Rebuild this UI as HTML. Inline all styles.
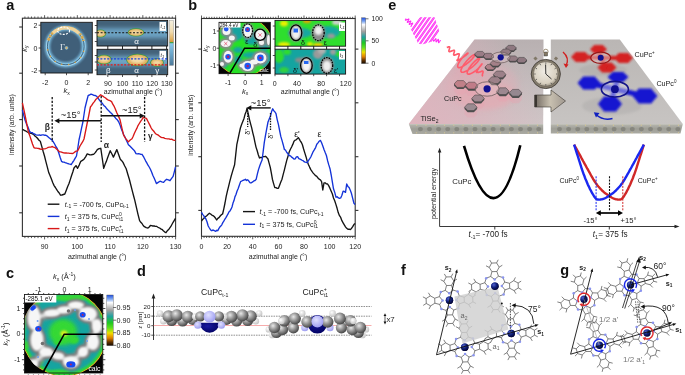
<!DOCTYPE html><html><head><meta charset="utf-8"><style>html,body{margin:0;padding:0;background:#fff;overflow:hidden} svg{display:block;will-change:transform} text{font-family:"Liberation Sans", sans-serif;}</style></head><body>
<svg width="685" height="375" viewBox="0 0 685 375">
<rect width="685" height="375" fill="#fff"/>
<defs>
<filter id="b1" x="-50%" y="-50%" width="200%" height="200%"><feGaussianBlur stdDeviation="1"/></filter>
<filter id="b15" x="-50%" y="-50%" width="200%" height="200%"><feGaussianBlur stdDeviation="1.5"/></filter>
<filter id="b2" x="-50%" y="-50%" width="200%" height="200%"><feGaussianBlur stdDeviation="2"/></filter>
<filter id="b3" x="-50%" y="-50%" width="200%" height="200%"><feGaussianBlur stdDeviation="3"/></filter>
<filter id="b05" x="-50%" y="-50%" width="200%" height="200%"><feGaussianBlur stdDeviation="0.6"/></filter>
<clipPath id="cpa1"><rect x="40.8" y="22.3" width="51.5" height="50.7"/></clipPath>
<clipPath id="cpa2"><rect x="97" y="20.4" width="70.7" height="25.6"/></clipPath>
<clipPath id="cpa3"><rect x="97" y="49.3" width="70.7" height="25.4"/></clipPath>
<clipPath id="cpb1"><circle cx="243.6" cy="46.8" r="29.8"/></clipPath><clipPath id="cpb0"><rect x="219" y="22.3" width="51.3" height="51.4"/></clipPath>
<clipPath id="cpb2"><rect x="275" y="20.4" width="70.6" height="25.8"/></clipPath>
<clipPath id="cpb3"><rect x="275" y="49.2" width="70.6" height="24.9"/></clipPath>
<clipPath id="cpc"><circle cx="64.2" cy="333.6" r="43"/></clipPath>
<clipPath id="cpc0"><rect x="24.5" y="294.5" width="78.5" height="80.5"/></clipPath>
<linearGradient id="cba" x1="0" y1="0" x2="0" y2="1">
<stop offset="0" stop-color="#f4f0e0"/><stop offset="0.25" stop-color="#f0dcb0"/><stop offset="0.42" stop-color="#e0b060"/><stop offset="0.47" stop-color="#d89838"/><stop offset="0.49" stop-color="#40a040"/><stop offset="0.52" stop-color="#88c8e8"/><stop offset="0.75" stop-color="#6aa4c8"/><stop offset="1" stop-color="#4c7898"/></linearGradient>
<linearGradient id="cbb" x1="0" y1="0" x2="0" y2="1">
<stop offset="0" stop-color="#2050e0"/><stop offset="0.08" stop-color="#80a8f0"/><stop offset="0.15" stop-color="#ffffff"/><stop offset="0.3" stop-color="#a0a0a0"/><stop offset="0.42" stop-color="#20a0a0"/><stop offset="0.55" stop-color="#20c820"/><stop offset="0.65" stop-color="#60e020"/><stop offset="0.75" stop-color="#f0e000"/><stop offset="0.85" stop-color="#e08000"/><stop offset="0.93" stop-color="#603000"/><stop offset="1" stop-color="#100800"/></linearGradient>
</defs>
<defs>
<radialGradient id="sg" cx="0.38" cy="0.35" r="0.7"><stop offset="0" stop-color="#e8e8e8"/><stop offset="0.45" stop-color="#989898"/><stop offset="1" stop-color="#3c3c3c"/></radialGradient>
<radialGradient id="sw" cx="0.38" cy="0.35" r="0.7"><stop offset="0" stop-color="#ffffff"/><stop offset="1" stop-color="#c0c0c0"/></radialGradient>
<radialGradient id="sb" cx="0.4" cy="0.35" r="0.7"><stop offset="0" stop-color="#e0e0ff"/><stop offset="1" stop-color="#9898f0"/></radialGradient>
<radialGradient id="sn" cx="0.4" cy="0.35" r="0.7"><stop offset="0" stop-color="#1a1aa0"/><stop offset="1" stop-color="#000060"/></radialGradient>
<radialGradient id="cu" cx="0.35" cy="0.3" r="0.75"><stop offset="0" stop-color="#5060d0"/><stop offset="0.5" stop-color="#10207a"/><stop offset="1" stop-color="#000030"/></radialGradient>
</defs>
<rect x="22.4" y="18.2" width="153.2" height="218.20000000000002" fill="none" stroke="#333" stroke-width="1.1"/>
<line x1="19.20" y1="27.00" x2="22.40" y2="27.00" stroke="#333" stroke-width="1.1" />
<line x1="175.60" y1="27.00" x2="178.80" y2="27.00" stroke="#333" stroke-width="1.1" />
<line x1="19.20" y1="73.20" x2="22.40" y2="73.20" stroke="#333" stroke-width="1.1" />
<line x1="175.60" y1="73.20" x2="178.80" y2="73.20" stroke="#333" stroke-width="1.1" />
<line x1="19.20" y1="119.60" x2="22.40" y2="119.60" stroke="#333" stroke-width="1.1" />
<line x1="175.60" y1="119.60" x2="178.80" y2="119.60" stroke="#333" stroke-width="1.1" />
<line x1="19.20" y1="166.00" x2="22.40" y2="166.00" stroke="#333" stroke-width="1.1" />
<line x1="175.60" y1="166.00" x2="178.80" y2="166.00" stroke="#333" stroke-width="1.1" />
<line x1="19.20" y1="212.80" x2="22.40" y2="212.80" stroke="#333" stroke-width="1.1" />
<line x1="175.60" y1="212.80" x2="178.80" y2="212.80" stroke="#333" stroke-width="1.1" />
<line x1="24.92" y1="236.40" x2="24.92" y2="238.10" stroke="#333" stroke-width="0.8" />
<line x1="24.92" y1="18.20" x2="24.92" y2="16.50" stroke="#333" stroke-width="0.8" />
<line x1="28.20" y1="236.40" x2="28.20" y2="238.10" stroke="#333" stroke-width="0.8" />
<line x1="28.20" y1="18.20" x2="28.20" y2="16.50" stroke="#333" stroke-width="0.8" />
<line x1="31.47" y1="236.40" x2="31.47" y2="238.10" stroke="#333" stroke-width="0.8" />
<line x1="31.47" y1="18.20" x2="31.47" y2="16.50" stroke="#333" stroke-width="0.8" />
<line x1="34.75" y1="236.40" x2="34.75" y2="238.10" stroke="#333" stroke-width="0.8" />
<line x1="34.75" y1="18.20" x2="34.75" y2="16.50" stroke="#333" stroke-width="0.8" />
<line x1="38.02" y1="236.40" x2="38.02" y2="238.10" stroke="#333" stroke-width="0.8" />
<line x1="38.02" y1="18.20" x2="38.02" y2="16.50" stroke="#333" stroke-width="0.8" />
<line x1="41.30" y1="236.40" x2="41.30" y2="238.10" stroke="#333" stroke-width="0.8" />
<line x1="41.30" y1="18.20" x2="41.30" y2="16.50" stroke="#333" stroke-width="0.8" />
<line x1="44.58" y1="236.40" x2="44.58" y2="239.40" stroke="#333" stroke-width="0.8" />
<line x1="44.58" y1="18.20" x2="44.58" y2="15.20" stroke="#333" stroke-width="0.8" />
<line x1="47.85" y1="236.40" x2="47.85" y2="238.10" stroke="#333" stroke-width="0.8" />
<line x1="47.85" y1="18.20" x2="47.85" y2="16.50" stroke="#333" stroke-width="0.8" />
<line x1="51.13" y1="236.40" x2="51.13" y2="238.10" stroke="#333" stroke-width="0.8" />
<line x1="51.13" y1="18.20" x2="51.13" y2="16.50" stroke="#333" stroke-width="0.8" />
<line x1="54.40" y1="236.40" x2="54.40" y2="238.10" stroke="#333" stroke-width="0.8" />
<line x1="54.40" y1="18.20" x2="54.40" y2="16.50" stroke="#333" stroke-width="0.8" />
<line x1="57.68" y1="236.40" x2="57.68" y2="238.10" stroke="#333" stroke-width="0.8" />
<line x1="57.68" y1="18.20" x2="57.68" y2="16.50" stroke="#333" stroke-width="0.8" />
<line x1="60.95" y1="236.40" x2="60.95" y2="238.10" stroke="#333" stroke-width="0.8" />
<line x1="60.95" y1="18.20" x2="60.95" y2="16.50" stroke="#333" stroke-width="0.8" />
<line x1="64.23" y1="236.40" x2="64.23" y2="238.10" stroke="#333" stroke-width="0.8" />
<line x1="64.23" y1="18.20" x2="64.23" y2="16.50" stroke="#333" stroke-width="0.8" />
<line x1="67.51" y1="236.40" x2="67.51" y2="238.10" stroke="#333" stroke-width="0.8" />
<line x1="67.51" y1="18.20" x2="67.51" y2="16.50" stroke="#333" stroke-width="0.8" />
<line x1="70.78" y1="236.40" x2="70.78" y2="238.10" stroke="#333" stroke-width="0.8" />
<line x1="70.78" y1="18.20" x2="70.78" y2="16.50" stroke="#333" stroke-width="0.8" />
<line x1="74.06" y1="236.40" x2="74.06" y2="238.10" stroke="#333" stroke-width="0.8" />
<line x1="74.06" y1="18.20" x2="74.06" y2="16.50" stroke="#333" stroke-width="0.8" />
<line x1="77.33" y1="236.40" x2="77.33" y2="239.40" stroke="#333" stroke-width="0.8" />
<line x1="77.33" y1="18.20" x2="77.33" y2="15.20" stroke="#333" stroke-width="0.8" />
<line x1="80.61" y1="236.40" x2="80.61" y2="238.10" stroke="#333" stroke-width="0.8" />
<line x1="80.61" y1="18.20" x2="80.61" y2="16.50" stroke="#333" stroke-width="0.8" />
<line x1="83.88" y1="236.40" x2="83.88" y2="238.10" stroke="#333" stroke-width="0.8" />
<line x1="83.88" y1="18.20" x2="83.88" y2="16.50" stroke="#333" stroke-width="0.8" />
<line x1="87.16" y1="236.40" x2="87.16" y2="238.10" stroke="#333" stroke-width="0.8" />
<line x1="87.16" y1="18.20" x2="87.16" y2="16.50" stroke="#333" stroke-width="0.8" />
<line x1="90.43" y1="236.40" x2="90.43" y2="238.10" stroke="#333" stroke-width="0.8" />
<line x1="90.43" y1="18.20" x2="90.43" y2="16.50" stroke="#333" stroke-width="0.8" />
<line x1="93.71" y1="236.40" x2="93.71" y2="238.10" stroke="#333" stroke-width="0.8" />
<line x1="93.71" y1="18.20" x2="93.71" y2="16.50" stroke="#333" stroke-width="0.8" />
<line x1="96.99" y1="236.40" x2="96.99" y2="238.10" stroke="#333" stroke-width="0.8" />
<line x1="96.99" y1="18.20" x2="96.99" y2="16.50" stroke="#333" stroke-width="0.8" />
<line x1="100.26" y1="236.40" x2="100.26" y2="238.10" stroke="#333" stroke-width="0.8" />
<line x1="100.26" y1="18.20" x2="100.26" y2="16.50" stroke="#333" stroke-width="0.8" />
<line x1="103.54" y1="236.40" x2="103.54" y2="238.10" stroke="#333" stroke-width="0.8" />
<line x1="103.54" y1="18.20" x2="103.54" y2="16.50" stroke="#333" stroke-width="0.8" />
<line x1="106.81" y1="236.40" x2="106.81" y2="238.10" stroke="#333" stroke-width="0.8" />
<line x1="106.81" y1="18.20" x2="106.81" y2="16.50" stroke="#333" stroke-width="0.8" />
<line x1="110.09" y1="236.40" x2="110.09" y2="239.40" stroke="#333" stroke-width="0.8" />
<line x1="110.09" y1="18.20" x2="110.09" y2="15.20" stroke="#333" stroke-width="0.8" />
<line x1="113.36" y1="236.40" x2="113.36" y2="238.10" stroke="#333" stroke-width="0.8" />
<line x1="113.36" y1="18.20" x2="113.36" y2="16.50" stroke="#333" stroke-width="0.8" />
<line x1="116.64" y1="236.40" x2="116.64" y2="238.10" stroke="#333" stroke-width="0.8" />
<line x1="116.64" y1="18.20" x2="116.64" y2="16.50" stroke="#333" stroke-width="0.8" />
<line x1="119.91" y1="236.40" x2="119.91" y2="238.10" stroke="#333" stroke-width="0.8" />
<line x1="119.91" y1="18.20" x2="119.91" y2="16.50" stroke="#333" stroke-width="0.8" />
<line x1="123.19" y1="236.40" x2="123.19" y2="238.10" stroke="#333" stroke-width="0.8" />
<line x1="123.19" y1="18.20" x2="123.19" y2="16.50" stroke="#333" stroke-width="0.8" />
<line x1="126.47" y1="236.40" x2="126.47" y2="238.10" stroke="#333" stroke-width="0.8" />
<line x1="126.47" y1="18.20" x2="126.47" y2="16.50" stroke="#333" stroke-width="0.8" />
<line x1="129.74" y1="236.40" x2="129.74" y2="238.10" stroke="#333" stroke-width="0.8" />
<line x1="129.74" y1="18.20" x2="129.74" y2="16.50" stroke="#333" stroke-width="0.8" />
<line x1="133.02" y1="236.40" x2="133.02" y2="238.10" stroke="#333" stroke-width="0.8" />
<line x1="133.02" y1="18.20" x2="133.02" y2="16.50" stroke="#333" stroke-width="0.8" />
<line x1="136.29" y1="236.40" x2="136.29" y2="238.10" stroke="#333" stroke-width="0.8" />
<line x1="136.29" y1="18.20" x2="136.29" y2="16.50" stroke="#333" stroke-width="0.8" />
<line x1="139.57" y1="236.40" x2="139.57" y2="238.10" stroke="#333" stroke-width="0.8" />
<line x1="139.57" y1="18.20" x2="139.57" y2="16.50" stroke="#333" stroke-width="0.8" />
<line x1="142.84" y1="236.40" x2="142.84" y2="239.40" stroke="#333" stroke-width="0.8" />
<line x1="142.84" y1="18.20" x2="142.84" y2="15.20" stroke="#333" stroke-width="0.8" />
<line x1="146.12" y1="236.40" x2="146.12" y2="238.10" stroke="#333" stroke-width="0.8" />
<line x1="146.12" y1="18.20" x2="146.12" y2="16.50" stroke="#333" stroke-width="0.8" />
<line x1="149.40" y1="236.40" x2="149.40" y2="238.10" stroke="#333" stroke-width="0.8" />
<line x1="149.40" y1="18.20" x2="149.40" y2="16.50" stroke="#333" stroke-width="0.8" />
<line x1="152.67" y1="236.40" x2="152.67" y2="238.10" stroke="#333" stroke-width="0.8" />
<line x1="152.67" y1="18.20" x2="152.67" y2="16.50" stroke="#333" stroke-width="0.8" />
<line x1="155.95" y1="236.40" x2="155.95" y2="238.10" stroke="#333" stroke-width="0.8" />
<line x1="155.95" y1="18.20" x2="155.95" y2="16.50" stroke="#333" stroke-width="0.8" />
<line x1="159.22" y1="236.40" x2="159.22" y2="238.10" stroke="#333" stroke-width="0.8" />
<line x1="159.22" y1="18.20" x2="159.22" y2="16.50" stroke="#333" stroke-width="0.8" />
<line x1="162.50" y1="236.40" x2="162.50" y2="238.10" stroke="#333" stroke-width="0.8" />
<line x1="162.50" y1="18.20" x2="162.50" y2="16.50" stroke="#333" stroke-width="0.8" />
<line x1="165.77" y1="236.40" x2="165.77" y2="238.10" stroke="#333" stroke-width="0.8" />
<line x1="165.77" y1="18.20" x2="165.77" y2="16.50" stroke="#333" stroke-width="0.8" />
<line x1="169.05" y1="236.40" x2="169.05" y2="238.10" stroke="#333" stroke-width="0.8" />
<line x1="169.05" y1="18.20" x2="169.05" y2="16.50" stroke="#333" stroke-width="0.8" />
<line x1="172.32" y1="236.40" x2="172.32" y2="238.10" stroke="#333" stroke-width="0.8" />
<line x1="172.32" y1="18.20" x2="172.32" y2="16.50" stroke="#333" stroke-width="0.8" />
<line x1="175.60" y1="236.40" x2="175.60" y2="239.40" stroke="#333" stroke-width="0.8" />
<line x1="175.60" y1="18.20" x2="175.60" y2="15.20" stroke="#333" stroke-width="0.8" />
<text x="44.6" y="249.0" font-size="7" text-anchor="middle" font-weight="normal" fill="#222"  style="">90</text>
<text x="77.3" y="249.0" font-size="7" text-anchor="middle" font-weight="normal" fill="#222"  style="">100</text>
<text x="110.1" y="249.0" font-size="7" text-anchor="middle" font-weight="normal" fill="#222"  style="">110</text>
<text x="142.8" y="249.0" font-size="7" text-anchor="middle" font-weight="normal" fill="#222"  style="">120</text>
<text x="175.6" y="249.0" font-size="7" text-anchor="middle" font-weight="normal" fill="#222"  style="">130</text>
<text x="97.2" y="258.8" font-size="7" text-anchor="middle" font-weight="normal" fill="#222"  style="">azimuthal angle (°)</text>
<text transform="translate(13.9,124.6) rotate(-90)" font-size="7" text-anchor="middle" fill="#222">intensity (arb. units)</text>
<g clip-path="url(#cpa1)"><rect x="40.8" y="22.3" width="51.5" height="50.7" fill="#405f79"/>
<circle cx="65.8" cy="46.4" r="18.4" fill="none" stroke="#78b8dc" stroke-width="5.5" filter="url(#b1)" opacity="0.95"/>
<circle cx="65.8" cy="46.4" r="19.3" fill="none" stroke="#9ed2ee" stroke-width="1.2"/>
<circle cx="65.8" cy="46.4" r="17.4" fill="none" stroke="#8ccaea" stroke-width="0.8"/>
<circle cx="65.8" cy="46.4" r="18.35" fill="none" stroke="#3e6078" stroke-width="0.9"/>
<path d="M48.2,40.5 A18.4,18.4 0 0 1 83.6,41" fill="none" stroke="#d8a850" stroke-width="2.8" stroke-dasharray="3,1,2,1" filter="url(#b05)"/>
<path d="M53,33 A18.4,18.4 0 0 1 79,33.5" fill="none" stroke="#f0d49c" stroke-width="3.2" filter="url(#b05)"/>
<circle cx="83.6" cy="51.2" r="0.8" fill="#d8a040"/>
<circle cx="80.5" cy="57.5" r="0.8" fill="#d8a040"/>
<circle cx="75.3" cy="62.2" r="0.8" fill="#d8a040"/>
<circle cx="68.7" cy="64.6" r="0.8" fill="#d8a040"/>
<circle cx="61.7" cy="64.3" r="0.8" fill="#d8a040"/>
<circle cx="55.2" cy="61.5" r="0.8" fill="#d8a040"/>
<circle cx="50.4" cy="56.4" r="0.8" fill="#d8a040"/>
<circle cx="47.7" cy="49.9" r="0.8" fill="#d8a040"/>
<ellipse cx="63.6" cy="30.7" rx="6" ry="3.7" fill="none" stroke="#fff" stroke-width="1.1" stroke-dasharray="2,1.2"/>
<text x="62.4" y="50" font-size="8.5" style="font-family:Liberation Serif" fill="#e8eef4" text-anchor="middle">Γ</text>
<circle cx="66.5" cy="47.9" r="1.4" fill="#e0b060" stroke="#8cc4e4" stroke-width="0.7"/>
</g>
<rect x="40.8" y="22.3" width="51.5" height="50.7" fill="none" stroke="#111" stroke-width="0.9"/>
<line x1="38.60" y1="25.20" x2="40.80" y2="25.20" stroke="#222" stroke-width="0.8" />
<text x="37.5" y="27.7" font-size="7" text-anchor="end" font-weight="normal" fill="#222"  style="">2</text>
<line x1="38.60" y1="48.00" x2="40.80" y2="48.00" stroke="#222" stroke-width="0.8" />
<text x="37.5" y="50.5" font-size="7" text-anchor="end" font-weight="normal" fill="#222"  style="">0</text>
<line x1="38.60" y1="70.90" x2="40.80" y2="70.90" stroke="#222" stroke-width="0.8" />
<text x="37.5" y="73.4" font-size="7" text-anchor="end" font-weight="normal" fill="#222"  style="">-2</text>
<line x1="45.20" y1="73.00" x2="45.20" y2="75.20" stroke="#222" stroke-width="0.8" />
<text x="45.2" y="85.3" font-size="7" text-anchor="middle" font-weight="normal" fill="#222"  style="">-2</text>
<line x1="66.50" y1="73.00" x2="66.50" y2="75.20" stroke="#222" stroke-width="0.8" />
<text x="66.5" y="85.3" font-size="7" text-anchor="middle" font-weight="normal" fill="#222"  style="">0</text>
<line x1="88.20" y1="73.00" x2="88.20" y2="75.20" stroke="#222" stroke-width="0.8" />
<text x="88.2" y="85.3" font-size="7" text-anchor="middle" font-weight="normal" fill="#222"  style="">2</text>
<text x="66.5" y="93.0" font-size="7.5" text-anchor="middle" font-weight="normal" fill="#222"  style=""><tspan font-style="italic">k</tspan><tspan font-size="5" dy="1.5">x</tspan></text>
<text transform="translate(26.7,48.5) rotate(-90)" font-size="7.5" text-anchor="middle" fill="#222"><tspan font-style="italic">k</tspan><tspan font-size="5" dy="1.5">y</tspan></text>
<g clip-path="url(#cpa2)"><rect x="97" y="20.4" width="70.7" height="25.6" fill="#436279"/>
<rect x="92" y="28.200000000000003" width="80" height="10" fill="#78b4d8" filter="url(#b2)" opacity="0.8"/>
<ellipse cx="100.5" cy="33.5" rx="5.8" ry="4.0" fill="#3c9a3c" filter="url(#b05)"/>
<ellipse cx="100.5" cy="33.5" rx="5" ry="3.2" fill="#e0b060" filter="url(#b05)"/>
<ellipse cx="100.5" cy="33.5" rx="3.5" ry="1.92" fill="#f4dca8" filter="url(#b1)"/>
<ellipse cx="136" cy="32.4" rx="8.3" ry="4.1" fill="#3c9a3c" filter="url(#b05)"/>
<ellipse cx="136" cy="32.4" rx="7.5" ry="3.3" fill="#e0b060" filter="url(#b05)"/>
<ellipse cx="136" cy="32.4" rx="5.25" ry="1.9799999999999998" fill="#f4dca8" filter="url(#b1)"/>
<rect x="159.5" y="21.9" width="6.5" height="9" fill="#fff"/>
<text x="160.5" y="27.9" font-size="5" font-style="italic" fill="#222">t<tspan font-size="4" dy="1">-1</tspan></text>
</g>
<rect x="97" y="20.4" width="70.7" height="25.6" fill="none" stroke="#111" stroke-width="0.9"/>
<g clip-path="url(#cpa3)"><rect x="97" y="49.3" width="70.7" height="25.400000000000006" fill="#436279"/>
<rect x="92" y="56.0" width="80" height="10" fill="#78b4d8" filter="url(#b2)" opacity="0.8"/>
<ellipse cx="104" cy="59.5" rx="7.8" ry="4.8" fill="#3c9a3c" filter="url(#b05)"/>
<ellipse cx="104" cy="59.5" rx="7" ry="4" fill="#e0b060" filter="url(#b05)"/>
<ellipse cx="104" cy="59.5" rx="4.8999999999999995" ry="2.4" fill="#f4dca8" filter="url(#b1)"/>
<ellipse cx="137.5" cy="60" rx="11.3" ry="6.3" fill="#3c9a3c" filter="url(#b05)"/>
<ellipse cx="137.5" cy="60" rx="10.5" ry="5.5" fill="#e0b060" filter="url(#b05)"/>
<ellipse cx="137.5" cy="60" rx="7.35" ry="3.3" fill="#f4dca8" filter="url(#b1)"/>
<ellipse cx="157" cy="62.5" rx="6.8" ry="4.3" fill="#3c9a3c" filter="url(#b05)"/>
<ellipse cx="157" cy="62.5" rx="6" ry="3.5" fill="#e0b060" filter="url(#b05)"/>
<ellipse cx="157" cy="62.5" rx="4.199999999999999" ry="2.1" fill="#f4dca8" filter="url(#b1)"/>
<rect x="159.5" y="50.8" width="6.5" height="9" fill="#fff"/>
<text x="160.5" y="56.8" font-size="5" font-style="italic" fill="#222">t<tspan font-size="4" dy="1">1</tspan></text>
</g>
<rect x="97" y="49.3" width="70.7" height="25.400000000000006" fill="none" stroke="#111" stroke-width="0.9"/>
<line x1="97.00" y1="32.70" x2="167.70" y2="32.70" stroke="#111" stroke-width="1.1" stroke-dasharray="2,1.6"/>
<line x1="97.00" y1="58.90" x2="167.70" y2="58.90" stroke="#1a3ee0" stroke-width="1.3" stroke-dasharray="2,1.4"/>
<line x1="97.00" y1="64.80" x2="167.70" y2="64.80" stroke="#e01818" stroke-width="1.3" stroke-dasharray="2,1.4"/>
<line x1="107.80" y1="46.00" x2="107.80" y2="49.30" stroke="#111" stroke-width="0.9" />
<line x1="107.80" y1="74.70" x2="107.80" y2="77.00" stroke="#222" stroke-width="0.8" />
<line x1="122.50" y1="46.00" x2="122.50" y2="49.30" stroke="#111" stroke-width="0.9" />
<line x1="122.50" y1="74.70" x2="122.50" y2="77.00" stroke="#222" stroke-width="0.8" />
<line x1="137.20" y1="46.00" x2="137.20" y2="49.30" stroke="#111" stroke-width="0.9" />
<line x1="137.20" y1="74.70" x2="137.20" y2="77.00" stroke="#222" stroke-width="0.8" />
<line x1="151.90" y1="46.00" x2="151.90" y2="49.30" stroke="#111" stroke-width="0.9" />
<line x1="151.90" y1="74.70" x2="151.90" y2="77.00" stroke="#222" stroke-width="0.8" />
<line x1="166.60" y1="46.00" x2="166.60" y2="49.30" stroke="#111" stroke-width="0.9" />
<line x1="166.60" y1="74.70" x2="166.60" y2="77.00" stroke="#222" stroke-width="0.8" />
<line x1="94.80" y1="25.50" x2="97.00" y2="25.50" stroke="#222" stroke-width="0.8" />
<line x1="94.80" y1="32.70" x2="97.00" y2="32.70" stroke="#222" stroke-width="0.8" />
<line x1="94.80" y1="41.50" x2="97.00" y2="41.50" stroke="#222" stroke-width="0.8" />
<line x1="94.80" y1="55.50" x2="97.00" y2="55.50" stroke="#222" stroke-width="0.8" />
<line x1="94.80" y1="62.00" x2="97.00" y2="62.00" stroke="#222" stroke-width="0.8" />
<line x1="94.80" y1="70.00" x2="97.00" y2="70.00" stroke="#222" stroke-width="0.8" />
<text x="136.5" y="43.8" font-size="8" text-anchor="middle" font-weight="normal" fill="#fff"  style="">α</text>
<text x="108.2" y="73.2" font-size="8" text-anchor="middle" font-weight="normal" fill="#fff"  style="">β</text>
<text x="136.5" y="73.2" font-size="8" text-anchor="middle" font-weight="normal" fill="#fff"  style="">α</text>
<text x="157.3" y="73.2" font-size="8" text-anchor="middle" font-weight="normal" fill="#fff"  style="">γ</text>
<text x="108.0" y="86.1" font-size="7" text-anchor="middle" font-weight="normal" fill="#222"  style="">90</text>
<text x="122.5" y="86.1" font-size="7" text-anchor="middle" font-weight="normal" fill="#222"  style="">100</text>
<text x="137.3" y="86.1" font-size="7" text-anchor="middle" font-weight="normal" fill="#222"  style="">110</text>
<text x="152.2" y="86.1" font-size="7" text-anchor="middle" font-weight="normal" fill="#222"  style="">120</text>
<text x="166.8" y="86.1" font-size="7" text-anchor="middle" font-weight="normal" fill="#222"  style="">130</text>
<text x="133.0" y="94.3" font-size="7" text-anchor="middle" font-weight="normal" fill="#222"  style="">azimuthal angle (°)</text>
<rect x="169.4" y="20.4" width="4.2" height="45" fill="url(#cba)" stroke="#888" stroke-width="0.4"/>
<rect x="201.5" y="18.5" width="153.7" height="217.8" fill="none" stroke="#333" stroke-width="1.1"/>
<line x1="198.30" y1="49.10" x2="201.50" y2="49.10" stroke="#333" stroke-width="1.1" />
<line x1="355.20" y1="49.10" x2="358.40" y2="49.10" stroke="#333" stroke-width="1.1" />
<line x1="198.30" y1="102.80" x2="201.50" y2="102.80" stroke="#333" stroke-width="1.1" />
<line x1="355.20" y1="102.80" x2="358.40" y2="102.80" stroke="#333" stroke-width="1.1" />
<line x1="198.30" y1="156.70" x2="201.50" y2="156.70" stroke="#333" stroke-width="1.1" />
<line x1="355.20" y1="156.70" x2="358.40" y2="156.70" stroke="#333" stroke-width="1.1" />
<line x1="198.30" y1="210.40" x2="201.50" y2="210.40" stroke="#333" stroke-width="1.1" />
<line x1="355.20" y1="210.40" x2="358.40" y2="210.40" stroke="#333" stroke-width="1.1" />
<line x1="201.50" y1="236.30" x2="201.50" y2="239.30" stroke="#333" stroke-width="0.8" />
<line x1="201.50" y1="18.50" x2="201.50" y2="15.50" stroke="#333" stroke-width="0.8" />
<line x1="204.06" y1="236.30" x2="204.06" y2="238.00" stroke="#333" stroke-width="0.8" />
<line x1="204.06" y1="18.50" x2="204.06" y2="16.80" stroke="#333" stroke-width="0.8" />
<line x1="206.62" y1="236.30" x2="206.62" y2="238.00" stroke="#333" stroke-width="0.8" />
<line x1="206.62" y1="18.50" x2="206.62" y2="16.80" stroke="#333" stroke-width="0.8" />
<line x1="209.19" y1="236.30" x2="209.19" y2="238.00" stroke="#333" stroke-width="0.8" />
<line x1="209.19" y1="18.50" x2="209.19" y2="16.80" stroke="#333" stroke-width="0.8" />
<line x1="211.75" y1="236.30" x2="211.75" y2="238.00" stroke="#333" stroke-width="0.8" />
<line x1="211.75" y1="18.50" x2="211.75" y2="16.80" stroke="#333" stroke-width="0.8" />
<line x1="214.31" y1="236.30" x2="214.31" y2="238.00" stroke="#333" stroke-width="0.8" />
<line x1="214.31" y1="18.50" x2="214.31" y2="16.80" stroke="#333" stroke-width="0.8" />
<line x1="216.87" y1="236.30" x2="216.87" y2="238.00" stroke="#333" stroke-width="0.8" />
<line x1="216.87" y1="18.50" x2="216.87" y2="16.80" stroke="#333" stroke-width="0.8" />
<line x1="219.43" y1="236.30" x2="219.43" y2="238.00" stroke="#333" stroke-width="0.8" />
<line x1="219.43" y1="18.50" x2="219.43" y2="16.80" stroke="#333" stroke-width="0.8" />
<line x1="221.99" y1="236.30" x2="221.99" y2="238.00" stroke="#333" stroke-width="0.8" />
<line x1="221.99" y1="18.50" x2="221.99" y2="16.80" stroke="#333" stroke-width="0.8" />
<line x1="224.56" y1="236.30" x2="224.56" y2="238.00" stroke="#333" stroke-width="0.8" />
<line x1="224.56" y1="18.50" x2="224.56" y2="16.80" stroke="#333" stroke-width="0.8" />
<line x1="227.12" y1="236.30" x2="227.12" y2="239.30" stroke="#333" stroke-width="0.8" />
<line x1="227.12" y1="18.50" x2="227.12" y2="15.50" stroke="#333" stroke-width="0.8" />
<line x1="229.68" y1="236.30" x2="229.68" y2="238.00" stroke="#333" stroke-width="0.8" />
<line x1="229.68" y1="18.50" x2="229.68" y2="16.80" stroke="#333" stroke-width="0.8" />
<line x1="232.24" y1="236.30" x2="232.24" y2="238.00" stroke="#333" stroke-width="0.8" />
<line x1="232.24" y1="18.50" x2="232.24" y2="16.80" stroke="#333" stroke-width="0.8" />
<line x1="234.80" y1="236.30" x2="234.80" y2="238.00" stroke="#333" stroke-width="0.8" />
<line x1="234.80" y1="18.50" x2="234.80" y2="16.80" stroke="#333" stroke-width="0.8" />
<line x1="237.36" y1="236.30" x2="237.36" y2="238.00" stroke="#333" stroke-width="0.8" />
<line x1="237.36" y1="18.50" x2="237.36" y2="16.80" stroke="#333" stroke-width="0.8" />
<line x1="239.93" y1="236.30" x2="239.93" y2="238.00" stroke="#333" stroke-width="0.8" />
<line x1="239.93" y1="18.50" x2="239.93" y2="16.80" stroke="#333" stroke-width="0.8" />
<line x1="242.49" y1="236.30" x2="242.49" y2="238.00" stroke="#333" stroke-width="0.8" />
<line x1="242.49" y1="18.50" x2="242.49" y2="16.80" stroke="#333" stroke-width="0.8" />
<line x1="245.05" y1="236.30" x2="245.05" y2="238.00" stroke="#333" stroke-width="0.8" />
<line x1="245.05" y1="18.50" x2="245.05" y2="16.80" stroke="#333" stroke-width="0.8" />
<line x1="247.61" y1="236.30" x2="247.61" y2="238.00" stroke="#333" stroke-width="0.8" />
<line x1="247.61" y1="18.50" x2="247.61" y2="16.80" stroke="#333" stroke-width="0.8" />
<line x1="250.17" y1="236.30" x2="250.17" y2="238.00" stroke="#333" stroke-width="0.8" />
<line x1="250.17" y1="18.50" x2="250.17" y2="16.80" stroke="#333" stroke-width="0.8" />
<line x1="252.73" y1="236.30" x2="252.73" y2="239.30" stroke="#333" stroke-width="0.8" />
<line x1="252.73" y1="18.50" x2="252.73" y2="15.50" stroke="#333" stroke-width="0.8" />
<line x1="255.29" y1="236.30" x2="255.29" y2="238.00" stroke="#333" stroke-width="0.8" />
<line x1="255.29" y1="18.50" x2="255.29" y2="16.80" stroke="#333" stroke-width="0.8" />
<line x1="257.86" y1="236.30" x2="257.86" y2="238.00" stroke="#333" stroke-width="0.8" />
<line x1="257.86" y1="18.50" x2="257.86" y2="16.80" stroke="#333" stroke-width="0.8" />
<line x1="260.42" y1="236.30" x2="260.42" y2="238.00" stroke="#333" stroke-width="0.8" />
<line x1="260.42" y1="18.50" x2="260.42" y2="16.80" stroke="#333" stroke-width="0.8" />
<line x1="262.98" y1="236.30" x2="262.98" y2="238.00" stroke="#333" stroke-width="0.8" />
<line x1="262.98" y1="18.50" x2="262.98" y2="16.80" stroke="#333" stroke-width="0.8" />
<line x1="265.54" y1="236.30" x2="265.54" y2="238.00" stroke="#333" stroke-width="0.8" />
<line x1="265.54" y1="18.50" x2="265.54" y2="16.80" stroke="#333" stroke-width="0.8" />
<line x1="268.10" y1="236.30" x2="268.10" y2="238.00" stroke="#333" stroke-width="0.8" />
<line x1="268.10" y1="18.50" x2="268.10" y2="16.80" stroke="#333" stroke-width="0.8" />
<line x1="270.66" y1="236.30" x2="270.66" y2="238.00" stroke="#333" stroke-width="0.8" />
<line x1="270.66" y1="18.50" x2="270.66" y2="16.80" stroke="#333" stroke-width="0.8" />
<line x1="273.23" y1="236.30" x2="273.23" y2="238.00" stroke="#333" stroke-width="0.8" />
<line x1="273.23" y1="18.50" x2="273.23" y2="16.80" stroke="#333" stroke-width="0.8" />
<line x1="275.79" y1="236.30" x2="275.79" y2="238.00" stroke="#333" stroke-width="0.8" />
<line x1="275.79" y1="18.50" x2="275.79" y2="16.80" stroke="#333" stroke-width="0.8" />
<line x1="278.35" y1="236.30" x2="278.35" y2="239.30" stroke="#333" stroke-width="0.8" />
<line x1="278.35" y1="18.50" x2="278.35" y2="15.50" stroke="#333" stroke-width="0.8" />
<line x1="280.91" y1="236.30" x2="280.91" y2="238.00" stroke="#333" stroke-width="0.8" />
<line x1="280.91" y1="18.50" x2="280.91" y2="16.80" stroke="#333" stroke-width="0.8" />
<line x1="283.47" y1="236.30" x2="283.47" y2="238.00" stroke="#333" stroke-width="0.8" />
<line x1="283.47" y1="18.50" x2="283.47" y2="16.80" stroke="#333" stroke-width="0.8" />
<line x1="286.03" y1="236.30" x2="286.03" y2="238.00" stroke="#333" stroke-width="0.8" />
<line x1="286.03" y1="18.50" x2="286.03" y2="16.80" stroke="#333" stroke-width="0.8" />
<line x1="288.60" y1="236.30" x2="288.60" y2="238.00" stroke="#333" stroke-width="0.8" />
<line x1="288.60" y1="18.50" x2="288.60" y2="16.80" stroke="#333" stroke-width="0.8" />
<line x1="291.16" y1="236.30" x2="291.16" y2="238.00" stroke="#333" stroke-width="0.8" />
<line x1="291.16" y1="18.50" x2="291.16" y2="16.80" stroke="#333" stroke-width="0.8" />
<line x1="293.72" y1="236.30" x2="293.72" y2="238.00" stroke="#333" stroke-width="0.8" />
<line x1="293.72" y1="18.50" x2="293.72" y2="16.80" stroke="#333" stroke-width="0.8" />
<line x1="296.28" y1="236.30" x2="296.28" y2="238.00" stroke="#333" stroke-width="0.8" />
<line x1="296.28" y1="18.50" x2="296.28" y2="16.80" stroke="#333" stroke-width="0.8" />
<line x1="298.84" y1="236.30" x2="298.84" y2="238.00" stroke="#333" stroke-width="0.8" />
<line x1="298.84" y1="18.50" x2="298.84" y2="16.80" stroke="#333" stroke-width="0.8" />
<line x1="301.40" y1="236.30" x2="301.40" y2="238.00" stroke="#333" stroke-width="0.8" />
<line x1="301.40" y1="18.50" x2="301.40" y2="16.80" stroke="#333" stroke-width="0.8" />
<line x1="303.97" y1="236.30" x2="303.97" y2="239.30" stroke="#333" stroke-width="0.8" />
<line x1="303.97" y1="18.50" x2="303.97" y2="15.50" stroke="#333" stroke-width="0.8" />
<line x1="306.53" y1="236.30" x2="306.53" y2="238.00" stroke="#333" stroke-width="0.8" />
<line x1="306.53" y1="18.50" x2="306.53" y2="16.80" stroke="#333" stroke-width="0.8" />
<line x1="309.09" y1="236.30" x2="309.09" y2="238.00" stroke="#333" stroke-width="0.8" />
<line x1="309.09" y1="18.50" x2="309.09" y2="16.80" stroke="#333" stroke-width="0.8" />
<line x1="311.65" y1="236.30" x2="311.65" y2="238.00" stroke="#333" stroke-width="0.8" />
<line x1="311.65" y1="18.50" x2="311.65" y2="16.80" stroke="#333" stroke-width="0.8" />
<line x1="314.21" y1="236.30" x2="314.21" y2="238.00" stroke="#333" stroke-width="0.8" />
<line x1="314.21" y1="18.50" x2="314.21" y2="16.80" stroke="#333" stroke-width="0.8" />
<line x1="316.77" y1="236.30" x2="316.77" y2="238.00" stroke="#333" stroke-width="0.8" />
<line x1="316.77" y1="18.50" x2="316.77" y2="16.80" stroke="#333" stroke-width="0.8" />
<line x1="319.34" y1="236.30" x2="319.34" y2="238.00" stroke="#333" stroke-width="0.8" />
<line x1="319.34" y1="18.50" x2="319.34" y2="16.80" stroke="#333" stroke-width="0.8" />
<line x1="321.90" y1="236.30" x2="321.90" y2="238.00" stroke="#333" stroke-width="0.8" />
<line x1="321.90" y1="18.50" x2="321.90" y2="16.80" stroke="#333" stroke-width="0.8" />
<line x1="324.46" y1="236.30" x2="324.46" y2="238.00" stroke="#333" stroke-width="0.8" />
<line x1="324.46" y1="18.50" x2="324.46" y2="16.80" stroke="#333" stroke-width="0.8" />
<line x1="327.02" y1="236.30" x2="327.02" y2="238.00" stroke="#333" stroke-width="0.8" />
<line x1="327.02" y1="18.50" x2="327.02" y2="16.80" stroke="#333" stroke-width="0.8" />
<line x1="329.58" y1="236.30" x2="329.58" y2="239.30" stroke="#333" stroke-width="0.8" />
<line x1="329.58" y1="18.50" x2="329.58" y2="15.50" stroke="#333" stroke-width="0.8" />
<line x1="332.14" y1="236.30" x2="332.14" y2="238.00" stroke="#333" stroke-width="0.8" />
<line x1="332.14" y1="18.50" x2="332.14" y2="16.80" stroke="#333" stroke-width="0.8" />
<line x1="334.71" y1="236.30" x2="334.71" y2="238.00" stroke="#333" stroke-width="0.8" />
<line x1="334.71" y1="18.50" x2="334.71" y2="16.80" stroke="#333" stroke-width="0.8" />
<line x1="337.27" y1="236.30" x2="337.27" y2="238.00" stroke="#333" stroke-width="0.8" />
<line x1="337.27" y1="18.50" x2="337.27" y2="16.80" stroke="#333" stroke-width="0.8" />
<line x1="339.83" y1="236.30" x2="339.83" y2="238.00" stroke="#333" stroke-width="0.8" />
<line x1="339.83" y1="18.50" x2="339.83" y2="16.80" stroke="#333" stroke-width="0.8" />
<line x1="342.39" y1="236.30" x2="342.39" y2="238.00" stroke="#333" stroke-width="0.8" />
<line x1="342.39" y1="18.50" x2="342.39" y2="16.80" stroke="#333" stroke-width="0.8" />
<line x1="344.95" y1="236.30" x2="344.95" y2="238.00" stroke="#333" stroke-width="0.8" />
<line x1="344.95" y1="18.50" x2="344.95" y2="16.80" stroke="#333" stroke-width="0.8" />
<line x1="347.51" y1="236.30" x2="347.51" y2="238.00" stroke="#333" stroke-width="0.8" />
<line x1="347.51" y1="18.50" x2="347.51" y2="16.80" stroke="#333" stroke-width="0.8" />
<line x1="350.08" y1="236.30" x2="350.08" y2="238.00" stroke="#333" stroke-width="0.8" />
<line x1="350.08" y1="18.50" x2="350.08" y2="16.80" stroke="#333" stroke-width="0.8" />
<line x1="352.64" y1="236.30" x2="352.64" y2="238.00" stroke="#333" stroke-width="0.8" />
<line x1="352.64" y1="18.50" x2="352.64" y2="16.80" stroke="#333" stroke-width="0.8" />
<line x1="355.20" y1="236.30" x2="355.20" y2="239.30" stroke="#333" stroke-width="0.8" />
<line x1="355.20" y1="18.50" x2="355.20" y2="15.50" stroke="#333" stroke-width="0.8" />
<text x="201.5" y="249.0" font-size="7" text-anchor="middle" font-weight="normal" fill="#222"  style="">0</text>
<text x="227.1" y="249.0" font-size="7" text-anchor="middle" font-weight="normal" fill="#222"  style="">20</text>
<text x="252.7" y="249.0" font-size="7" text-anchor="middle" font-weight="normal" fill="#222"  style="">40</text>
<text x="278.4" y="249.0" font-size="7" text-anchor="middle" font-weight="normal" fill="#222"  style="">60</text>
<text x="304.0" y="249.0" font-size="7" text-anchor="middle" font-weight="normal" fill="#222"  style="">80</text>
<text x="329.6" y="249.0" font-size="7" text-anchor="middle" font-weight="normal" fill="#222"  style="">100</text>
<text x="355.2" y="249.0" font-size="7" text-anchor="middle" font-weight="normal" fill="#222"  style="">120</text>
<text x="278.0" y="258.8" font-size="7" text-anchor="middle" font-weight="normal" fill="#222"  style="">azimuthal angle (°)</text>
<text transform="translate(192.6,125.2) rotate(-90)" font-size="7" text-anchor="middle" fill="#222">intensity (arb. units)</text>
<rect x="219" y="22.3" width="51.30000000000001" height="51.400000000000006" fill="#050505"/>
<g clip-path="url(#cpb0)"><g clip-path="url(#cpb1)">
<circle cx="243.6" cy="46.8" r="30" fill="#e0a020"/>
<circle cx="243.6" cy="46.8" r="29" fill="#26e026"/>
<ellipse cx="234" cy="33" rx="10" ry="8" fill="#14a4a0" filter="url(#b1)"/>
<ellipse cx="252" cy="38" rx="8" ry="7" fill="#14a4a0" filter="url(#b1)"/>
<ellipse cx="264" cy="42" rx="6" ry="10" fill="#14a4a0" filter="url(#b1)"/>
<ellipse cx="238" cy="50" rx="5" ry="3" fill="#14a4a0" filter="url(#b1)"/>
<ellipse cx="224" cy="62" rx="4" ry="6" fill="#14a4a0" filter="url(#b1)"/>
<ellipse cx="238" cy="60" rx="4" ry="4" fill="#14a4a0" filter="url(#b1)"/>
<ellipse cx="266" cy="60" rx="6" ry="8" fill="#14a4a0" filter="url(#b1)"/>
<ellipse cx="252" cy="55" rx="10" ry="3" fill="#14a4a0" filter="url(#b1)"/>
<ellipse cx="226" cy="32" rx="5" ry="4" fill="#14a4a0" filter="url(#b1)"/>
<ellipse cx="226.5" cy="31" rx="6" ry="6" fill="#8a8a8a" filter="url(#b1)"/>
<ellipse cx="225.8" cy="43.6" rx="7" ry="5.5" fill="#8a8a8a" filter="url(#b1)"/>
<ellipse cx="231.8" cy="38" rx="5" ry="4.5" fill="#8a8a8a" filter="url(#b1)"/>
<ellipse cx="247.8" cy="31" rx="6" ry="8.5" fill="#8a8a8a" filter="url(#b1)"/>
<ellipse cx="260.1" cy="35" rx="6.5" ry="7" fill="#8a8a8a" filter="url(#b1)"/>
<ellipse cx="261.5" cy="42.5" rx="4.5" ry="4.5" fill="#8a8a8a" filter="url(#b1)"/>
<ellipse cx="268.5" cy="40" rx="3.5" ry="7" fill="#8a8a8a" filter="url(#b1)"/>
<ellipse cx="228.1" cy="56.8" rx="6.5" ry="8" fill="#8a8a8a" filter="url(#b1)"/>
<ellipse cx="242.5" cy="65.5" rx="5" ry="4" fill="#8a8a8a" filter="url(#b1)"/>
<ellipse cx="260.4" cy="57.9" rx="8" ry="7.5" fill="#8a8a8a" filter="url(#b1)"/>
<ellipse cx="247.7" cy="66.1" rx="8" ry="7" fill="#8a8a8a" filter="url(#b1)"/>
<ellipse cx="254" cy="62" rx="6" ry="4.5" fill="#8a8a8a" filter="url(#b1)"/>
<ellipse cx="222" cy="64" rx="4" ry="4" fill="#8a8a8a" filter="url(#b1)"/>
<ellipse cx="226.5" cy="31" rx="4" ry="4" fill="#f4f4f4" filter="url(#b05)"/>
<ellipse cx="225.8" cy="43.6" rx="5" ry="3.5" fill="#f4f4f4" filter="url(#b05)"/>
<ellipse cx="231.8" cy="38" rx="3" ry="2.5" fill="#f4f4f4" filter="url(#b05)"/>
<ellipse cx="247.8" cy="31" rx="4" ry="6.5" fill="#f4f4f4" filter="url(#b05)"/>
<ellipse cx="260.1" cy="35" rx="4.5" ry="5" fill="#f4f4f4" filter="url(#b05)"/>
<ellipse cx="261.5" cy="42.5" rx="2.5" ry="2.5" fill="#f4f4f4" filter="url(#b05)"/>
<ellipse cx="268.5" cy="40" rx="1.5" ry="5" fill="#f4f4f4" filter="url(#b05)"/>
<ellipse cx="228.1" cy="56.8" rx="4.5" ry="6" fill="#f4f4f4" filter="url(#b05)"/>
<ellipse cx="242.5" cy="65.5" rx="3" ry="2" fill="#f4f4f4" filter="url(#b05)"/>
<ellipse cx="260.4" cy="57.9" rx="6" ry="5.5" fill="#f4f4f4" filter="url(#b05)"/>
<ellipse cx="247.7" cy="66.1" rx="6" ry="5" fill="#f4f4f4" filter="url(#b05)"/>
<ellipse cx="254" cy="62" rx="4" ry="2.5" fill="#f4f4f4" filter="url(#b05)"/>
<ellipse cx="222" cy="64" rx="2" ry="2" fill="#f4f4f4" filter="url(#b05)"/>
<circle cx="226.2" cy="29.1" r="2.4" fill="#2058f0" filter="url(#b05)"/>
<circle cx="247.6" cy="29.5" r="2.6" fill="#2058f0" filter="url(#b05)"/>
<circle cx="228.1" cy="56.8" r="2.8" fill="#2058f0" filter="url(#b05)"/>
<circle cx="260.4" cy="57.9" r="3.3" fill="#2058f0" filter="url(#b05)"/>
<circle cx="247.7" cy="66.1" r="3.3" fill="#2058f0" filter="url(#b05)"/>
<circle cx="247.6" cy="29.5" r="1.2" fill="#c01860"/>
<circle cx="228.1" cy="56.8" r="1.2" fill="#c01860"/>
<circle cx="260.4" cy="57.9" r="1.2" fill="#c01860"/>
<circle cx="247.7" cy="66.1" r="1.2" fill="#c01860"/>
<path d="M224.20000000000002,42.0 L227.4,45.2 M227.4,42.0 L224.20000000000002,45.2" stroke="#e04060" stroke-width="0.7"/>
<path d="M258.5,33.4 L261.70000000000005,36.6 M261.70000000000005,33.4 L258.5,36.6" stroke="#e04060" stroke-width="0.7"/>
</g></g>
<path d="M270.3,48.2 L244.6,48.2 L229.6,73.7" fill="none" stroke="#000" stroke-width="1.5"/>
<ellipse cx="247.6" cy="30.6" rx="5" ry="6.8" fill="none" stroke="#000" stroke-width="1.1" stroke-dasharray="1.6,1"/>
<circle cx="260.1" cy="34.8" r="5.6" fill="none" stroke="#000" stroke-width="1.3"/>
<text x="246.8" y="44.3" font-size="7" text-anchor="middle" font-weight="normal" fill="#111"  style="">ε</text>
<text x="255.2" y="46.5" font-size="7" text-anchor="middle" font-weight="normal" fill="#111"  style="">δ</text>
<rect x="219" y="22.3" width="21.5" height="5.2" fill="#fff"/>
<text x="220.0" y="26.6" font-size="4.6" text-anchor="start" font-weight="normal" fill="#111"  style="">284.4 eV</text>
<text x="268.5" y="72.3" font-size="5" text-anchor="end" font-weight="normal" fill="#fff"  style="">calc</text>
<rect x="219" y="22.3" width="51.30000000000001" height="51.400000000000006" fill="none" stroke="#111" stroke-width="0.8"/>
<line x1="216.80" y1="31.00" x2="219.00" y2="31.00" stroke="#222" stroke-width="0.8" />
<text x="216.5" y="33.5" font-size="7" text-anchor="end" font-weight="normal" fill="#222"  style="">1</text>
<line x1="216.80" y1="48.20" x2="219.00" y2="48.20" stroke="#222" stroke-width="0.8" />
<text x="216.5" y="50.7" font-size="7" text-anchor="end" font-weight="normal" fill="#222"  style="">0</text>
<line x1="216.80" y1="65.00" x2="219.00" y2="65.00" stroke="#222" stroke-width="0.8" />
<text x="216.5" y="67.5" font-size="7" text-anchor="end" font-weight="normal" fill="#222"  style="">-1</text>
<line x1="228.10" y1="73.70" x2="228.10" y2="75.90" stroke="#222" stroke-width="0.8" />
<text x="228.1" y="85.3" font-size="7" text-anchor="middle" font-weight="normal" fill="#222"  style="">-1</text>
<line x1="245.20" y1="73.70" x2="245.20" y2="75.90" stroke="#222" stroke-width="0.8" />
<text x="245.2" y="85.3" font-size="7" text-anchor="middle" font-weight="normal" fill="#222"  style="">0</text>
<line x1="261.60" y1="73.70" x2="261.60" y2="75.90" stroke="#222" stroke-width="0.8" />
<text x="261.6" y="85.3" font-size="7" text-anchor="middle" font-weight="normal" fill="#222"  style="">1</text>
<text x="245.2" y="93.5" font-size="7.5" text-anchor="middle" font-weight="normal" fill="#222"  style=""><tspan font-style="italic">k</tspan><tspan font-size="5" dy="1.5">x</tspan></text>
<text transform="translate(207.5,48.5) rotate(-90)" font-size="7.5" text-anchor="middle" fill="#222"><tspan font-style="italic">k</tspan><tspan font-size="5" dy="1.5">y</tspan></text>
<g clip-path="url(#cpb2)"><rect x="275" y="20.4" width="70.6" height="25.8" fill="#2ede2e"/>
<ellipse cx="300" cy="33" rx="12" ry="5" fill="#14a8a0" filter="url(#b1)"/>
<ellipse cx="328" cy="32" rx="12" ry="6" fill="#14a8a0" filter="url(#b1)"/>
<ellipse cx="284" cy="23.5" rx="4" ry="3" fill="#e8f000" filter="url(#b1)"/>
<ellipse cx="284" cy="44.5" rx="6" ry="2.5" fill="#e8f000" filter="url(#b1)"/>
<ellipse cx="307" cy="21" rx="4" ry="2" fill="#f0a000" filter="url(#b1)"/>
<ellipse cx="318" cy="45" rx="5" ry="2" fill="#f0d000" filter="url(#b1)"/>
<ellipse cx="310" cy="44" rx="3" ry="2" fill="#e0f000" filter="url(#b1)"/>
<ellipse cx="296" cy="32.8" rx="7" ry="9" fill="#8c8c8c" filter="url(#b1)"/>
<ellipse cx="318.4" cy="32.8" rx="7" ry="9" fill="#8c8c8c" filter="url(#b1)"/>
<ellipse cx="331" cy="36" rx="4" ry="2.5" fill="#9a9a9a" filter="url(#b1)"/>
<ellipse cx="337" cy="22.5" rx="5" ry="2.5" fill="#d0d0d0" filter="url(#b1)"/>
<ellipse cx="296" cy="32.8" rx="4.5" ry="6.5" fill="#f0f0f0" filter="url(#b1)"/>
<rect x="293.5" y="28.5" width="4.5" height="4" fill="#2868f0" filter="url(#b05)"/>
<ellipse cx="318.4" cy="30.5" rx="4" ry="4.5" fill="#f0f0f0" filter="url(#b1)"/>
<rect x="339" y="22.5" width="6.5" height="8.5" fill="#fff"/><text x="339.7" y="28" font-size="5" font-style="italic" fill="#222">t<tspan font-size="4" dy="1">-1</tspan></text>
</g>
<g clip-path="url(#cpb3)"><rect x="275" y="49.2" width="70.6" height="24.9" fill="#14a4a0"/>
<ellipse cx="279" cy="56" rx="5" ry="7" fill="#2edc2e" filter="url(#b1)"/>
<ellipse cx="287" cy="52" rx="4" ry="3" fill="#2edc2e" filter="url(#b1)"/>
<ellipse cx="284" cy="70" rx="5" ry="3" fill="#30d040" filter="url(#b1)"/>
<ellipse cx="340" cy="54" rx="5" ry="3" fill="#2edc2e" filter="url(#b1)"/>
<ellipse cx="300" cy="60" rx="5" ry="2.5" fill="#8a8a8a" filter="url(#b1)"/>
<ellipse cx="318" cy="54" rx="5" ry="5" fill="#9a9a9a" filter="url(#b1)"/>
<ellipse cx="322" cy="51" rx="4" ry="3" fill="#b0b0b0" filter="url(#b1)"/>
<ellipse cx="306.4" cy="65.4" rx="7" ry="9" fill="#8c8c8c" filter="url(#b1)"/>
<ellipse cx="326.9" cy="65.4" rx="7" ry="9" fill="#8c8c8c" filter="url(#b1)"/>
<ellipse cx="333" cy="52" rx="3" ry="3" fill="#a0a0a0" filter="url(#b1)"/>
<ellipse cx="306.4" cy="65.4" rx="4.5" ry="6.5" fill="#f4f4f4" filter="url(#b1)"/>
<rect x="304" y="61" width="4.5" height="3" fill="#2868f0" filter="url(#b05)"/>
<ellipse cx="326.9" cy="66" rx="4.3" ry="5.5" fill="#eeeeee" filter="url(#b1)"/>
<rect x="339" y="51" width="6.5" height="8.5" fill="#fff"/><text x="339.7" y="56.5" font-size="5" font-style="italic" fill="#222">t<tspan font-size="4" dy="1">1</tspan></text>
</g>
<rect x="275" y="20.4" width="70.6" height="25.800000000000004" fill="none" stroke="#111" stroke-width="0.9"/>
<rect x="275" y="49.2" width="70.6" height="24.89999999999999" fill="none" stroke="#111" stroke-width="0.9"/>
<ellipse cx="296" cy="32.8" rx="5.8" ry="7.9" fill="none" stroke="#000" stroke-width="1.25" />
<ellipse cx="318.4" cy="32.8" rx="5.8" ry="7.9" fill="none" stroke="#000" stroke-width="1.25" stroke-dasharray='1.6,1'/>
<ellipse cx="306.4" cy="65.4" rx="5.8" ry="7.9" fill="none" stroke="#000" stroke-width="1.25" />
<ellipse cx="326.9" cy="65.4" rx="5.8" ry="7.9" fill="none" stroke="#000" stroke-width="1.25" stroke-dasharray='1.6,1'/>
<text x="303.0" y="44.7" font-size="7" text-anchor="middle" font-weight="normal" fill="#111"  style="">δ</text>
<text x="325.2" y="44.7" font-size="7" text-anchor="middle" font-weight="normal" fill="#111"  style="">ε</text>
<text x="295.5" y="73.2" font-size="7" text-anchor="middle" font-weight="normal" fill="#111"  style="">δ'</text>
<text x="336.2" y="73.2" font-size="7" text-anchor="middle" font-weight="normal" fill="#111"  style="">ε'</text>
<line x1="275.00" y1="46.20" x2="275.00" y2="49.20" stroke="#111" stroke-width="0.9" />
<line x1="275.00" y1="74.10" x2="275.00" y2="76.20" stroke="#222" stroke-width="0.8" />
<line x1="287.90" y1="46.20" x2="287.90" y2="49.20" stroke="#111" stroke-width="0.9" />
<line x1="287.90" y1="74.10" x2="287.90" y2="76.20" stroke="#222" stroke-width="0.8" />
<line x1="300.80" y1="46.20" x2="300.80" y2="49.20" stroke="#111" stroke-width="0.9" />
<line x1="300.80" y1="74.10" x2="300.80" y2="76.20" stroke="#222" stroke-width="0.8" />
<line x1="313.70" y1="46.20" x2="313.70" y2="49.20" stroke="#111" stroke-width="0.9" />
<line x1="313.70" y1="74.10" x2="313.70" y2="76.20" stroke="#222" stroke-width="0.8" />
<line x1="326.60" y1="46.20" x2="326.60" y2="49.20" stroke="#111" stroke-width="0.9" />
<line x1="326.60" y1="74.10" x2="326.60" y2="76.20" stroke="#222" stroke-width="0.8" />
<line x1="339.50" y1="46.20" x2="339.50" y2="49.20" stroke="#111" stroke-width="0.9" />
<line x1="339.50" y1="74.10" x2="339.50" y2="76.20" stroke="#222" stroke-width="0.8" />
<line x1="272.80" y1="26.00" x2="275.00" y2="26.00" stroke="#222" stroke-width="0.8" />
<line x1="272.80" y1="39.00" x2="275.00" y2="39.00" stroke="#222" stroke-width="0.8" />
<line x1="272.80" y1="55.50" x2="275.00" y2="55.50" stroke="#222" stroke-width="0.8" />
<line x1="272.80" y1="68.00" x2="275.00" y2="68.00" stroke="#222" stroke-width="0.8" />
<text x="274.7" y="86.1" font-size="7" text-anchor="middle" font-weight="normal" fill="#222"  style="">0</text>
<text x="297.0" y="86.1" font-size="7" text-anchor="middle" font-weight="normal" fill="#222"  style="">40</text>
<text x="321.2" y="86.1" font-size="7" text-anchor="middle" font-weight="normal" fill="#222"  style="">80</text>
<text x="345.7" y="86.1" font-size="7" text-anchor="middle" font-weight="normal" fill="#222"  style="">120</text>
<text x="310.0" y="94.3" font-size="7" text-anchor="middle" font-weight="normal" fill="#222"  style="">azimuthal angle (°)</text>
<rect x="361.5" y="17.8" width="4.3" height="45.8" fill="url(#cbb)" stroke="#555" stroke-width="0.4"/>
<line x1="365.80" y1="18.80" x2="368.50" y2="18.80" stroke="#333" stroke-width="0.7" />
<text x="371.5" y="21.1" font-size="6.8" text-anchor="start" font-weight="normal" fill="#222"  style="">100</text>
<line x1="365.80" y1="40.80" x2="368.50" y2="40.80" stroke="#333" stroke-width="0.7" />
<text x="371.5" y="43.1" font-size="6.8" text-anchor="start" font-weight="normal" fill="#222"  style="">50</text>
<line x1="365.80" y1="63.20" x2="368.50" y2="63.20" stroke="#333" stroke-width="0.7" />
<text x="371.5" y="65.5" font-size="6.8" text-anchor="start" font-weight="normal" fill="#222"  style="">0</text>
<path d="M22.4,129.4 L23.6,129.9 L24.8,130.7 L26.1,131.2 L27.3,132.0 L28.5,132.6 L29.9,133.2 L31.2,133.4 L32.5,133.9 L33.9,134.8 L35.2,136.3 L36.5,137.2 L37.7,138.5 L39.0,140.3 L40.3,141.2 L41.7,146.1 L43.1,151.3 L44.5,156.0 L45.9,161.6 L47.4,167.3 L48.8,172.8 L50.1,175.8 L51.5,179.3 L52.8,182.7 L54.1,185.6 L55.4,187.5 L56.7,189.6 L57.9,191.5 L59.2,193.0 L60.5,195.2 L61.9,195.0 L63.4,194.5 L64.8,194.0 L66.2,190.4 L67.6,186.7 L69.0,183.5 L70.2,179.9 L71.5,175.7 L72.8,172.0 L74.0,168.0 L76.0,165.6 L77.6,168.3 L79.2,165.1 L80.8,161.3 L82.4,160.4 L84.0,159.2 L85.6,156.8 L87.2,153.9 L88.6,154.3 L89.9,154.9 L91.1,154.9 L92.4,154.5 L93.6,154.4 L94.8,153.1 L96.1,151.5 L97.3,149.6 L99.0,148.7 L100.8,148.3 L102.2,158.0 L103.7,168.3 L105.0,164.6 L106.3,161.6 L107.6,157.7 L108.9,154.3 L110.2,150.7 L111.8,153.8 L113.4,157.1 L115.1,153.4 L116.8,149.6 L118.5,154.3 L120.3,159.2 L121.7,160.7 L123.0,162.4 L124.6,165.7 L126.2,168.8 L127.8,174.2 L129.4,179.5 L130.8,185.0 L132.1,190.1 L133.5,195.5 L134.8,200.4 L136.4,207.4 L138.0,214.3 L139.6,220.7 L140.8,222.3 L142.0,223.5 L143.2,225.5 L144.4,226.7 L146.2,227.7 L148.0,228.0 L149.2,227.0 L150.4,225.5 L151.6,225.7 L152.8,226.0 L154.0,225.8 L155.2,226.4 L156.4,226.3 L158.0,227.3 L159.6,228.0 L161.2,229.1 L162.4,229.7 L163.6,231.1 L164.8,232.1 L166.0,232.7 L167.6,230.4 L169.1,228.9 L170.7,226.7 L171.9,224.5 L173.1,222.3 L174.3,220.3 L175.5,218.3" fill="none" stroke="#141414" stroke-width="1.35" stroke-linejoin="round"/>
<path d="M22.4,110.0 L23.7,115.2 L25.0,120.0 L26.5,124.1 L28.1,127.4 L29.6,131.6 L30.9,132.3 L32.2,132.6 L33.4,133.7 L34.7,134.0 L36.0,134.8 L37.2,135.1 L38.4,135.2 L39.6,135.0 L40.8,135.3 L42.0,134.9 L43.2,134.8 L44.4,135.2 L45.6,135.2 L46.9,135.8 L48.2,136.9 L49.4,138.0 L50.7,139.1 L52.0,140.0 L53.3,141.9 L54.6,144.0 L56.0,146.7 L57.3,148.6 L58.7,152.7 L60.2,157.5 L61.6,161.4 L62.8,162.1 L64.0,162.1 L65.2,162.6 L66.4,163.0 L67.6,163.5 L68.8,163.9 L70.0,164.2 L71.2,164.6 L72.5,162.5 L73.8,160.6 L75.2,158.2 L76.5,156.0 L77.8,148.0 L79.0,140.0 L80.3,134.2 L81.6,127.8 L82.9,122.0 L85.0,108.0 L86.6,101.5 L88.2,95.3 L89.6,95.0 L91.0,94.1 L92.5,94.7 L93.9,95.3 L95.3,95.5 L96.8,96.4 L98.2,98.3 L99.6,100.4 L100.8,101.9 L102.0,102.9 L103.2,104.7 L104.4,106.1 L105.6,107.1 L106.8,108.8 L108.0,110.1 L109.2,111.2 L110.4,112.5 L111.6,113.5 L112.8,114.9 L114.0,116.0 L115.6,118.2 L117.2,119.7 L118.8,122.0 L120.0,124.9 L121.2,128.5 L122.4,131.6 L123.6,134.5 L124.8,136.7 L126.0,139.4 L127.2,142.1 L128.4,144.7 L129.6,145.8 L130.8,147.0 L132.0,148.2 L133.2,149.4 L134.4,150.7 L136.0,153.6 L137.2,153.8 L138.4,153.7 L139.6,153.9 L140.8,154.4 L142.0,154.3 L143.8,157.2 L145.6,160.8 L146.8,162.9 L148.0,165.2 L149.2,167.0 L150.4,169.2 L151.6,171.9 L152.8,175.2 L154.0,177.7 L155.2,180.5 L156.4,183.6 L158.2,182.4 L160.0,181.2 L161.8,181.9 L163.6,182.4 L165.1,180.6 L166.7,179.3 L168.3,179.9 L170.0,180.7 L171.6,178.4 L173.1,176.4 L174.3,171.8 L175.5,166.8" fill="none" stroke="#1433d8" stroke-width="1.35" stroke-linejoin="round"/>
<path d="M22.4,102.8 L23.7,108.9 L25.0,115.0 L26.8,124.0 L28.5,132.6 L29.9,136.1 L31.2,140.0 L32.5,144.0 L33.9,147.6 L35.1,148.2 L36.4,148.1 L37.6,148.3 L38.8,148.5 L40.1,149.0 L41.3,149.3 L42.7,148.8 L44.1,148.9 L45.6,148.6 L47.0,148.0 L48.2,147.4 L49.5,147.1 L50.8,147.1 L52.0,146.5 L53.5,147.1 L55.0,147.5 L56.5,149.1 L57.9,150.3 L59.4,151.8 L60.8,151.8 L62.2,152.3 L63.6,152.9 L65.0,153.0 L66.2,152.9 L67.4,153.1 L68.6,153.2 L69.8,153.3 L71.0,153.4 L72.2,153.5 L73.5,153.1 L74.9,151.9 L76.2,151.1 L77.6,150.8 L78.8,148.7 L80.0,146.0 L81.3,143.9 L82.7,141.7 L84.0,139.0 L85.5,131.5 L87.0,124.0 L88.7,115.8 L90.4,107.0 L91.7,105.4 L93.1,103.1 L94.4,101.6 L95.7,99.6 L96.9,98.6 L98.2,97.3 L99.4,95.9 L100.6,94.7 L101.8,95.5 L103.1,96.4 L104.3,97.2 L105.6,98.0 L106.8,99.2 L108.4,100.1 L110.0,100.7 L111.6,101.6 L112.8,104.2 L114.0,106.1 L115.2,108.8 L116.8,112.7 L118.4,116.1 L120.0,119.6 L121.8,127.7 L123.6,135.2 L124.8,137.2 L126.0,138.8 L127.2,140.3 L128.4,141.9 L130.2,140.0 L132.0,138.8 L133.2,136.3 L134.4,133.3 L135.6,130.7 L136.8,128.4 L138.0,125.6 L139.3,123.5 L140.6,121.3 L141.9,119.6 L143.2,117.2 L144.8,117.9 L146.4,118.4 L148.0,121.5 L149.6,124.6 L151.2,128.0 L152.4,129.8 L153.6,131.0 L154.8,132.7 L156.0,134.0 L157.2,134.6 L158.4,135.2 L159.6,136.2 L160.8,137.1 L162.0,137.6 L163.4,137.6 L164.8,138.3 L166.2,138.6 L167.6,138.8 L169.0,138.8 L170.3,139.3 L171.6,139.1 L172.9,139.9 L174.2,140.3 L175.5,140.4" fill="none" stroke="#d81818" stroke-width="1.35" stroke-linejoin="round"/>
<path d="M201.5,221.2 L202.6,219.5 L203.7,218.5 L204.7,217.3 L205.8,216.4 L207.0,215.4 L208.2,214.2 L209.4,213.2 L210.6,214.0 L211.8,215.1 L213.0,215.6 L214.2,216.5 L215.4,218.0 L216.6,220.0 L217.8,218.4 L219.0,217.6 L220.2,216.0 L221.4,214.7 L222.6,214.0 L223.8,208.8 L225.0,203.0 L226.2,196.4 L227.4,191.2 L228.6,186.4 L229.8,181.4 L231.0,176.8 L232.2,172.6 L233.4,168.6 L234.6,164.8 L235.7,154.9 L236.8,144.7 L238.0,139.2 L239.2,133.4 L240.4,128.0 L241.6,124.5 L242.8,121.4 L244.0,118.4 L245.0,114.6 L246.1,111.7 L247.1,108.3 L248.3,114.2 L249.5,119.6 L250.6,123.9 L251.7,127.9 L252.8,132.8 L253.9,137.2 L254.9,142.2 L256.0,147.1 L257.2,150.8 L258.3,154.7 L259.5,158.0 L260.7,157.4 L261.9,157.5 L263.1,156.7 L264.3,156.6 L265.5,156.3 L266.8,157.6 L268.0,159.0 L269.1,163.1 L270.3,167.5 L271.4,173.3 L272.4,179.2 L273.6,183.6 L274.8,187.6 L276.0,187.7 L277.2,188.3 L278.4,188.3 L279.6,185.2 L280.8,182.0 L282.0,179.2 L283.2,174.4 L284.4,169.8 L285.6,164.8 L286.8,160.1 L288.0,156.2 L289.2,152.0 L290.4,149.2 L291.6,147.0 L292.8,144.4 L294.0,141.2 L295.1,140.2 L296.1,139.8 L297.2,138.8 L298.3,137.6 L299.3,139.1 L300.4,141.1 L301.4,142.5 L302.4,144.7 L303.6,149.0 L304.8,152.9 L306.0,156.7 L307.2,161.2 L308.4,164.4 L309.6,167.1 L310.8,169.6 L312.0,171.4 L313.2,173.1 L314.4,174.4 L315.6,175.7 L316.8,176.4 L318.0,178.1 L319.2,179.2 L320.4,179.9 L321.6,181.6 L322.8,190.0 L324.0,182.8 L325.2,182.8 L326.4,183.9 L327.6,184.0 L328.8,185.9 L330.0,188.4 L331.2,191.2 L332.4,194.0 L333.5,198.0 L334.7,200.8 L335.9,204.4 L337.1,208.3 L338.3,212.8 L339.5,215.7 L340.7,217.4 L341.9,220.7 L343.1,222.8 L344.3,224.8 L345.5,226.8 L346.7,228.3 L347.9,229.2 L349.1,229.2 L350.3,229.5 L351.5,228.4 L352.7,226.7 L353.9,224.6 L355.1,223.5" fill="none" stroke="#141414" stroke-width="1.35" stroke-linejoin="round"/>
<path d="M201.5,212.3 L202.6,214.4 L203.7,215.6 L204.7,217.5 L205.8,218.8 L207.0,221.7 L208.2,226.0 L209.4,228.0 L210.6,229.9 L211.8,230.7 L212.8,230.0 L213.8,230.4 L214.8,230.8 L215.8,231.3 L216.8,230.3 L217.8,230.7 L218.8,228.6 L219.8,227.1 L220.8,226.1 L221.8,224.8 L222.8,222.6 L223.8,221.2 L224.8,219.3 L225.9,217.6 L226.9,215.8 L227.9,214.2 L228.9,211.9 L230.0,210.9 L231.0,209.2 L232.0,207.0 L233.0,203.1 L234.0,200.6 L235.0,196.6 L236.0,194.5 L237.0,191.2 L238.2,188.4 L239.4,185.1 L240.6,181.6 L241.8,181.0 L243.0,180.4 L244.2,180.0 L245.4,179.2 L246.4,180.5 L247.4,179.8 L248.4,180.3 L249.4,182.0 L250.4,182.9 L251.4,182.8 L252.6,181.9 L253.8,180.9 L255.0,180.5 L256.2,179.2 L257.4,173.9 L258.5,169.6 L259.7,166.0 L260.9,162.7 L262.1,160.0 L263.2,151.3 L264.3,142.4 L265.5,135.3 L266.8,128.3 L268.0,122.0 L269.2,119.0 L270.4,116.2 L271.5,111.8 L272.7,108.8 L273.8,110.7 L274.9,111.9 L276.0,113.6 L277.2,119.6 L278.4,124.4 L279.6,130.5 L280.8,136.4 L282.0,140.4 L283.2,144.7 L284.4,149.5 L285.6,150.2 L286.8,152.5 L288.0,153.8 L289.2,155.5 L290.4,155.8 L291.6,157.1 L292.8,157.9 L294.0,159.1 L295.2,158.8 L296.4,156.9 L297.6,156.7 L298.8,158.7 L300.0,159.1 L301.0,159.6 L302.1,160.3 L303.1,160.6 L304.1,161.7 L305.1,162.2 L306.2,162.3 L307.2,162.7 L308.4,160.6 L309.6,158.9 L310.8,157.0 L312.0,154.3 L313.2,151.6 L314.4,149.7 L315.6,147.6 L316.8,144.3 L318.0,142.9 L319.2,141.2 L320.4,140.4 L321.6,142.7 L322.8,146.0 L324.0,149.5 L325.2,152.6 L326.4,155.5 L327.6,160.7 L328.8,164.9 L330.0,168.7 L331.2,175.0 L332.3,181.6 L333.5,188.8 L334.8,192.6 L336.0,197.2 L337.2,196.8 L338.4,197.9 L339.5,198.3 L340.7,197.9 L341.9,195.2 L343.1,191.2 L344.3,191.4 L345.5,192.4 L346.7,184.0 L347.9,186.4 L349.1,187.6 L350.3,190.3 L351.5,193.6 L352.7,198.3 L353.9,203.2 L355.1,204.4" fill="none" stroke="#1433d8" stroke-width="1.35" stroke-linejoin="round"/>
<line x1="52.20" y1="97.00" x2="52.20" y2="142.00" stroke="#111" stroke-width="1.3" stroke-dasharray="2.2,1.5"/>
<line x1="101.20" y1="96.00" x2="101.20" y2="142.00" stroke="#111" stroke-width="1.3" stroke-dasharray="2.2,1.5"/>
<line x1="144.60" y1="97.00" x2="144.60" y2="142.00" stroke="#111" stroke-width="1.3" stroke-dasharray="2.2,1.5"/>
<line x1="101.20" y1="120.80" x2="58.40" y2="120.80" stroke="#111" stroke-width="1.4" />
<polygon points="54.4,120.8 59.4,118.2 59.4,123.4" fill="#111"/>
<line x1="101.20" y1="115.80" x2="140.70" y2="115.80" stroke="#111" stroke-width="1.4" />
<polygon points="144.7,115.8 139.7,113.2 139.7,118.4" fill="#111"/>
<text x="70.7" y="118.0" font-size="9.4" text-anchor="middle" font-weight="normal" fill="#222"  style="">~15°</text>
<text x="131.8" y="112.6" font-size="9.4" text-anchor="middle" font-weight="normal" fill="#222"  style="">~15°</text>
<text x="47.3" y="129.5" font-size="8.5" text-anchor="middle" font-weight="bold" fill="#222"  style="">β</text>
<text x="106.3" y="147.8" font-size="8.5" text-anchor="middle" font-weight="bold" fill="#222"  style="">α</text>
<text x="150.3" y="139.3" font-size="8.5" text-anchor="middle" font-weight="bold" fill="#222"  style="">γ</text>
<line x1="47.70" y1="204.20" x2="59.40" y2="204.20" stroke="#141414" stroke-width="1.4" />
<text x="64.8" y="206.8" font-size="7.2" text-anchor="start" font-weight="normal" fill="#222"  style=""><tspan font-style="italic">t</tspan><tspan font-size="5" dy="1.5">-1</tspan><tspan dy="-1.5"> = -700 fs, CuPc</tspan><tspan font-size="5" dy="1.5">t-1</tspan></text>
<line x1="47.70" y1="216.40" x2="59.40" y2="216.40" stroke="#1433d8" stroke-width="1.4" />
<text x="64.8" y="219.0" font-size="7.2" text-anchor="start" font-weight="normal" fill="#222"  style=""><tspan font-style="italic">t</tspan><tspan font-size="5" dy="1.5">1</tspan><tspan dy="-1.5"> = 375 fs, CuPc</tspan><tspan font-size="5" dy="-3">0</tspan><tspan font-size="5" dx="-2.5" dy="4.5">t1</tspan></text>
<line x1="47.70" y1="228.60" x2="59.40" y2="228.60" stroke="#d81818" stroke-width="1.4" />
<text x="64.8" y="231.2" font-size="7.2" text-anchor="start" font-weight="normal" fill="#222"  style=""><tspan font-style="italic">t</tspan><tspan font-size="5" dy="1.5">1</tspan><tspan dy="-1.5"> = 375 fs, CuPc</tspan><tspan font-size="5" dy="-3">+</tspan><tspan font-size="5" dx="-2.5" dy="4.5">t1</tspan></text>
<line x1="247.70" y1="113.00" x2="247.70" y2="127.00" stroke="#111" stroke-width="1.3" stroke-dasharray="1.5,1.1"/>
<text transform="translate(250.0,132) rotate(-90)" font-size="7.5" text-anchor="middle" fill="#222">δ'</text>
<line x1="270.50" y1="113.00" x2="270.50" y2="131.00" stroke="#111" stroke-width="1.3" stroke-dasharray="1.5,1.1"/>
<text transform="translate(272.8,136) rotate(-90)" font-size="7.5" text-anchor="middle" fill="#222">δ'</text>
<line x1="270.70" y1="107.90" x2="250.30" y2="107.90" stroke="#111" stroke-width="1.4" />
<polygon points="246.3,107.9 251.3,105.3 251.3,110.5" fill="#111"/>
<text x="260.7" y="105.7" font-size="9.4" text-anchor="middle" font-weight="normal" fill="#222"  style="">~15°</text>
<text x="297.0" y="136.8" font-size="8.8" text-anchor="middle" font-weight="normal" fill="#222"  style="">ε'</text>
<text x="319.5" y="136.8" font-size="8.8" text-anchor="middle" font-weight="normal" fill="#222"  style="">ε</text>
<line x1="243.00" y1="211.60" x2="255.00" y2="211.60" stroke="#141414" stroke-width="1.4" />
<text x="259.5" y="214.2" font-size="7.2" text-anchor="start" font-weight="normal" fill="#222"  style=""><tspan font-style="italic">t</tspan><tspan font-size="5" dy="1.5">-1</tspan><tspan dy="-1.5"> = -700 fs, CuPc</tspan><tspan font-size="5" dy="1.5">t-1</tspan></text>
<line x1="243.00" y1="224.30" x2="255.00" y2="224.30" stroke="#1433d8" stroke-width="1.4" />
<text x="259.5" y="226.9" font-size="7.2" text-anchor="start" font-weight="normal" fill="#222"  style=""><tspan font-style="italic">t</tspan><tspan font-size="5" dy="1.5">1</tspan><tspan dy="-1.5"> = 375 fs, CuPc</tspan><tspan font-size="5" dy="-3">0</tspan><tspan font-size="5" dx="-2.5" dy="4.5">t1</tspan></text>
<rect x="24.5" y="294.5" width="78.3" height="78.5" fill="#050505"/>
<g clip-path="url(#cpc0)"><g clip-path="url(#cpc)">
<circle cx="64.2" cy="333.6" r="43" fill="#e8b020"/>
<circle cx="64.2" cy="333.6" r="42" fill="#34d834"/>
<circle cx="64.2" cy="333.6" r="39.5" fill="#14a4a0" filter="url(#b1)"/>
<ellipse cx="63" cy="332" rx="14" ry="13" fill="#34d834" filter="url(#b2)"/>
<ellipse cx="70" cy="298" rx="16" ry="3.5" fill="#34d834" filter="url(#b1)"/>
<ellipse cx="100" cy="340" rx="3" ry="8" fill="#34d834" filter="url(#b1)"/>
<ellipse cx="60" cy="372" rx="10" ry="2.5" fill="#34d834" filter="url(#b1)"/>
<ellipse cx="27" cy="345" rx="2" ry="4" fill="#34d834" filter="url(#b1)"/>
<ellipse cx="40" cy="362" rx="3" ry="2.5" fill="#34d834" filter="url(#b1)"/>
<ellipse cx="58" cy="342" rx="4" ry="3" fill="#34d834" filter="url(#b1)"/>
<ellipse cx="74" cy="340" rx="5" ry="4" fill="#34d834" filter="url(#b1)"/>
<ellipse cx="63" cy="333" rx="10" ry="9" fill="#34d834" filter="url(#b2)"/>
<ellipse cx="64" cy="333.5" rx="3.5" ry="3" fill="#d8f020" filter="url(#b1)"/>
<path d="M33,364 L46,352 L37,340 L34,318 L52,313 L64,310 L76,305 L88,314 L97,326 L93,342 L83,352 L71,362 L58,356 L46,352" fill="none" stroke="#8a8a8a" stroke-width="10" stroke-linejoin="round" filter="url(#b15)"/>
<ellipse cx="34" cy="318" rx="9.1" ry="14.6" fill="#7a7a7a" filter="url(#b1)"/>
<ellipse cx="37" cy="340" rx="9.1" ry="13.6" fill="#7a7a7a" filter="url(#b1)"/>
<ellipse cx="46" cy="352" rx="9.6" ry="7.1" fill="#7a7a7a" filter="url(#b1)"/>
<ellipse cx="33" cy="364" rx="7.6" ry="7.1" fill="#7a7a7a" filter="url(#b1)"/>
<ellipse cx="52" cy="313" rx="10.6" ry="6.1" fill="#7a7a7a" filter="url(#b1)"/>
<ellipse cx="64" cy="310" rx="9.6" ry="6.1" fill="#7a7a7a" filter="url(#b1)"/>
<ellipse cx="76" cy="305" rx="10.6" ry="6.1" fill="#7a7a7a" filter="url(#b1)"/>
<ellipse cx="88" cy="314" rx="11.6" ry="9.6" fill="#7a7a7a" filter="url(#b1)"/>
<ellipse cx="97" cy="326" rx="7.6" ry="9.6" fill="#7a7a7a" filter="url(#b1)"/>
<ellipse cx="93" cy="342" rx="8.6" ry="10.6" fill="#7a7a7a" filter="url(#b1)"/>
<ellipse cx="83" cy="352" rx="7.6" ry="7.6" fill="#7a7a7a" filter="url(#b1)"/>
<ellipse cx="71" cy="362" rx="10.6" ry="8.6" fill="#7a7a7a" filter="url(#b1)"/>
<ellipse cx="58" cy="356" rx="8.6" ry="6.1" fill="#7a7a7a" filter="url(#b1)"/>
<path d="M33,364 L46,352 L37,340 L34,318 L52,313 L64,310 L76,305 L88,314 L97,326 L93,342 L83,352 L71,362 L58,356 L46,352" fill="none" stroke="#d8d8d8" stroke-width="4" stroke-linejoin="round" filter="url(#b1)"/>
<ellipse cx="34" cy="318" rx="6.5" ry="12" fill="#f6f6f6" filter="url(#b1)"/>
<ellipse cx="37" cy="340" rx="6.5" ry="11" fill="#f6f6f6" filter="url(#b1)"/>
<ellipse cx="46" cy="352" rx="7" ry="4.5" fill="#f6f6f6" filter="url(#b1)"/>
<ellipse cx="33" cy="364" rx="5" ry="4.5" fill="#f6f6f6" filter="url(#b1)"/>
<ellipse cx="52" cy="313" rx="8" ry="3.5" fill="#f6f6f6" filter="url(#b1)"/>
<ellipse cx="64" cy="310" rx="7" ry="3.5" fill="#f6f6f6" filter="url(#b1)"/>
<ellipse cx="76" cy="305" rx="8" ry="3.5" fill="#f6f6f6" filter="url(#b1)"/>
<ellipse cx="88" cy="314" rx="9" ry="7" fill="#f6f6f6" filter="url(#b1)"/>
<ellipse cx="97" cy="326" rx="5" ry="7" fill="#f6f6f6" filter="url(#b1)"/>
<ellipse cx="93" cy="342" rx="6" ry="8" fill="#f6f6f6" filter="url(#b1)"/>
<ellipse cx="83" cy="352" rx="5" ry="5" fill="#f6f6f6" filter="url(#b1)"/>
<ellipse cx="71" cy="362" rx="8" ry="6" fill="#f6f6f6" filter="url(#b1)"/>
<ellipse cx="58" cy="356" rx="6" ry="3.5" fill="#f6f6f6" filter="url(#b1)"/>
<circle cx="42.5" cy="343.5" r="1.8" fill="#707070" filter="url(#b05)"/>
<circle cx="68.5" cy="311" r="1.8" fill="#707070" filter="url(#b05)"/>
<ellipse cx="33.1" cy="307.9" rx="3.2" ry="2.2" fill="#1848f0" transform="rotate(-40 33.1 307.9)" filter="url(#b05)"/>
<ellipse cx="82.7" cy="314.8" rx="3" ry="2.8" fill="#1848f0" filter="url(#b05)"/>
<circle cx="82.7" cy="314.8" r="0.9" fill="#c02050"/>
<ellipse cx="38.4" cy="328.7" rx="3.2" ry="2.8" fill="#1848f0" filter="url(#b05)"/>
<circle cx="38.4" cy="328.7" r="0.9" fill="#c02050"/>
<ellipse cx="70.9" cy="364.4" rx="4.6" ry="3.2" fill="#1848f0" filter="url(#b05)"/>
<circle cx="70.9" cy="364.4" r="0.9" fill="#c02050"/>
<circle cx="37.6" cy="321" r="1" fill="#70a0f0" filter="url(#b05)"/>
<circle cx="75" cy="310" r="1" fill="#70a0f0" filter="url(#b05)"/>
<circle cx="89" cy="319" r="1" fill="#70a0f0" filter="url(#b05)"/>
<circle cx="87" cy="341" r="1" fill="#70a0f0" filter="url(#b05)"/>
<circle cx="38" cy="357" r="1" fill="#70a0f0" filter="url(#b05)"/>
</g></g>
<path d="M102.8,334.2 L64.2,334.2 L42.7,373" fill="none" stroke="#000" stroke-width="1.6"/>
<rect x="24.5" y="294.5" width="31.8" height="8" fill="#fff"/>
<text x="25.5" y="301.3" font-size="6.3" text-anchor="start" font-weight="normal" fill="#111"  style="">-285.1 eV</text>
<text x="100.5" y="370.5" font-size="6.8" text-anchor="end" font-weight="normal" fill="#fff"  style="">calc</text>
<rect x="24.5" y="294.5" width="78.3" height="78.5" fill="none" stroke="#111" stroke-width="0.8"/>
<line x1="28.29" y1="294.50" x2="28.29" y2="293.00" stroke="#222" stroke-width="0.8" />
<line x1="28.29" y1="374.50" x2="28.29" y2="376.00" stroke="#222" stroke-width="0.8" />
<line x1="33.42" y1="294.50" x2="33.42" y2="293.00" stroke="#222" stroke-width="0.8" />
<line x1="33.42" y1="374.50" x2="33.42" y2="376.00" stroke="#222" stroke-width="0.8" />
<line x1="38.55" y1="294.50" x2="38.55" y2="291.90" stroke="#222" stroke-width="0.8" />
<line x1="38.55" y1="374.50" x2="38.55" y2="377.10" stroke="#222" stroke-width="0.8" />
<line x1="43.68" y1="294.50" x2="43.68" y2="293.00" stroke="#222" stroke-width="0.8" />
<line x1="43.68" y1="374.50" x2="43.68" y2="376.00" stroke="#222" stroke-width="0.8" />
<line x1="48.81" y1="294.50" x2="48.81" y2="293.00" stroke="#222" stroke-width="0.8" />
<line x1="48.81" y1="374.50" x2="48.81" y2="376.00" stroke="#222" stroke-width="0.8" />
<line x1="53.94" y1="294.50" x2="53.94" y2="293.00" stroke="#222" stroke-width="0.8" />
<line x1="53.94" y1="374.50" x2="53.94" y2="376.00" stroke="#222" stroke-width="0.8" />
<line x1="59.07" y1="294.50" x2="59.07" y2="293.00" stroke="#222" stroke-width="0.8" />
<line x1="59.07" y1="374.50" x2="59.07" y2="376.00" stroke="#222" stroke-width="0.8" />
<line x1="64.20" y1="294.50" x2="64.20" y2="291.90" stroke="#222" stroke-width="0.8" />
<line x1="64.20" y1="374.50" x2="64.20" y2="377.10" stroke="#222" stroke-width="0.8" />
<line x1="69.33" y1="294.50" x2="69.33" y2="293.00" stroke="#222" stroke-width="0.8" />
<line x1="69.33" y1="374.50" x2="69.33" y2="376.00" stroke="#222" stroke-width="0.8" />
<line x1="74.46" y1="294.50" x2="74.46" y2="293.00" stroke="#222" stroke-width="0.8" />
<line x1="74.46" y1="374.50" x2="74.46" y2="376.00" stroke="#222" stroke-width="0.8" />
<line x1="79.59" y1="294.50" x2="79.59" y2="293.00" stroke="#222" stroke-width="0.8" />
<line x1="79.59" y1="374.50" x2="79.59" y2="376.00" stroke="#222" stroke-width="0.8" />
<line x1="84.72" y1="294.50" x2="84.72" y2="293.00" stroke="#222" stroke-width="0.8" />
<line x1="84.72" y1="374.50" x2="84.72" y2="376.00" stroke="#222" stroke-width="0.8" />
<line x1="89.85" y1="294.50" x2="89.85" y2="291.90" stroke="#222" stroke-width="0.8" />
<line x1="89.85" y1="374.50" x2="89.85" y2="377.10" stroke="#222" stroke-width="0.8" />
<line x1="94.98" y1="294.50" x2="94.98" y2="293.00" stroke="#222" stroke-width="0.8" />
<line x1="94.98" y1="374.50" x2="94.98" y2="376.00" stroke="#222" stroke-width="0.8" />
<line x1="100.11" y1="294.50" x2="100.11" y2="293.00" stroke="#222" stroke-width="0.8" />
<line x1="100.11" y1="374.50" x2="100.11" y2="376.00" stroke="#222" stroke-width="0.8" />
<text x="38.3" y="291.6" font-size="7" text-anchor="middle" font-weight="normal" fill="#222"  style="">-1</text>
<text x="64.4" y="291.6" font-size="7" text-anchor="middle" font-weight="normal" fill="#222"  style="">0</text>
<text x="89.6" y="291.6" font-size="7" text-anchor="middle" font-weight="normal" fill="#222"  style="">1</text>
<text x="64.4" y="279.2" font-size="7.5" text-anchor="middle" font-weight="normal" fill="#222"  style=""><tspan font-style="italic">k</tspan><tspan font-size="5" dy="1.5">x</tspan><tspan dy="-1.5"> (Å</tspan><tspan font-size="5" dy="-3">-1</tspan><tspan dy="3">)</tspan></text>
<line x1="24.50" y1="369.94" x2="23.00" y2="369.94" stroke="#222" stroke-width="0.8" />
<line x1="102.80" y1="369.94" x2="104.30" y2="369.94" stroke="#222" stroke-width="0.8" />
<line x1="24.50" y1="364.82" x2="23.00" y2="364.82" stroke="#222" stroke-width="0.8" />
<line x1="102.80" y1="364.82" x2="104.30" y2="364.82" stroke="#222" stroke-width="0.8" />
<line x1="24.50" y1="359.70" x2="21.90" y2="359.70" stroke="#222" stroke-width="0.8" />
<line x1="102.80" y1="359.70" x2="105.40" y2="359.70" stroke="#222" stroke-width="0.8" />
<line x1="24.50" y1="354.58" x2="23.00" y2="354.58" stroke="#222" stroke-width="0.8" />
<line x1="102.80" y1="354.58" x2="104.30" y2="354.58" stroke="#222" stroke-width="0.8" />
<line x1="24.50" y1="349.46" x2="23.00" y2="349.46" stroke="#222" stroke-width="0.8" />
<line x1="102.80" y1="349.46" x2="104.30" y2="349.46" stroke="#222" stroke-width="0.8" />
<line x1="24.50" y1="344.34" x2="23.00" y2="344.34" stroke="#222" stroke-width="0.8" />
<line x1="102.80" y1="344.34" x2="104.30" y2="344.34" stroke="#222" stroke-width="0.8" />
<line x1="24.50" y1="339.22" x2="23.00" y2="339.22" stroke="#222" stroke-width="0.8" />
<line x1="102.80" y1="339.22" x2="104.30" y2="339.22" stroke="#222" stroke-width="0.8" />
<line x1="24.50" y1="334.10" x2="21.90" y2="334.10" stroke="#222" stroke-width="0.8" />
<line x1="102.80" y1="334.10" x2="105.40" y2="334.10" stroke="#222" stroke-width="0.8" />
<line x1="24.50" y1="328.98" x2="23.00" y2="328.98" stroke="#222" stroke-width="0.8" />
<line x1="102.80" y1="328.98" x2="104.30" y2="328.98" stroke="#222" stroke-width="0.8" />
<line x1="24.50" y1="323.86" x2="23.00" y2="323.86" stroke="#222" stroke-width="0.8" />
<line x1="102.80" y1="323.86" x2="104.30" y2="323.86" stroke="#222" stroke-width="0.8" />
<line x1="24.50" y1="318.74" x2="23.00" y2="318.74" stroke="#222" stroke-width="0.8" />
<line x1="102.80" y1="318.74" x2="104.30" y2="318.74" stroke="#222" stroke-width="0.8" />
<line x1="24.50" y1="313.62" x2="23.00" y2="313.62" stroke="#222" stroke-width="0.8" />
<line x1="102.80" y1="313.62" x2="104.30" y2="313.62" stroke="#222" stroke-width="0.8" />
<line x1="24.50" y1="308.50" x2="21.90" y2="308.50" stroke="#222" stroke-width="0.8" />
<line x1="102.80" y1="308.50" x2="105.40" y2="308.50" stroke="#222" stroke-width="0.8" />
<line x1="24.50" y1="303.38" x2="23.00" y2="303.38" stroke="#222" stroke-width="0.8" />
<line x1="102.80" y1="303.38" x2="104.30" y2="303.38" stroke="#222" stroke-width="0.8" />
<line x1="24.50" y1="298.26" x2="23.00" y2="298.26" stroke="#222" stroke-width="0.8" />
<line x1="102.80" y1="298.26" x2="104.30" y2="298.26" stroke="#222" stroke-width="0.8" />
<text x="20.5" y="311.0" font-size="7" text-anchor="end" font-weight="normal" fill="#222"  style="">1</text>
<text x="20.5" y="336.1" font-size="7" text-anchor="end" font-weight="normal" fill="#222"  style="">0</text>
<text x="20.5" y="362.2" font-size="7" text-anchor="end" font-weight="normal" fill="#222"  style="">-1</text>
<text transform="translate(7.5,334) rotate(-90)" font-size="7.5" text-anchor="middle" fill="#222"><tspan font-style="italic">k</tspan><tspan font-size="5" dy="1.5">y</tspan><tspan dy="-1.5"> (Å</tspan><tspan font-size="5" dy="-3">-1</tspan><tspan dy="3">)</tspan></text>
<rect x="106.8" y="295" width="6.4" height="50.7" fill="url(#cbb)" stroke="#555" stroke-width="0.4"/>
<line x1="113.20" y1="307.50" x2="116.00" y2="307.50" stroke="#333" stroke-width="0.7" />
<text x="116.6" y="310.1" font-size="7.2" text-anchor="start" font-weight="normal" fill="#222"  style="">0.95</text>
<line x1="113.20" y1="320.20" x2="116.00" y2="320.20" stroke="#333" stroke-width="0.7" />
<text x="116.6" y="322.8" font-size="7.2" text-anchor="start" font-weight="normal" fill="#222"  style="">0.90</text>
<line x1="113.20" y1="332.70" x2="116.00" y2="332.70" stroke="#333" stroke-width="0.7" />
<text x="116.6" y="335.3" font-size="7.2" text-anchor="start" font-weight="normal" fill="#222"  style="">0.85</text>
<line x1="113.20" y1="345.30" x2="116.00" y2="345.30" stroke="#333" stroke-width="0.7" />
<text x="116.6" y="347.9" font-size="7.2" text-anchor="start" font-weight="normal" fill="#222"  style="">0.80</text>
<line x1="153.50" y1="297.00" x2="153.50" y2="340.00" stroke="#222" stroke-width="0.9" />
<polygon points="153.5,293.5 151.6,298.5 155.4,298.5" fill="#222"/>
<line x1="151.30" y1="306.50" x2="153.50" y2="306.50" stroke="#222" stroke-width="0.8" />
<text x="150.5" y="308.7" font-size="6.2" text-anchor="end" font-weight="normal" fill="#222"  style="">20</text>
<line x1="151.30" y1="316.10" x2="153.50" y2="316.10" stroke="#222" stroke-width="0.8" />
<text x="150.5" y="318.3" font-size="6.2" text-anchor="end" font-weight="normal" fill="#222"  style="">10</text>
<line x1="151.30" y1="325.70" x2="153.50" y2="325.70" stroke="#222" stroke-width="0.8" />
<text x="150.5" y="327.9" font-size="6.2" text-anchor="end" font-weight="normal" fill="#222"  style="">0</text>
<line x1="151.30" y1="335.20" x2="153.50" y2="335.20" stroke="#222" stroke-width="0.8" />
<text x="150.5" y="337.4" font-size="6.2" text-anchor="end" font-weight="normal" fill="#222"  style="">-10</text>
<text transform="translate(142,320) rotate(-90)" font-size="6.6" text-anchor="middle" fill="#222" style="font-family:Liberation Serif"><tspan font-style="italic">z</tspan> [pm]</text>
<line x1="153.50" y1="306.50" x2="371.50" y2="306.50" stroke="#555" stroke-width="0.65" stroke-dasharray="1.6,0.9"/>
<line x1="153.50" y1="316.20" x2="371.50" y2="316.20" stroke="#555" stroke-width="0.65" stroke-dasharray="1.6,0.9"/>
<line x1="153.50" y1="335.20" x2="371.50" y2="335.20" stroke="#555" stroke-width="0.65" stroke-dasharray="1.6,0.9"/>
<line x1="153.50" y1="325.60" x2="371.50" y2="325.60" stroke="#f07070" stroke-width="0.8" opacity="0.8"/>
<circle cx="160.0" cy="313.4" r="3.2" fill="url(#sw)"/>
<circle cx="163.4" cy="321.2" r="3.3" fill="url(#sw)"/>
<circle cx="171.6" cy="320.5" r="5.6" fill="url(#sg)"/>
<circle cx="182.6" cy="321.0" r="5.6" fill="url(#sg)"/>
<circle cx="192.6" cy="320.0" r="5" fill="url(#sg)"/>
<circle cx="168.5" cy="316.3" r="6.1" fill="url(#sg)"/>
<circle cx="176.8" cy="315.3" r="6.1" fill="url(#sg)"/>
<circle cx="187.8" cy="316.8" r="6.0" fill="url(#sg)"/>
<circle cx="195.3" cy="316.6" r="3.4" fill="url(#sw)"/>
<circle cx="200.3" cy="316.4" r="5.2" fill="url(#sg)"/>
<circle cx="259.2" cy="313.4" r="3.2" fill="url(#sw)"/>
<circle cx="255.8" cy="321.2" r="3.3" fill="url(#sw)"/>
<circle cx="247.6" cy="320.5" r="5.6" fill="url(#sg)"/>
<circle cx="236.6" cy="321.0" r="5.6" fill="url(#sg)"/>
<circle cx="226.6" cy="320.0" r="5" fill="url(#sg)"/>
<circle cx="250.7" cy="316.3" r="6.1" fill="url(#sg)"/>
<circle cx="242.4" cy="315.3" r="6.1" fill="url(#sg)"/>
<circle cx="231.4" cy="316.8" r="6.0" fill="url(#sg)"/>
<circle cx="223.9" cy="316.6" r="3.4" fill="url(#sw)"/>
<circle cx="218.9" cy="316.4" r="5.2" fill="url(#sg)"/>
<path d="M199.9,322.8 A9.7,9.9 0 0 0 219.29999999999998,322.8 Z" fill="url(#sn)"/>
<circle cx="197.8" cy="325.2" r="3.6" fill="url(#sb)"/>
<circle cx="221.4" cy="325.2" r="3.6" fill="url(#sb)"/>
<circle cx="209.6" cy="316.8" r="6.0" fill="url(#sb)"/>
<circle cx="317.4" cy="324.3" r="9.3" fill="url(#sn)"/>
<circle cx="272.1" cy="335.2" r="3.1" fill="url(#sw)"/>
<circle cx="268.8" cy="329.4" r="3.2" fill="url(#sw)"/>
<circle cx="276.4" cy="332.5" r="5.5" fill="url(#sg)"/>
<circle cx="282.4" cy="329.5" r="5.8" fill="url(#sg)"/>
<circle cx="293.4" cy="327.8" r="5.6" fill="url(#sg)"/>
<circle cx="274.4" cy="327.5" r="5.8" fill="url(#sg)"/>
<circle cx="284.4" cy="320.8" r="5.8" fill="url(#sg)"/>
<circle cx="294.9" cy="318.6" r="6.0" fill="url(#sg)"/>
<circle cx="281.4" cy="321.0" r="3.2" fill="url(#sw)"/>
<circle cx="302.2" cy="313.4" r="3.3" fill="url(#sw)"/>
<circle cx="304.8" cy="327.7" r="3.6" fill="url(#sb)"/>
<circle cx="307.2" cy="321.8" r="5.9" fill="url(#sg)"/>
<circle cx="362.7" cy="335.2" r="3.1" fill="url(#sw)"/>
<circle cx="366.0" cy="329.4" r="3.2" fill="url(#sw)"/>
<circle cx="358.4" cy="332.5" r="5.5" fill="url(#sg)"/>
<circle cx="352.4" cy="329.5" r="5.8" fill="url(#sg)"/>
<circle cx="341.4" cy="327.8" r="5.6" fill="url(#sg)"/>
<circle cx="360.4" cy="327.5" r="5.8" fill="url(#sg)"/>
<circle cx="350.4" cy="320.8" r="5.8" fill="url(#sg)"/>
<circle cx="339.9" cy="318.6" r="6.0" fill="url(#sg)"/>
<circle cx="353.4" cy="321.0" r="3.2" fill="url(#sw)"/>
<circle cx="332.6" cy="313.4" r="3.3" fill="url(#sw)"/>
<circle cx="330.0" cy="327.7" r="3.6" fill="url(#sb)"/>
<circle cx="327.6" cy="321.8" r="5.9" fill="url(#sg)"/>
<circle cx="317.4" cy="321.6" r="6.0" fill="url(#sb)"/>
<text x="201.1" y="295.0" font-size="8.7" text-anchor="start" font-weight="normal" fill="#222"  style="">CuPc<tspan font-size="5.2" dy="2.4">t-1</tspan></text>
<text x="302.5" y="294.5" font-size="8.7" text-anchor="start" font-weight="normal" fill="#222"  style="">CuPc<tspan font-size="5.2" dy="-3.4">+</tspan><tspan font-size="5.2" dx="-2.9" dy="5.8">t1</tspan></text>
<line x1="385.00" y1="315.00" x2="385.00" y2="322.60" stroke="#111" stroke-width="0.7" />
<polygon points="385,313.2 383.6,316 386.4,316" fill="#111"/><polygon points="385,324.4 383.6,321.6 386.4,321.6" fill="#111"/>
<text x="386.4" y="322.0" font-size="7.9" text-anchor="start" font-weight="normal" fill="#222"  style="">x7</text>
<defs>
<linearGradient id="slabL" x1="0" y1="0" x2="0" y2="1"><stop offset="0" stop-color="#b8b0b1"/><stop offset="1" stop-color="#cdc7c7"/></linearGradient>
<linearGradient id="slabLp" gradientUnits="userSpaceOnUse" x1="410" y1="120" x2="525" y2="60"><stop offset="0" stop-color="#e0b4be" stop-opacity="0.95"/><stop offset="0.5" stop-color="#e0b0bc" stop-opacity="0.55"/><stop offset="1" stop-color="#e0b0bc" stop-opacity="0"/></linearGradient>
<linearGradient id="slabR" x1="0" y1="0" x2="0" y2="1"><stop offset="0" stop-color="#bab6b4"/><stop offset="1" stop-color="#c7c4c2"/></linearGradient>
<linearGradient id="front" x1="0" y1="0" x2="0" y2="1"><stop offset="0" stop-color="#c8c8c0"/><stop offset="0.15" stop-color="#b0b0a8"/><stop offset="0.5" stop-color="#9e9e96"/><stop offset="1" stop-color="#aaaaa2"/></linearGradient>
<radialGradient id="watch" cx="0.45" cy="0.4" r="0.6"><stop offset="0" stop-color="#f0ece4"/><stop offset="0.8" stop-color="#d8d0c0"/><stop offset="1" stop-color="#a09888"/></radialGradient>
<linearGradient id="arrowg" x1="0" y1="0" x2="1" y2="0"><stop offset="0" stop-color="#706860"/><stop offset="0.5" stop-color="#c8c0b0"/><stop offset="1" stop-color="#a09890"/></linearGradient>
</defs>
<polygon points="474.5,39.4 543.5,39.4 543.2,124 408.8,124" fill="url(#slabL)"/>
<polygon points="474.5,39.4 543.5,39.4 543.2,124 408.8,124" fill="url(#slabLp)"/>
<polygon points="550.8,39.4 619.8,39.4 682.8,124 550.8,124" fill="url(#slabR)"/>
<defs><clipPath id="slabLc"><polygon points="474.5,39.4 543.5,39.4 543.2,124 408.8,124"/></clipPath></defs>
<g clip-path="url(#slabLc)"><ellipse cx="482" cy="86" rx="36" ry="24" fill="#eaa8b4" opacity="0.3" filter="url(#b3)"/><ellipse cx="472" cy="66" rx="18" ry="11" fill="#eaa0b0" opacity="0.3" filter="url(#b3)"/></g>
<polygon points="408.8,124 543.2,124 543.2,134 412.5,134" fill="url(#front)"/>
<polygon points="550.8,124 682.8,124 680.5,133.6 550.8,133.6" fill="url(#front)"/>
<ellipse cx="420.4" cy="129.1" rx="2.5" ry="2.2" fill="#86867e"/>
<ellipse cx="429.5" cy="129.1" rx="2.5" ry="2.2" fill="#86867e"/>
<ellipse cx="438.6" cy="129.1" rx="2.5" ry="2.2" fill="#86867e"/>
<ellipse cx="447.7" cy="129.1" rx="2.5" ry="2.2" fill="#86867e"/>
<ellipse cx="456.8" cy="129.1" rx="2.5" ry="2.2" fill="#86867e"/>
<ellipse cx="465.9" cy="129.1" rx="2.5" ry="2.2" fill="#86867e"/>
<ellipse cx="475.0" cy="129.1" rx="2.5" ry="2.2" fill="#86867e"/>
<ellipse cx="484.1" cy="129.1" rx="2.5" ry="2.2" fill="#86867e"/>
<ellipse cx="493.2" cy="129.1" rx="2.5" ry="2.2" fill="#86867e"/>
<ellipse cx="502.3" cy="129.1" rx="2.5" ry="2.2" fill="#86867e"/>
<ellipse cx="511.4" cy="129.1" rx="2.5" ry="2.2" fill="#86867e"/>
<ellipse cx="520.5" cy="129.1" rx="2.5" ry="2.2" fill="#86867e"/>
<ellipse cx="529.6" cy="129.1" rx="2.5" ry="2.2" fill="#86867e"/>
<ellipse cx="538.7" cy="129.1" rx="2.5" ry="2.2" fill="#86867e"/>
<ellipse cx="559.5" cy="129.1" rx="2.5" ry="2.2" fill="#86867e"/>
<ellipse cx="568.6" cy="129.1" rx="2.5" ry="2.2" fill="#86867e"/>
<ellipse cx="577.7" cy="129.1" rx="2.5" ry="2.2" fill="#86867e"/>
<ellipse cx="586.8" cy="129.1" rx="2.5" ry="2.2" fill="#86867e"/>
<ellipse cx="595.9" cy="129.1" rx="2.5" ry="2.2" fill="#86867e"/>
<ellipse cx="605.0" cy="129.1" rx="2.5" ry="2.2" fill="#86867e"/>
<ellipse cx="614.1" cy="129.1" rx="2.5" ry="2.2" fill="#86867e"/>
<ellipse cx="623.2" cy="129.1" rx="2.5" ry="2.2" fill="#86867e"/>
<ellipse cx="632.3" cy="129.1" rx="2.5" ry="2.2" fill="#86867e"/>
<ellipse cx="641.4" cy="129.1" rx="2.5" ry="2.2" fill="#86867e"/>
<ellipse cx="650.5" cy="129.1" rx="2.5" ry="2.2" fill="#86867e"/>
<ellipse cx="659.6" cy="129.1" rx="2.5" ry="2.2" fill="#86867e"/>
<ellipse cx="668.7" cy="129.1" rx="2.5" ry="2.2" fill="#86867e"/>
<ellipse cx="677.8" cy="129.1" rx="2.5" ry="2.2" fill="#86867e"/>
<circle cx="416.6" cy="125.2" r="0.6" fill="#d8c890"/><circle cx="416.6" cy="132.8" r="0.6" fill="#d8c890"/>
<circle cx="425.9" cy="125.2" r="0.6" fill="#d8c890"/><circle cx="425.9" cy="132.8" r="0.6" fill="#d8c890"/>
<circle cx="435.2" cy="125.2" r="0.6" fill="#d8c890"/><circle cx="435.2" cy="132.8" r="0.6" fill="#d8c890"/>
<circle cx="444.5" cy="125.2" r="0.6" fill="#d8c890"/><circle cx="444.5" cy="132.8" r="0.6" fill="#d8c890"/>
<circle cx="453.8" cy="125.2" r="0.6" fill="#d8c890"/><circle cx="453.8" cy="132.8" r="0.6" fill="#d8c890"/>
<circle cx="463.1" cy="125.2" r="0.6" fill="#d8c890"/><circle cx="463.1" cy="132.8" r="0.6" fill="#d8c890"/>
<circle cx="472.4" cy="125.2" r="0.6" fill="#d8c890"/><circle cx="472.4" cy="132.8" r="0.6" fill="#d8c890"/>
<circle cx="481.7" cy="125.2" r="0.6" fill="#d8c890"/><circle cx="481.7" cy="132.8" r="0.6" fill="#d8c890"/>
<circle cx="491.0" cy="125.2" r="0.6" fill="#d8c890"/><circle cx="491.0" cy="132.8" r="0.6" fill="#d8c890"/>
<circle cx="500.3" cy="125.2" r="0.6" fill="#d8c890"/><circle cx="500.3" cy="132.8" r="0.6" fill="#d8c890"/>
<circle cx="509.6" cy="125.2" r="0.6" fill="#d8c890"/><circle cx="509.6" cy="132.8" r="0.6" fill="#d8c890"/>
<circle cx="518.9" cy="125.2" r="0.6" fill="#d8c890"/><circle cx="518.9" cy="132.8" r="0.6" fill="#d8c890"/>
<circle cx="528.2" cy="125.2" r="0.6" fill="#d8c890"/><circle cx="528.2" cy="132.8" r="0.6" fill="#d8c890"/>
<circle cx="537.5" cy="125.2" r="0.6" fill="#d8c890"/><circle cx="537.5" cy="132.8" r="0.6" fill="#d8c890"/>
<circle cx="557.6" cy="125.2" r="0.6" fill="#d8c890"/><circle cx="557.6" cy="132.8" r="0.6" fill="#d8c890"/>
<circle cx="566.9" cy="125.2" r="0.6" fill="#d8c890"/><circle cx="566.9" cy="132.8" r="0.6" fill="#d8c890"/>
<circle cx="576.2" cy="125.2" r="0.6" fill="#d8c890"/><circle cx="576.2" cy="132.8" r="0.6" fill="#d8c890"/>
<circle cx="585.5" cy="125.2" r="0.6" fill="#d8c890"/><circle cx="585.5" cy="132.8" r="0.6" fill="#d8c890"/>
<circle cx="594.8" cy="125.2" r="0.6" fill="#d8c890"/><circle cx="594.8" cy="132.8" r="0.6" fill="#d8c890"/>
<circle cx="604.1" cy="125.2" r="0.6" fill="#d8c890"/><circle cx="604.1" cy="132.8" r="0.6" fill="#d8c890"/>
<circle cx="613.4" cy="125.2" r="0.6" fill="#d8c890"/><circle cx="613.4" cy="132.8" r="0.6" fill="#d8c890"/>
<circle cx="622.7" cy="125.2" r="0.6" fill="#d8c890"/><circle cx="622.7" cy="132.8" r="0.6" fill="#d8c890"/>
<circle cx="632.0" cy="125.2" r="0.6" fill="#d8c890"/><circle cx="632.0" cy="132.8" r="0.6" fill="#d8c890"/>
<circle cx="641.3" cy="125.2" r="0.6" fill="#d8c890"/><circle cx="641.3" cy="132.8" r="0.6" fill="#d8c890"/>
<circle cx="650.6" cy="125.2" r="0.6" fill="#d8c890"/><circle cx="650.6" cy="132.8" r="0.6" fill="#d8c890"/>
<circle cx="659.9" cy="125.2" r="0.6" fill="#d8c890"/><circle cx="659.9" cy="132.8" r="0.6" fill="#d8c890"/>
<circle cx="669.2" cy="125.2" r="0.6" fill="#d8c890"/><circle cx="669.2" cy="132.8" r="0.6" fill="#d8c890"/>
<circle cx="678.5" cy="125.2" r="0.6" fill="#d8c890"/><circle cx="678.5" cy="132.8" r="0.6" fill="#d8c890"/>
<defs><clipPath id="rh"><polygon points="410.6,28.5 420,17.2 434.5,17.2 439.4,31.5 433,41.2 422,44.4 418.2,43.5"/></clipPath></defs>
<g clip-path="url(#rh)" stroke="#ff2cf4" stroke-width="2.1" stroke-linecap="round">
<line x1="391.5" y1="46.9" x2="414.5" y2="14.1"/>
<line x1="395.9" y1="46.9" x2="418.9" y2="14.1"/>
<line x1="400.3" y1="46.9" x2="423.3" y2="14.1"/>
<line x1="404.7" y1="46.9" x2="427.7" y2="14.1"/>
<line x1="409.1" y1="46.9" x2="432.1" y2="14.1"/>
<line x1="413.5" y1="46.9" x2="436.5" y2="14.1"/>
<line x1="417.9" y1="46.9" x2="440.9" y2="14.1"/>
<line x1="422.3" y1="46.9" x2="445.3" y2="14.1"/>
<line x1="426.7" y1="46.9" x2="449.7" y2="14.1"/>
<line x1="431.1" y1="46.9" x2="454.1" y2="14.1"/>
<line x1="435.5" y1="46.9" x2="458.5" y2="14.1"/>
</g>
<g clip-path="url(#rh)" stroke="#ffb0fa" stroke-width="0.5">
<line x1="391.5" y1="46.9" x2="414.5" y2="14.1"/>
<line x1="395.9" y1="46.9" x2="418.9" y2="14.1"/>
<line x1="400.3" y1="46.9" x2="423.3" y2="14.1"/>
<line x1="404.7" y1="46.9" x2="427.7" y2="14.1"/>
<line x1="409.1" y1="46.9" x2="432.1" y2="14.1"/>
<line x1="413.5" y1="46.9" x2="436.5" y2="14.1"/>
<line x1="417.9" y1="46.9" x2="440.9" y2="14.1"/>
<line x1="422.3" y1="46.9" x2="445.3" y2="14.1"/>
<line x1="426.7" y1="46.9" x2="449.7" y2="14.1"/>
<line x1="431.1" y1="46.9" x2="454.1" y2="14.1"/>
<line x1="435.5" y1="46.9" x2="458.5" y2="14.1"/>
</g>
<path d="M406.2,18.6 L405.9,19.1 L405.6,19.6 L405.4,19.9 L405.4,20.2 L405.5,20.3 L405.7,20.3 L406.1,20.1 L406.6,19.9 L407.1,19.6 L407.7,19.4 L408.2,19.1 L408.6,19.0 L408.8,19.0 L408.9,19.1 L408.9,19.3 L408.7,19.7 L408.4,20.2 L408.1,20.7 L407.8,21.2 L407.5,21.6 L407.3,22.0 L407.3,22.3 L407.4,22.4 L407.6,22.3 L408.0,22.2 L408.5,22.0 L409.0,21.7 L409.6,21.4 L410.1,21.2 L410.4,21.1 L410.7,21.0 L410.8,21.2 L410.7,21.4 L410.6,21.8 L410.3,22.2 L410.0,22.8 L409.6,23.3 L409.4,23.7 L409.2,24.1 L409.2,24.3 L409.3,24.4 L409.5,24.4 L409.9,24.3 L410.4,24.0 L410.9,23.8 L411.5,23.5 L412.0,23.3 L412.3,23.1 L412.6,23.1 L412.7,23.2 L412.6,23.5 L412.4,23.9 L412.2,24.3 L411.8,24.8 L411.5,25.3 L411.3,25.8 L411.1,26.2 L411.0,26.4 L411.2,26.5 L411.4,26.5" fill="none" stroke="#ff2cf4" stroke-width="1.1" stroke-linejoin="round"/>
<path d="M433.5,39.5 L433.5,39.9 L433.5,40.3 L433.5,40.7 L433.5,40.9 L433.6,41.1 L433.7,41.1 L433.9,41.1 L434.0,40.9 L434.3,40.6 L434.5,40.3 L434.7,39.9 L435.0,39.6 L435.2,39.2 L435.4,38.9 L435.6,38.7 L435.7,38.7 L435.8,38.7 L435.9,38.8 L436.0,39.0 L436.0,39.4 L436.0,39.8 L436.0,40.2 L436.0,40.6 L436.0,41.0 L436.0,41.4 L436.0,41.7 L436.1,41.8 L436.2,41.9 L436.3,41.9 L436.5,41.7 L436.7,41.5 L436.9,41.1 L437.1,40.8 L437.4,40.4 L437.6,40.1 L437.8,39.8 L438.0,39.6 L438.2,39.4 L438.3,39.4 L438.4,39.5 L438.4,39.8 L438.5,40.1 L438.5,40.4 L438.5,40.9 L438.5,41.3 L438.4,41.7 L438.5,42.1 L438.5,42.4 L438.5,42.6 L438.6,42.7 L438.8,42.7 L438.9,42.5 L439.1,42.3 L439.3,42.0 L439.6,41.6 L439.8,41.3 L440.0,40.9 L440.3,40.6 L440.5,40.4 L440.6,40.2" fill="none" stroke="#ff2cf4" stroke-width="1.1" stroke-linejoin="round"/>
<path d="M446.9,47.5 L447.0,47.5 L447.1,47.4 L447.1,47.4 L447.2,47.4 L447.3,47.4 L447.4,47.3 L447.4,47.3 L447.5,47.3 L447.6,47.2 L447.7,47.2 L447.7,47.2 L447.8,47.2 L447.9,47.1 L447.9,47.1 L448.0,47.1 L448.1,47.1 L448.1,47.0 L448.2,47.0 L448.3,47.0 L448.3,47.0 L448.4,47.0 L448.5,46.9 L448.5,46.9 L448.6,46.9 L448.7,46.9 L448.7,46.9 L448.8,46.9 L448.8,46.9 L448.9,46.9 L448.9,46.9 L449.0,46.8 L449.0,46.8 L449.1,46.8 L449.1,46.8 L449.2,46.8 L449.2,46.8 L449.2,46.9 L449.3,46.9 L449.3,46.9 L449.4,46.9 L449.4,46.9 L449.4,46.9 L449.5,46.9 L449.5,46.9 L449.5,47.0 L449.5,47.0 L449.6,47.0 L449.6,47.0 L449.6,47.0 L449.6,47.1 L449.6,47.1 L449.7,47.1 L449.7,47.2 L449.7,47.2 L449.7,47.2 L449.7,47.3 L449.7,47.3 L449.7,47.4 L449.7,47.4 L449.7,47.4 L449.7,47.5 L449.7,47.5 L449.7,47.6 L449.7,47.6 L449.7,47.7 L449.7,47.7 L449.7,47.8 L449.7,47.8 L449.7,47.9 L449.7,48.0 L449.6,48.0 L449.6,48.1 L449.6,48.1 L449.6,48.2 L449.6,48.3 L449.6,48.3 L449.6,48.4 L449.5,48.5 L449.5,48.5 L449.5,48.6 L449.5,48.6 L449.5,48.7 L449.4,48.8 L449.4,48.9 L449.4,48.9 L449.4,49.0 L449.3,49.1 L449.3,49.1 L449.3,49.2 L449.3,49.3 L449.3,49.3 L449.2,49.4 L449.2,49.5 L449.2,49.5 L449.2,49.6 L449.1,49.7 L449.1,49.7 L449.1,49.8 L449.1,49.9 L449.1,49.9 L449.0,50.0 L449.0,50.1 L449.0,50.1 L449.0,50.2 L449.0,50.3 L449.0,50.3 L448.9,50.4 L448.9,50.4 L448.9,50.5 L448.9,50.6 L448.9,50.6 L448.9,50.7 L448.9,50.7 L448.9,50.8 L448.9,50.8 L448.9,50.9 L448.9,50.9 L448.9,51.0 L448.9,51.0 L448.9,51.1 L448.9,51.1 L448.9,51.1 L448.9,51.2 L448.9,51.2 L448.9,51.3 L448.9,51.3 L448.9,51.3 L448.9,51.4 L448.9,51.4 L449.0,51.4 L449.0,51.4 L449.0,51.5 L449.0,51.5 L449.1,51.5 L449.1,51.5 L449.1,51.5 L449.1,51.6 L449.2,51.6 L449.2,51.6 L449.2,51.6 L449.3,51.6 L449.3,51.6 L449.4,51.6 L449.4,51.6 L449.4,51.6 L449.5,51.6 L449.5,51.6 L449.6,51.6 L449.6,51.6 L449.7,51.6 L449.7,51.6 L449.8,51.6 L449.9,51.6 L449.9,51.6 L450.0,51.6 L450.0,51.5 L450.1,51.5 L450.2,51.5 L450.2,51.5 L450.3,51.5 L450.3,51.5 L450.4,51.4 L450.5,51.4 L450.6,51.4 L450.6,51.4 L450.7,51.3 L450.8,51.3 L450.8,51.3 L450.9,51.3 L451.0,51.2 L451.1,51.2 L451.1,51.2 L451.2,51.2 L451.3,51.1 L451.4,51.1 L451.4,51.1 L451.5,51.0 L451.6,51.0 L451.7,51.0 L451.7,50.9 L451.8,50.9 L451.9,50.9 L452.0,50.9 L452.0,50.8 L452.1,50.8 L452.2,50.8 L452.3,50.7 L452.3,50.7 L452.4,50.7 L452.5,50.7 L452.6,50.6 L452.6,50.6 L452.7,50.6 L452.8,50.6 L452.8,50.5 L452.9,50.5 L453.0,50.5 L453.0,50.5 L453.1,50.4 L453.2,50.4 L453.2,50.4 L453.3,50.4 L453.4,50.4 L453.4,50.4 L453.5,50.4 L453.5,50.3 L453.6,50.3 L453.6,50.3 L453.7,50.3 L453.7,50.3 L453.8,50.3 L453.8,50.3 L453.9,50.3 L453.9,50.3 L454.0,50.3 L454.0,50.3 L454.1,50.3 L454.1,50.3 L454.1,50.3 L454.2,50.4 L454.2,50.4 L454.2,50.4 L454.3,50.4 L454.3,50.4 L454.3,50.4 L454.3,50.5 L454.4,50.5 L454.4,50.5 L454.4,50.5 L454.4,50.6 L454.4,50.6 L454.4,50.6 L454.5,50.7 L454.5,50.7 L454.5,50.7 L454.5,50.8 L454.5,50.8 L454.5,50.9 L454.5,50.9 L454.5,50.9 L454.5,51.0 L454.5,51.0 L454.5,51.1 L454.5,51.1 L454.5,51.2 L454.5,51.3 L454.5,51.3 L454.4,51.4 L454.4,51.4 L454.4,51.5 L454.4,51.5 L454.4,51.6 L454.4,51.7 L454.4,51.7 L454.3,51.8 L454.3,51.8 L454.3,51.9 L454.3,52.0 L454.3,52.0 L454.3,52.1 L454.2,52.2 L454.2,52.2 L454.2,52.3 L454.2,52.4 L454.1,52.4 L454.1,52.5 L454.1,52.6 L454.1,52.7 L454.1,52.7 L454.0,52.8 L454.0,52.9 L454.0,52.9 L454.0,53.0 L453.9,53.1 L453.9,53.1 L453.9,53.2 L453.9,53.3 L453.9,53.3 L453.8,53.4 L453.8,53.5 L453.8,53.5 L453.8,53.6 L453.8,53.7 L453.7,53.7 L453.7,53.8 L453.7,53.8 L453.7,53.9 L453.7,54.0 L453.7,54.0 L453.7,54.1 L453.7,54.1 L453.6,54.2 L453.6,54.2 L453.6,54.3 L453.6,54.3 L453.6,54.4 L453.6,54.4 L453.6,54.5 L453.6,54.5 L453.6,54.6 L453.6,54.6 L453.6,54.6 L453.7,54.7 L453.7,54.7 L453.7,54.8 L453.7,54.8 L453.7,54.8 L453.7,54.8 L453.7,54.9 L453.8,54.9 L453.8,54.9 L453.8,55.0 L453.8,55.0 L453.9,55.0 L453.9,55.0 L453.9,55.0 L453.9,55.0 L454.0,55.1 L454.0,55.1 L454.0,55.1 L454.1,55.1 L454.1,55.1 L454.2,55.1 L454.2,55.1 L454.3,55.1 L454.3,55.1 L454.4,55.1 L454.4,55.1 L454.5,55.1 L454.5,55.1 L454.6,55.1 L454.6,55.1 L454.7,55.0 L454.7,55.0 L454.8,55.0 L454.9,55.0 L454.9,55.0 L455.0,55.0 L455.0,54.9 L455.1,54.9 L455.2,54.9 L455.2,54.9 L455.3,54.9 L455.4,54.8 L455.5,54.8 L455.5,54.8 L455.6,54.8 L455.7,54.7 L455.7,54.7 L455.8,54.7 L455.9,54.7 L456.0,54.6 L456.0,54.6 L456.1,54.6 L456.2,54.5 L456.3,54.5 L456.3,54.5 L456.4,54.4 L456.5,54.4 L456.6,54.4 L456.7,54.4 L456.7,54.3 L456.8,54.3 L456.9,54.3 L457.0,54.2 L457.0,54.2 L457.1,54.2 L457.2,54.2 L457.2,54.1 L457.3,54.1 L457.4,54.1 L457.5,54.0 L457.5,54.0 L457.6,54.0 L457.7,54.0 L457.7,54.0 L457.8,53.9 L457.9,53.9 L457.9,53.9 L458.0,53.9 L458.1,53.9 L458.1,53.9 L458.2,53.8 L458.2,53.8 L458.3,53.8 L458.4,53.8 L458.4,53.8 L458.5,53.8 L458.5,53.8 L458.6,53.8 L458.6,53.8 L458.7,53.8 L458.7,53.8 L458.7,53.8 L458.8,53.8 L458.8,53.8 L458.9,53.8 L458.9,53.8 L458.9,53.8 L459.0,53.8 L459.0,53.9 L459.0,53.9 L459.1,53.9 L459.1,53.9 L459.1,53.9 L459.1,54.0 L459.1,54.0 L459.2,54.0 L459.2,54.0 L459.2,54.1 L459.2,54.1 L459.2,54.1 L459.2,54.2 L459.2,54.2 L459.2,54.2 L459.3,54.3 L459.3,54.3 L459.3,54.4 L459.3,54.4 L459.3,54.5 L459.3,54.5 L459.3,54.6 L459.3,54.6 L459.2,54.7 L459.2,54.7 L459.2,54.8 L459.2,54.8 L459.2,54.9 L459.2,54.9 L459.2,55.0 L459.2,55.1 L459.2,55.1 L459.1,55.2 L459.1,55.2 L459.1,55.3 L459.1,55.4 L459.1,55.4 L459.1,55.5 L459.0,55.6 L459.0,55.6 L459.0,55.7 L459.0,55.8 L458.9,55.8 L458.9,55.9 L458.9,56.0 L458.9,56.0 L458.9,56.1 L458.8,56.2 L458.8,56.2 L458.8,56.3 L458.8,56.4 L458.7,56.5 L458.7,56.5 L458.7,56.6 L458.7,56.7 L458.7,56.7 L458.6,56.8 L458.6,56.9 L458.6,56.9 L458.6,57.0 L458.6,57.1 L458.5,57.1 L458.5,57.2 L458.5,57.2 L458.5,57.3 L458.5,57.4 L458.5,57.4 L458.5,57.5 L458.4,57.5 L458.4,57.6 L458.4,57.6 L458.4,57.7 L458.4,57.7 L458.4,57.8 L458.4,57.8 L458.4,57.9 L458.4,57.9 L458.4,58.0 L458.4,58.0 L458.4,58.1 L458.4,58.1 L458.4,58.1 L458.4,58.2 L458.4,58.2 L458.5,58.3 L458.5,58.3 L458.5,58.3 L458.5,58.3 L458.5,58.4 L458.5,58.4 L457.7,59.3 L457.5,59.5 L457.4,59.7 L457.2,59.9 L457.2,60.0 L457.1,60.1 L457.1,60.2 L457.0,60.3 L457.0,60.4 L457.0,60.4 L457.0,60.5 L457.0,60.5 L457.0,60.6 L457.1,60.6 L457.1,60.6 L457.1,60.6 L457.2,60.6 L457.3,60.7 L457.3,60.6 L457.4,60.6 L457.5,60.6 L457.6,60.6 L457.7,60.6 L457.8,60.5 L457.9,60.5 L458.0,60.4 L458.1,60.4 L458.3,60.3 L458.4,60.3 L458.6,60.2 L458.7,60.1 L458.9,60.0 L459.0,60.0 L459.2,59.9 L459.3,59.8 L459.5,59.7 L459.7,59.6 L459.9,59.5 L460.1,59.4 L460.3,59.2 L460.4,59.1 L460.6,59.0 L460.8,58.9 L461.0,58.8 L461.2,58.6 L461.4,58.5 L461.7,58.4 L461.9,58.2 L462.1,58.1 L462.3,57.9 L462.5,57.8 L462.7,57.6 L462.9,57.5 L463.1,57.4 L463.3,57.2 L463.5,57.1 L463.7,56.9 L463.9,56.8 L464.1,56.6 L464.3,56.5 L464.5,56.3 L464.7,56.2 L464.9,56.0 L465.1,55.9 L465.3,55.7 L465.5,55.6 L465.7,55.5 L465.8,55.3 L466.0,55.2 L466.1,55.1 L466.3,54.9 L466.5,54.8 L466.6,54.7 L466.7,54.6 L466.9,54.4 L467.0,54.3 L467.1,54.2 L467.2,54.1 L467.3,54.0 L467.4,53.9 L467.5,53.8 L467.6,53.7 L467.7,53.7 L467.8,53.6 L467.8,53.5 L467.9,53.4 L467.9,53.4 L468.0,53.3 L468.0,53.3 L468.0,53.2 L468.0,53.2 L468.0,53.2 L468.0,53.1 L468.0,53.1 L468.0,53.1 L468.0,53.1 L467.9,53.1 L467.9,53.1 L467.9,53.1 L467.8,53.1 L467.7,53.1 L467.7,53.2 L467.6,53.2 L467.5,53.3 L467.4,53.3 L467.3,53.4 L467.2,53.4 L467.0,53.5 L466.9,53.6 L466.8,53.7 L466.6,53.8 L466.5,53.9 L466.3,54.0 L466.2,54.1 L466.0,54.2 L465.9,54.3 L465.7,54.5 L465.5,54.6 L465.4,54.8 L465.2,54.9 L465.0,55.1 L464.8,55.3 L464.6,55.4 L464.4,55.6 L464.3,55.8 L464.1,56.0 L463.9,56.2 L463.7,56.4 L463.5,56.6 L463.3,56.8 L463.1,57.0 L462.9,57.2 L462.7,57.5 L462.5,57.7 L462.3,57.9 L462.1,58.1 L461.9,58.4 L461.7,58.6 L461.5,58.9 L461.3,59.1 L461.1,59.3 L460.9,59.6 L460.8,59.8 L460.6,60.1 L460.4,60.3 L460.2,60.6 L460.0,60.8 L459.9,61.1 L459.7,61.3 L459.6,61.6 L459.4,61.8 L459.3,62.0 L459.1,62.3 L459.0,62.5 L458.8,62.8 L458.7,63.0 L458.6,63.2 L458.5,63.4 L458.4,63.7 L458.3,63.9 L458.2,64.1 L458.1,64.3 L458.0,64.5 L457.9,64.7 L457.9,64.9 L457.8,65.1 L457.8,65.3 L457.7,65.5 L457.7,65.6 L457.7,65.8 L457.7,66.0 L457.7,66.1 L457.7,66.3 L457.7,66.4 L457.7,66.5 L457.7,66.7 L457.8,66.8 L457.8,66.9 L457.8,67.0 L457.9,67.1 L458.0,67.2 L458.1,67.3 L458.1,67.3 L458.2,67.4 L458.3,67.5 L458.5,67.5 L458.6,67.5 L458.7,67.6 L458.8,67.6 L459.0,67.6 L459.1,67.6 L459.3,67.6 L459.5,67.6 L459.6,67.6 L459.8,67.5 L460.0,67.5 L460.2,67.5 L460.4,67.4 L460.6,67.3 L460.8,67.3 L461.1,67.2 L461.3,67.1 L461.5,67.0 L461.8,66.9 L462.0,66.8 L462.3,66.6 L462.5,66.5 L462.8,66.4 L463.0,66.2 L463.3,66.1 L463.6,65.9 L463.8,65.8 L464.1,65.6 L464.4,65.4 L464.7,65.2 L464.9,65.1 L465.2,64.9 L465.5,64.7 L465.8,64.5 L466.1,64.3 L466.4,64.1 L466.7,63.8 L466.9,63.6 L467.2,63.4 L467.5,63.2 L467.8,62.9 L468.1,62.7 L468.4,62.5 L468.6,62.2 L468.9,62.0 L469.2,61.8 L469.4,61.5 L469.7,61.3 L470.0,61.1 L470.2,60.8 L470.5,60.6 L470.7,60.3 L471.0,60.1 L471.2,59.9 L471.4,59.6 L471.7,59.4 L471.9,59.2 L472.1,58.9 L472.3,58.7 L472.5,58.5 L472.7,58.3 L472.9,58.1 L473.1,57.8 L473.2,57.6 L473.4,57.4 L473.6,57.2 L473.7,57.0 L473.8,56.9 L474.0,56.7 L474.1,56.5 L474.2,56.3 L474.3,56.2 L474.4,56.0 L474.5,55.9 L474.6,55.7 L474.6,55.6 L474.7,55.5 L474.7,55.3 L474.8,55.2 L474.8,55.1 L474.8,55.0 L474.8,54.9 L474.8,54.9 L474.8,54.8 L474.8,54.7 L474.8,54.7 L474.7,54.7 L474.7,54.6 L474.6,54.6 L474.5,54.6 L474.5,54.6 L474.4,54.6 L474.3,54.6 L474.2,54.6 L474.1,54.7 L474.0,54.7 L473.8,54.8 L473.7,54.8 L473.5,54.9 L473.4,55.0 L473.2,55.1 L473.1,55.2 L472.9,55.3 L472.7,55.4 L472.5,55.5 L472.3,55.7 L472.1,55.8 L471.9,56.0 L471.7,56.1 L471.5,56.3 L471.3,56.5 L471.0,56.7 L470.8,56.9 L470.6,57.1 L470.3,57.3 L470.1,57.5 L469.8,57.7 L469.6,58.0 L469.3,58.2 L469.1,58.5 L468.8,58.7 L468.6,59.0 L468.3,59.2 L468.1,59.5 L467.8,59.8 L467.5,60.0 L467.3,60.3 L467.0,60.6 L466.8,60.9 L466.5,61.2 L466.3,61.5 L466.0,61.8 L465.8,62.1 L465.5,62.4 L465.3,62.7 L465.0,63.0 L464.8,63.3 L464.6,63.6 L464.3,63.9 L464.1,64.2 L463.9,64.5 L463.7,64.8 L463.5,65.1 L463.3,65.4 L463.1,65.7 L462.9,66.0 L462.7,66.3 L462.5,66.6 L462.4,66.8 L462.2,67.1 L462.1,67.4 L461.9,67.7 L461.8,67.9 L461.7,68.2 L461.6,68.5 L461.4,68.7 L461.3,69.0 L461.3,69.2 L461.2,69.4 L461.1,69.7 L461.0,69.9 L461.0,70.1 L461.0,70.3 L460.9,70.5 L460.9,70.7 L460.9,70.9 L460.9,71.0 L460.9,71.2 L461.0,71.3 L461.0,71.4 L461.1,71.6 L461.2,71.7 L461.2,71.8 L461.3,71.9 L461.4,72.0 L461.5,72.0 L461.6,72.1 L461.8,72.1 L461.9,72.2 L462.0,72.2 L462.2,72.2 L462.4,72.3 L462.5,72.3 L462.7,72.3 L462.9,72.2 L463.1,72.2 L463.3,72.2 L463.5,72.1 L463.7,72.1 L464.0,72.0 L464.2,71.9 L464.4,71.9 L464.7,71.8 L464.9,71.7 L465.2,71.5 L465.5,71.4 L465.7,71.3 L466.0,71.2 L466.3,71.0 L466.6,70.9 L466.9,70.7 L467.2,70.5 L467.5,70.4 L467.8,70.2 L468.1,70.0 L468.4,69.8 L468.7,69.6 L469.0,69.4 L469.3,69.2 L469.6,69.0 L469.9,68.7 L470.2,68.5 L470.5,68.3 L470.8,68.1 L471.1,67.8 L471.4,67.6 L471.8,67.3 L472.1,67.1 L472.4,66.8 L472.7,66.6 L473.0,66.3 L473.3,66.1 L473.5,65.8 L473.8,65.6 L474.1,65.3 L474.4,65.0 L474.7,64.8 L474.9,64.5 L475.2,64.3 L475.4,64.0 L475.7,63.8 L475.9,63.5 L476.2,63.3 L476.4,63.0 L476.6,62.8 L476.9,62.6 L477.1,62.3 L477.3,62.1 L477.5,61.9 L477.6,61.7 L477.8,61.4 L478.0,61.2 L478.2,61.0 L478.3,60.8 L478.4,60.6 L478.6,60.4 L478.7,60.3 L478.8,60.1 L478.9,59.9 L479.0,59.8 L479.1,59.6 L479.2,59.5 L479.3,59.3 L479.3,59.2 L479.4,59.1 L479.4,59.0 L479.5,58.9 L479.5,58.8 L479.5,58.7 L479.5,58.6 L479.5,58.5 L479.5,58.5 L479.4,58.4 L479.4,58.4 L479.4,58.3 L479.3,58.3 L479.3,58.3 L479.2,58.3 L479.1,58.3 L479.0,58.3 L478.9,58.3 L478.8,58.4 L478.7,58.4 L478.6,58.5 L478.5,58.5 L478.3,58.6 L478.2,58.7 L478.0,58.7 L477.9,58.8 L477.7,58.9 L477.6,59.0 L477.4,59.2 L477.2,59.3 L477.0,59.4 L476.8,59.6 L476.6,59.7 L476.4,59.9 L476.2,60.1 L476.0,60.2 L475.8,60.4 L475.6,60.6 L475.4,60.8 L475.2,61.0 L474.9,61.2 L474.7,61.4 L474.5,61.6 L474.3,61.8 L474.0,62.1 L473.8,62.3 L473.6,62.5 L473.3,62.8 L473.1,63.0 L472.9,63.3 L472.7,63.5 L472.4,63.8 L472.2,64.0 L472.0,64.3 L471.8,64.6 L471.5,64.8 L471.3,65.1 L471.1,65.4 L470.9,65.6 L470.7,65.9 L470.5,66.2 L470.3,66.4 L470.1,66.7 L469.9,67.0 L469.7,67.2 L469.5,67.5 L469.3,67.8 L469.2,68.0 L469.0,68.3 L468.8,68.5 L468.7,68.8 L468.5,69.0 L468.4,69.3 L468.3,69.5 L468.2,69.8 L468.0,70.0 L467.9,70.2 L467.8,70.5 L467.7,70.7 L467.6,70.9 L467.6,71.1 L467.5,71.3 L467.4,71.5 L467.4,71.7 L467.3,71.9 L467.3,72.1 L467.2,72.2 L467.2,72.4 L467.2,72.6 L467.2,72.7 L467.2,72.9 L467.2,73.0 L467.2,73.1 L467.3,73.3 L467.3,73.4 L467.4,73.5 L467.4,73.6 L467.5,73.7 L467.5,73.8 L467.6,73.8 L467.7,73.9 L467.8,74.0 L467.9,74.0 L468.0,74.0 L468.1,74.1 L468.3,74.1 L468.4,74.1 L468.5,74.1 L468.7,74.1 L468.8,74.1 L469.0,74.1 L469.2,74.1 L469.4,74.1 L469.5,74.0 L469.7,74.0 L469.9,73.9 L470.1,73.9 L470.3,73.8 L470.5,73.7 L470.7,73.6 L470.9,73.5 L471.2,73.5 L471.4,73.4 L471.6,73.2 L471.8,73.1 L472.1,73.0 L472.3,72.9 L472.5,72.7 L472.8,72.6 L473.0,72.5 L473.3,72.3 L473.5,72.2 L473.8,72.0 L474.0,71.8 L474.3,71.7 L474.5,71.5 L474.8,71.3 L475.0,71.2 L475.3,71.0 L475.5,70.8 L475.8,70.6 L476.0,70.4 L476.2,70.2 L476.5,70.1 L476.7,69.9 L477.0,69.7 L477.2,69.5 L477.4,69.3 L477.6,69.1 L477.8,68.9 L478.0,68.7 L478.2,68.5 L478.4,68.3 L478.6,68.1 L478.8,67.9 L479.0,67.7 L479.2,67.5 L479.3,67.3 L479.5,67.1 L479.7,66.9 L479.8,66.7 L480.0,66.5 L480.2,66.4 L480.3,66.2 L480.4,66.0 L480.6,65.9 L480.7,65.7 L480.8,65.6 L481.0,65.4 L481.1,65.3 L481.2,65.2 L481.3,65.0 L481.4,64.9 L481.4,64.8 L481.5,64.7 L481.6,64.6 L481.7,64.5 L481.7,64.4 L481.8,64.3 L481.8,64.3 L481.9,64.2 L481.9,64.1 L482.0,64.1 L482.0,64.0 L482.0,64.0 L482.0,64.0 L482.0,63.9 L482.0,63.9 L482.0,63.9 L482.0,63.9 L482.0,63.9 L482.0,63.9 L481.9,64.0 L481.9,64.0 L481.9,64.0 L481.8,64.1 L481.8,64.1 L481.7,64.2 L481.7,64.2 L481.6,64.3 L481.5,64.4 L481.5,64.5 L481.4,64.6 L481.3,64.7 L481.2,64.8 L481.1,64.9 L481.1,65.0 L481.0,65.1 L480.9,65.2 L480.8,65.4 L480.7,65.5 L480.5,65.7 L480.4,65.8 L480.3,65.9 L480.2,66.1 L480.1,66.3 L480.0,66.4 L479.9,66.6 L479.7,66.8 L479.6,66.9 L479.5,67.1 L479.4,67.3 L479.3,67.4 L479.1,67.6 L479.0,67.8 L478.9,68.0 L478.8,68.2 L478.7,68.3 L478.5,68.5 L478.4,68.7 L478.3,68.9 L478.2,69.1 L478.1,69.2 L478.0,69.4 L477.8,69.6 L477.7,69.8 L477.6,69.9 L477.5,70.1 L477.4,70.3 L477.3,70.4 L477.2,70.6 L477.1,70.8 L477.1,70.9 L477.0,71.1 L476.9,71.2 L476.8,71.3 L476.8,71.5 L476.7,71.6 L476.7,71.7 L476.6,71.8 L476.6,71.9 L476.5,72.0 L476.5,72.1 L476.5,72.2 L476.5,72.3 L476.5,72.3 L476.5,72.4 L476.6,72.4 L476.6,72.4 L476.7,72.3 L476.8,72.2 L477.5,71.6 L477.5,71.7 L477.5,71.7 L477.5,71.8 L477.5,71.8 L477.5,71.9 L477.5,71.9 L477.5,72.0 L477.5,72.0 L477.5,72.0 L477.5,72.1 L477.5,72.1 L477.6,72.1 L477.6,72.2 L477.6,72.2 L477.6,72.2 L477.6,72.2 L477.6,72.3 L477.7,72.3 L477.7,72.3 L477.7,72.3 L477.8,72.4 L477.8,72.4 L477.8,72.4 L477.8,72.4 L477.9,72.4 L477.9,72.4 L478.0,72.4 L478.0,72.4 L478.0,72.4 L478.1,72.4 L478.1,72.4 L478.2,72.4 L478.2,72.4 L478.3,72.4 L478.3,72.4 L478.4,72.4 L478.4,72.4 L478.5,72.4 L478.6,72.4 L478.6,72.4 L478.7,72.4 L478.7,72.3 L478.8,72.3 L478.9,72.3 L478.9,72.3 L479.0,72.3 L479.1,72.2 L479.1,72.2 L479.2,72.2 L479.3,72.2 L479.3,72.1 L479.4,72.1 L479.5,72.1 L479.6,72.1 L479.6,72.0 L479.7,72.0 L479.8,72.0 L479.9,72.0 L479.9,71.9 L480.0,71.9 L480.1,71.9 L480.2,71.8 L480.2,71.8 L480.3,71.8 L480.4,71.7 L480.5,71.7 L480.5,71.7 L480.6,71.7 L480.7,71.6 L480.8,71.6 L480.8,71.6 L480.9,71.5 L481.0,71.5 L481.1,71.5 L481.1,71.5 L481.2,71.4 L481.3,71.4 L481.3,71.4 L481.4,71.4 L481.5,71.3 L481.6,71.3 L481.6,71.3 L481.7,71.3 L481.8,71.3 L481.8,71.2 L481.9,71.2 L481.9,71.2 L482.0,71.2 L482.1,71.2 L482.1,71.2 L482.2,71.2 L482.2,71.1 L482.3,71.1 L482.3,71.1 L482.4,71.1 L482.4,71.1 L482.5,71.1 L482.5,71.1 L482.6,71.1 L482.6,71.1 L482.7,71.1 L482.7,71.1 L482.7,71.1 L482.8,71.2 L482.8,71.2 L482.8,71.2 L482.9,71.2 L482.9,71.2 L482.9,71.2 L482.9,71.3 L483.0,71.3 L483.0,71.3 L483.0,71.3 L483.0,71.4 L483.1,71.4 L483.1,71.4 L483.1,71.4 L483.1,71.5 L483.1,71.5 L483.1,71.5 L483.1,71.6 L483.1,71.6 L483.1,71.7 L483.1,71.7 L483.1,71.8 L483.1,71.8 L483.1,71.9 L483.1,71.9 L483.1,72.0 L483.1,72.0 L483.1,72.1 L483.1,72.1 L483.1,72.2 L483.1,72.2 L483.1,72.3 L483.0,72.3 L483.0,72.4 L483.0,72.5 L483.0,72.5 L483.0,72.6 L483.0,72.7 L483.0,72.7 L482.9,72.8 L482.9,72.9 L482.9,72.9 L482.9,73.0 L482.8,73.1 L482.8,73.1 L482.8,73.2 L482.8,73.3 L482.8,73.3 L482.7,73.4 L482.7,73.5 L482.7,73.5 L482.7,73.6 L482.6,73.7 L482.6,73.7 L482.6,73.8 L482.6,73.9 L482.6,73.9 L482.5,74.0 L482.5,74.1 L482.5,74.1 L482.5,74.2 L482.5,74.3 L482.4,74.3 L482.4,74.4 L482.4,74.5 L482.4,74.5 L482.4,74.6 L482.4,74.7 L482.3,74.7 L482.3,74.8 L482.3,74.8 L482.3,74.9 L482.3,74.9 L482.3,75.0 L482.3,75.0 L482.3,75.1 L482.3,75.1 L482.3,75.2 L482.3,75.2 L482.3,75.3 L482.3,75.3 L482.3,75.4 L482.3,75.4 L482.3,75.5 L482.3,75.5 L482.3,75.5 L482.3,75.6 L482.3,75.6 L482.3,75.6 L482.4,75.7 L482.4,75.7 L482.4,75.7 L482.4,75.7 L482.4,75.8 L482.5,75.8 L482.5,75.8 L482.5,75.8 L482.6,75.8 L482.6,75.8 L482.6,75.9 L482.7,75.9 L482.7,75.9 L482.7,75.9 L482.8,75.9 L482.8,75.9 L482.9,75.9 L482.9,75.9" fill="none" stroke="#ff5c6c" stroke-width="1.6" stroke-linejoin="round"/>
<polygon points="505.6,48.0 505.6,49.3 508.3,52.0 513.7,52.0 516.4,49.3 516.4,48.0" fill="#505050" opacity="1.0"/>
<polygon points="505.6,48.0 508.3,45.3 513.7,45.3 516.4,48.0 513.7,50.7 508.3,50.7" fill="#8e7880" stroke="#3a3a3a" stroke-width="0.5" opacity="1.0"/>
<polygon points="500.5,51.8 500.5,53.1 503.2,55.8 508.6,55.8 511.3,53.1 511.3,51.8" fill="#505050" opacity="1.0"/>
<polygon points="500.5,51.8 503.2,49.1 508.6,49.1 511.3,51.8 508.6,54.5 503.2,54.5" fill="#947c84" stroke="#3a3a3a" stroke-width="0.5" opacity="1.0"/>
<polygon points="474.5,54.1 474.5,55.4 477.2,58.1 482.6,58.1 485.3,55.4 485.3,54.1" fill="#505050" opacity="1.0"/>
<polygon points="474.5,54.1 477.2,51.4 482.6,51.4 485.3,54.1 482.6,56.8 477.2,56.8" fill="#9a7c86" stroke="#3a3a3a" stroke-width="0.5" opacity="1.0"/>
<polygon points="483.1,56.0 483.1,57.3 485.8,60.0 491.2,60.0 493.9,57.3 493.9,56.0" fill="#505050" opacity="1.0"/>
<polygon points="483.1,56.0 485.8,53.3 491.2,53.3 493.9,56.0 491.2,58.7 485.8,58.7" fill="#9a7c86" stroke="#3a3a3a" stroke-width="0.5" opacity="1.0"/>
<polygon points="516.1,60.1 516.1,61.4 518.8,64.1 524.2,64.1 526.9,61.4 526.9,60.1" fill="#505050" opacity="1.0"/>
<polygon points="516.1,60.1 518.8,57.4 524.2,57.4 526.9,60.1 524.2,62.8 518.8,62.8" fill="#8e7880" stroke="#3a3a3a" stroke-width="0.5" opacity="1.0"/>
<polygon points="507.4,58.6 507.4,59.9 510.1,62.6 515.5,62.6 518.2,59.9 518.2,58.6" fill="#505050" opacity="1.0"/>
<polygon points="507.4,58.6 510.1,55.9 515.5,55.9 518.2,58.6 515.5,61.3 510.1,61.3" fill="#947c84" stroke="#3a3a3a" stroke-width="0.5" opacity="1.0"/>
<polygon points="484.9,67.1 484.9,68.4 487.6,71.1 493.0,71.1 495.7,68.4 495.7,67.1" fill="#505050" opacity="1.0"/>
<polygon points="484.9,67.1 487.6,64.4 493.0,64.4 495.7,67.1 493.0,69.8 487.6,69.8" fill="#b08088" stroke="#3a3a3a" stroke-width="0.5" opacity="1.0"/>
<polygon points="490.1,63.4 490.1,64.7 492.8,67.4 498.2,67.4 500.9,64.7 500.9,63.4" fill="#505050" opacity="1.0"/>
<polygon points="490.1,63.4 492.8,60.7 498.2,60.7 500.9,63.4 498.2,66.1 492.8,66.1" fill="#a48088" stroke="#3a3a3a" stroke-width="0.5" opacity="1.0"/>
<ellipse cx="500.7" cy="57.5" rx="9.5" ry="5.4" fill="#dcc0c4" fill-opacity="0.35" stroke="#6a5a5a" stroke-width="0.7"/>
<circle cx="500.7" cy="57.3" r="3.1" fill="#101090"/>
<ellipse cx="486" cy="95" rx="30" ry="14" fill="#e6a8b0" opacity="0.45" filter="url(#b2)"/>
<polygon points="454.1,84.0 457.2,80.6 463.5,80.6 466.7,84.0 466.7,91.0 463.5,94.4 457.2,94.4 454.1,91.0" fill="#e8a0b0" opacity="0.35"/>
<polygon points="465.3,85.6 468.5,82.2 474.8,82.2 477.9,85.6 477.9,92.6 474.8,96.0 468.5,96.0 465.3,92.6" fill="#e8a0b0" opacity="0.35"/>
<polygon points="471.7,98.4 474.9,95.0 481.1,95.0 484.3,98.4 484.3,105.4 481.1,108.8 474.9,108.8 471.7,105.4" fill="#e8a0b0" opacity="0.35"/>
<polygon points="464.5,107.2 467.7,103.8 473.9,103.8 477.1,107.2 477.1,114.2 473.9,117.6 467.7,117.6 464.5,114.2" fill="#e8a0b0" opacity="0.35"/>
<polygon points="496.5,91.2 499.7,87.8 505.9,87.8 509.1,91.2 509.1,98.2 505.9,101.6 499.7,101.6 496.5,98.2" fill="#e8a0b0" opacity="0.35"/>
<polygon points="509.3,92.8 512.5,89.4 518.8,89.4 521.9,92.8 521.9,99.8 518.8,103.2 512.5,103.2 509.3,99.8" fill="#e8a0b0" opacity="0.35"/>
<polygon points="493.3,74.4 493.3,76.1 496.5,79.5 502.8,79.5 505.9,76.1 505.9,74.4" fill="#505050" opacity="1.0"/>
<polygon points="493.3,74.4 496.5,71.0 502.8,71.0 505.9,74.4 502.8,77.8 496.5,77.8" fill="#9c8088" stroke="#3a3a3a" stroke-width="0.5" opacity="1.0"/>
<polygon points="488.5,80.2 488.5,81.9 491.7,85.3 497.9,85.3 501.1,81.9 501.1,80.2" fill="#505050" opacity="1.0"/>
<polygon points="488.5,80.2 491.7,76.8 497.9,76.8 501.1,80.2 497.9,83.6 491.7,83.6" fill="#9c8088" stroke="#3a3a3a" stroke-width="0.5" opacity="1.0"/>
<polygon points="454.1,84.0 454.1,85.7 457.2,89.1 463.5,89.1 466.7,85.7 466.7,84.0" fill="#505050" opacity="1.0"/>
<polygon points="454.1,84.0 457.2,80.6 463.5,80.6 466.7,84.0 463.5,87.4 457.2,87.4" fill="#c08088" stroke="#3a3a3a" stroke-width="0.5" opacity="1.0"/>
<polygon points="465.3,85.6 465.3,87.3 468.5,90.7 474.8,90.7 477.9,87.3 477.9,85.6" fill="#505050" opacity="1.0"/>
<polygon points="465.3,85.6 468.5,82.2 474.8,82.2 477.9,85.6 474.8,89.0 468.5,89.0" fill="#c07c88" stroke="#3a3a3a" stroke-width="0.5" opacity="1.0"/>
<polygon points="496.5,91.2 496.5,92.9 499.7,96.3 505.9,96.3 509.1,92.9 509.1,91.2" fill="#505050" opacity="1.0"/>
<polygon points="496.5,91.2 499.7,87.8 505.9,87.8 509.1,91.2 505.9,94.6 499.7,94.6" fill="#9c8890" stroke="#3a3a3a" stroke-width="0.5" opacity="1.0"/>
<polygon points="509.3,92.8 509.3,94.5 512.5,97.9 518.8,97.9 521.9,94.5 521.9,92.8" fill="#505050" opacity="1.0"/>
<polygon points="509.3,92.8 512.5,89.4 518.8,89.4 521.9,92.8 518.8,96.2 512.5,96.2" fill="#968890" stroke="#3a3a3a" stroke-width="0.5" opacity="1.0"/>
<polygon points="471.7,98.4 471.7,100.1 474.9,103.5 481.1,103.5 484.3,100.1 484.3,98.4" fill="#505050" opacity="1.0"/>
<polygon points="471.7,98.4 474.9,95.0 481.1,95.0 484.3,98.4 481.1,101.8 474.9,101.8" fill="#a08890" stroke="#3a3a3a" stroke-width="0.5" opacity="1.0"/>
<polygon points="464.5,107.2 464.5,108.9 467.7,112.3 473.9,112.3 477.1,108.9 477.1,107.2" fill="#505050" opacity="1.0"/>
<polygon points="464.5,107.2 467.7,103.8 473.9,103.8 477.1,107.2 473.9,110.6 467.7,110.6" fill="#9a8a90" stroke="#3a3a3a" stroke-width="0.5" opacity="1.0"/>
<ellipse cx="487.1" cy="89" rx="12" ry="7.2" fill="#e8c0c6" fill-opacity="0.35" stroke="#6a5a5a" stroke-width="0.8"/>
<circle cx="487.1" cy="88.8" r="3.6" fill="#101090"/>
<text x="444.0" y="100.5" font-size="7.2" text-anchor="start" font-weight="normal" fill="#222"  style="">CuPc</text>
<text x="420.5" y="121.0" font-size="7.6" text-anchor="start" font-weight="normal" fill="#222"  style="">TiSe<tspan font-size="5" dy="1.5">2</tspan></text>
<g opacity="0.18" filter="url(#b1)"><ellipse cx="603" cy="70" rx="24" ry="6" fill="#8a8a8a"/><ellipse cx="612" cy="106" rx="30" ry="9" fill="#8a8a8a"/></g>
<g filter="url(#b1)">
<polygon points="571.0,57.0 575.8,52.0 585.2,52.0 590.0,57.0 585.2,62.0 575.8,62.0" fill="#d42020"/>
<line x1="600.7" y1="57.8" x2="580.5" y2="57" stroke="#d42020" stroke-width="4"/>
<polygon points="614.0,58.0 618.8,53.0 628.2,53.0 633.0,58.0 628.2,63.0 618.8,63.0" fill="#d42020"/>
<line x1="600.7" y1="57.8" x2="623.5" y2="58" stroke="#d42020" stroke-width="4"/>
<polygon points="590.0,49.2 594.2,45.0 602.8,45.0 607.0,49.2 602.8,53.4 594.2,53.4" fill="#d42020"/>
<line x1="600.7" y1="57.8" x2="598.5" y2="49.2" stroke="#d42020" stroke-width="4"/>
<polygon points="597.5,67.5 602.2,62.5 611.8,62.5 616.5,67.5 611.8,72.5 602.2,72.5" fill="#d42020"/>
<line x1="600.7" y1="57.8" x2="607" y2="67.5" stroke="#d42020" stroke-width="4"/>
</g>
<g filter="url(#b1)">
<polygon points="577.5,83.0 583.2,76.5 594.8,76.5 600.5,83.0 594.8,89.5 583.2,89.5" fill="#1818d0"/>
<line x1="614.9" y1="89.2" x2="589" y2="83" stroke="#1818d0" stroke-width="5"/>
<polygon points="607.5,77.0 612.8,72.0 623.2,72.0 628.5,77.0 623.2,82.0 612.8,82.0" fill="#1818d0"/>
<line x1="614.9" y1="89.2" x2="618" y2="77" stroke="#1818d0" stroke-width="5"/>
<polygon points="632.5,96.0 638.8,88.5 651.2,88.5 657.5,96.0 651.2,103.5 638.8,103.5" fill="#1818d0"/>
<line x1="614.9" y1="89.2" x2="645" y2="96" stroke="#1818d0" stroke-width="5"/>
<polygon points="598.0,104.0 604.0,96.5 616.0,96.5 622.0,104.0 616.0,111.5 604.0,111.5" fill="#1818d0"/>
<line x1="614.9" y1="89.2" x2="610" y2="104" stroke="#1818d0" stroke-width="5"/>
</g>
<ellipse cx="600.7" cy="57.8" rx="10" ry="5.6" fill="#e0d0d0" fill-opacity="0.45" stroke="#981818" stroke-width="1.3"/>
<ellipse cx="614.9" cy="89.2" rx="13.5" ry="7.8" fill="#d4d4e4" fill-opacity="0.45" stroke="#14148a" stroke-width="1.6"/>
<circle cx="600.7" cy="57.8" r="3" fill="#101090"/>
<circle cx="614.9" cy="89.2" r="3.9" fill="#101090"/>
<path d="M563,52 Q570,58 566,66" fill="none" stroke="#d02020" stroke-width="1.4"/><polygon points="566,68 563.5,63.5 568.5,64.5" fill="#d02020"/>
<path d="M612.5,118.5 Q603,121 596,114.5" fill="none" stroke="#1020c0" stroke-width="1.5"/><polygon points="593.8,112.2 599.5,113 596,117.5" fill="#1020c0"/>
<text x="634.5" y="56.5" font-size="7.2" text-anchor="start" font-weight="normal" fill="#222"  style="">CuPc<tspan font-size="4.5" dy="-3">+</tspan></text>
<text x="656.4" y="85.8" font-size="7.2" text-anchor="start" font-weight="normal" fill="#222"  style="">CuPc<tspan font-size="4.5" dy="-3">0</tspan></text>
<rect x="544" y="52" width="3.6" height="4" fill="#807868" stroke="#333" stroke-width="0.4"/>
<circle cx="545.8" cy="51.5" r="2.3" fill="none" stroke="#8a7a60" stroke-width="0.8"/>
<rect x="534" y="57" width="3" height="3" fill="#807868" transform="rotate(-40 535.5 58.5)"/>
<rect x="554.5" y="57" width="3" height="3" fill="#807868" transform="rotate(40 556 58.5)"/>
<circle cx="545.8" cy="74" r="14.6" fill="#847c6c" stroke="#3a3530" stroke-width="0.8"/>
<circle cx="545.8" cy="74" r="12.4" fill="url(#watch)" stroke="#5a5248" stroke-width="0.6"/>
<line x1="545.8" y1="63.8" x2="545.8" y2="62.4" stroke="#333" stroke-width="0.7"/>
<line x1="550.9" y1="65.2" x2="551.6" y2="64.0" stroke="#333" stroke-width="0.7"/>
<line x1="554.6" y1="68.9" x2="555.8" y2="68.2" stroke="#333" stroke-width="0.7"/>
<line x1="556.0" y1="74.0" x2="557.4" y2="74.0" stroke="#333" stroke-width="0.7"/>
<line x1="554.6" y1="79.1" x2="555.8" y2="79.8" stroke="#333" stroke-width="0.7"/>
<line x1="550.9" y1="82.8" x2="551.6" y2="84.0" stroke="#333" stroke-width="0.7"/>
<line x1="545.8" y1="84.2" x2="545.8" y2="85.6" stroke="#333" stroke-width="0.7"/>
<line x1="540.7" y1="82.8" x2="540.0" y2="84.0" stroke="#333" stroke-width="0.7"/>
<line x1="537.0" y1="79.1" x2="535.8" y2="79.8" stroke="#333" stroke-width="0.7"/>
<line x1="535.6" y1="74.0" x2="534.2" y2="74.0" stroke="#333" stroke-width="0.7"/>
<line x1="537.0" y1="68.9" x2="535.8" y2="68.2" stroke="#333" stroke-width="0.7"/>
<line x1="540.7" y1="65.2" x2="540.0" y2="64.0" stroke="#333" stroke-width="0.7"/>
<line x1="545.8" y1="74" x2="545.6" y2="64.5" stroke="#222" stroke-width="0.9"/><line x1="545.8" y1="74" x2="551.5" y2="79" stroke="#222" stroke-width="0.9"/>
<polygon points="534.7,95 551,95 551,90 565.5,101 551,112 551,107 534.7,107" fill="url(#arrowg)" stroke="#3a3530" stroke-width="0.6"/>
<polygon points="534.7,95 537,95 537,107 534.7,107" fill="#3a3530"/>
<line x1="439.60" y1="151.00" x2="439.60" y2="226.50" stroke="#222" stroke-width="0.9" />
<polygon points="439.6,147.8 437.8,152.5 441.4,152.5" fill="#222"/>
<line x1="439.60" y1="226.50" x2="676.00" y2="226.50" stroke="#222" stroke-width="0.9" />
<polygon points="679.5,226.5 674.5,224.7 674.5,228.3" fill="#222"/>
<line x1="494.80" y1="226.50" x2="494.80" y2="229.50" stroke="#222" stroke-width="0.9" />
<line x1="609.30" y1="226.50" x2="609.30" y2="229.50" stroke="#222" stroke-width="0.9" />
<path d="M464,145.9 Q494.8,250.6 520.3,145.3" fill="none" stroke="#000" stroke-width="2.6"/>
<path d="M574.1,144.6 L574.7,145.7 L575.6,147.3 L576.6,149.1 L577.7,151.2 L578.9,153.3 L580.1,155.4 L581.2,157.5 L582.2,159.3 L583.1,161.0 L584.0,162.6 L584.8,164.2 L585.7,165.7 L586.5,167.2 L587.3,168.7 L588.2,170.2 L589.0,171.7 L589.9,173.2 L590.7,174.7 L591.5,176.2 L592.4,177.7 L593.2,179.1 L594.1,180.5 L594.9,181.8 L595.8,183.1 L596.7,184.3 L597.5,185.4 L598.4,186.5 L599.3,187.5 L600.1,188.4 L601.0,189.3 L601.8,190.2 L602.6,191.0 L603.4,191.7 L604.1,192.4 L604.9,193.0 L605.6,193.6 L606.4,194.1 L607.1,194.6 L607.8,195.1 L608.5,195.6 L609.2,196.1 L609.9,196.5 L610.6,196.9 L611.3,197.3 L612.0,197.7 L612.6,198.0 L613.3,198.3 L614.0,198.6 L614.7,198.8 L615.4,199.1 L616.1,199.3 L616.8,199.4 L617.5,199.5 L618.2,199.6 L618.8,199.6 L619.4,199.6 L619.9,199.5 L620.4,199.5 L620.8,199.4 L621.2,199.2 L621.6,199.0 L622.0,198.6 L622.5,198.2 L623.0,197.5 L623.6,196.7 L624.3,195.7 L625.0,194.5 L625.7,193.3 L626.5,191.9 L627.2,190.5 L628.0,189.1 L628.7,187.6 L629.4,186.1 L630.2,184.5 L630.9,182.8 L631.6,181.0 L632.4,179.3 L633.1,177.5 L633.7,175.7 L634.4,174.0 L635.0,172.3 L635.6,170.7 L636.2,169.0 L636.7,167.3 L637.2,165.7 L637.8,164.0 L638.3,162.2 L638.9,160.4 L639.5,158.4 L640.2,156.2 L641.0,153.9 L641.7,151.7 L642.4,149.5 L643.0,147.5 L643.5,145.8 L643.9,144.6" fill="none" stroke="#d02828" stroke-width="2.4"/>
<path d="M574.1,144.6 L574.5,145.8 L575.0,147.5 L575.6,149.5 L576.3,151.7 L577.0,153.9 L577.8,156.2 L578.5,158.4 L579.1,160.4 L579.7,162.2 L580.2,164.0 L580.8,165.7 L581.3,167.3 L581.8,169.0 L582.4,170.7 L583.0,172.3 L583.6,174.0 L584.3,175.7 L584.9,177.5 L585.6,179.3 L586.4,181.0 L587.1,182.8 L587.8,184.5 L588.6,186.1 L589.3,187.6 L590.0,189.1 L590.8,190.5 L591.5,191.9 L592.3,193.3 L593.0,194.5 L593.7,195.7 L594.4,196.7 L595.0,197.5 L595.5,198.2 L596.0,198.6 L596.4,199.0 L596.8,199.2 L597.2,199.4 L597.6,199.5 L598.1,199.5 L598.6,199.6 L599.2,199.6 L599.8,199.6 L600.5,199.5 L601.2,199.4 L601.9,199.3 L602.6,199.1 L603.3,198.8 L604.0,198.6 L604.7,198.3 L605.4,198.0 L606.0,197.7 L606.7,197.3 L607.4,196.9 L608.1,196.5 L608.8,196.1 L609.5,195.6 L610.2,195.1 L610.9,194.6 L611.6,194.1 L612.4,193.6 L613.1,193.0 L613.9,192.4 L614.6,191.7 L615.4,191.0 L616.2,190.2 L617.0,189.3 L617.9,188.4 L618.7,187.5 L619.6,186.5 L620.5,185.4 L621.3,184.3 L622.2,183.1 L623.1,181.8 L623.9,180.5 L624.8,179.1 L625.6,177.7 L626.5,176.2 L627.3,174.7 L628.2,173.2 L629.0,171.7 L629.8,170.2 L630.7,168.7 L631.5,167.2 L632.3,165.7 L633.2,164.2 L634.0,162.6 L634.9,161.0 L635.8,159.3 L636.8,157.5 L637.9,155.4 L639.1,153.3 L640.3,151.2 L641.4,149.1 L642.4,147.3 L643.3,145.7 L643.9,144.6" fill="none" stroke="#1a28f0" stroke-width="2.4"/>
<line x1="596.10" y1="176.30" x2="596.10" y2="210.30" stroke="#1a28f0" stroke-width="1.0" stroke-dasharray="2,1.2"/>
<line x1="609.50" y1="176.30" x2="609.50" y2="210.30" stroke="#111" stroke-width="1.1" stroke-dasharray="2,1.2"/>
<line x1="622.80" y1="176.30" x2="622.80" y2="210.30" stroke="#d02828" stroke-width="1.0" stroke-dasharray="2,1.2"/>
<line x1="599.00" y1="213.00" x2="619.80" y2="213.00" stroke="#000" stroke-width="1.7" />
<polygon points="595.8,213 600.8,210.2 600.8,215.8" fill="#000"/><polygon points="623,213 618,210.2 618,215.8" fill="#000"/>
<text x="590.5" y="222.6" font-size="7.6" text-anchor="middle" font-weight="normal" fill="#222"  style="">-15°</text>
<text x="628.5" y="222.6" font-size="7.6" text-anchor="middle" font-weight="normal" fill="#222"  style="">+15°</text>
<text x="452.3" y="183.8" font-size="7.8" text-anchor="start" font-weight="normal" fill="#222"  style="">CuPc</text>
<text x="559.4" y="183.3" font-size="7" text-anchor="start" font-weight="normal" fill="#222"  style="">CuPc<tspan font-size="4.5" dy="-3">0</tspan></text>
<text x="637.8" y="183.3" font-size="7" text-anchor="start" font-weight="normal" fill="#222"  style="">CuPc<tspan font-size="4.5" dy="-3">+</tspan></text>
<text transform="translate(435.8,193.5) rotate(-90)" font-size="7.2" text-anchor="middle" fill="#222">potential energy</text>
<text x="468.4" y="236.8" font-size="8.2" text-anchor="start" font-weight="normal" fill="#222"  style=""><tspan font-style="italic">t</tspan><tspan font-size="5.5" dy="1.8">-1</tspan><tspan dy="-1.8">= -700 fs</tspan></text>
<text x="592.8" y="236.8" font-size="8.2" text-anchor="start" font-weight="normal" fill="#222"  style=""><tspan font-style="italic">t</tspan><tspan font-size="5.5" dy="1.8">1</tspan><tspan dy="-1.8">= 375 fs</tspan></text>
<path d="M449.26,293.28 L453.06,290.13 M449.26,293.28 L445.25,290.40 M453.06,290.13 L451.47,285.39 M445.25,290.40 L446.50,285.56 M451.47,285.39 L453.80,281.01 M453.80,281.01 L451.17,276.80 M451.17,276.80 L446.20,276.98 M446.20,276.98 L443.87,281.36 M443.87,281.36 L446.50,285.56 M446.50,285.56 L451.47,285.39 M453.80,281.01 L456.93,279.12 M443.87,281.36 L440.61,279.69 M451.17,276.80 L452.83,273.62 M446.20,276.98 L444.32,273.92 M453.06,290.13 L457.65,291.46 M457.65,291.46 L459.30,295.95 M456.42,299.96 L459.57,303.76 M456.42,299.96 L459.30,295.95 M459.57,303.76 L464.31,302.17 M459.30,295.95 L464.14,297.20 M464.31,302.17 L468.69,304.50 M468.69,304.50 L472.90,301.87 M472.90,301.87 L472.72,296.90 M472.72,296.90 L468.34,294.57 M468.34,294.57 L464.14,297.20 M464.14,297.20 L464.31,302.17 M468.69,304.50 L470.58,307.63 M468.34,294.57 L470.01,291.31 M472.90,301.87 L476.08,303.53 M472.72,296.90 L475.78,295.02 M459.57,303.76 L458.24,308.35 M458.24,308.35 L453.75,310.00 M449.74,307.12 L445.94,310.27 M449.74,307.12 L453.75,310.00 M445.94,310.27 L447.53,315.01 M453.75,310.00 L452.50,314.84 M447.53,315.01 L445.20,319.39 M445.20,319.39 L447.83,323.60 M447.83,323.60 L452.80,323.42 M452.80,323.42 L455.13,319.04 M455.13,319.04 L452.50,314.84 M452.50,314.84 L447.53,315.01 M445.20,319.39 L442.07,321.28 M455.13,319.04 L458.39,320.71 M447.83,323.60 L446.17,326.78 M452.80,323.42 L454.68,326.48 M445.94,310.27 L441.35,308.94 M441.35,308.94 L439.70,304.45 M442.58,300.44 L439.43,296.64 M442.58,300.44 L439.70,304.45 M439.43,296.64 L434.69,298.23 M439.70,304.45 L434.86,303.20 M434.69,298.23 L430.31,295.90 M430.31,295.90 L426.10,298.53 M426.10,298.53 L426.28,303.50 M426.28,303.50 L430.66,305.83 M430.66,305.83 L434.86,303.20 M434.86,303.20 L434.69,298.23 M430.31,295.90 L428.42,292.77 M430.66,305.83 L428.99,309.09 M426.10,298.53 L422.92,296.87 M426.28,303.50 L423.22,305.38 M439.43,296.64 L440.76,292.05 M440.76,292.05 L445.25,290.40" stroke="#505050" stroke-width="0.72" fill="none"/>
<circle cx="457.65" cy="291.46" r="1.25" fill="#8a94f0"/>
<circle cx="449.26" cy="293.28" r="1.25" fill="#8a94f0"/>
<circle cx="458.24" cy="308.35" r="1.25" fill="#8a94f0"/>
<circle cx="456.42" cy="299.96" r="1.25" fill="#8a94f0"/>
<circle cx="441.35" cy="308.94" r="1.25" fill="#8a94f0"/>
<circle cx="449.74" cy="307.12" r="1.25" fill="#8a94f0"/>
<circle cx="440.76" cy="292.05" r="1.25" fill="#8a94f0"/>
<circle cx="442.58" cy="300.44" r="1.25" fill="#8a94f0"/>
<circle cx="449.5" cy="300.2" r="3.7" fill="url(#cu)"/>
<path d="M494.66,279.38 L498.46,276.23 M494.66,279.38 L490.65,276.50 M498.46,276.23 L496.87,271.49 M490.65,276.50 L491.90,271.66 M496.87,271.49 L499.20,267.11 M499.20,267.11 L496.57,262.90 M496.57,262.90 L491.60,263.08 M491.60,263.08 L489.27,267.46 M489.27,267.46 L491.90,271.66 M491.90,271.66 L496.87,271.49 M499.20,267.11 L502.33,265.22 M489.27,267.46 L486.01,265.79 M496.57,262.90 L498.23,259.72 M491.60,263.08 L489.72,260.02 M498.46,276.23 L503.05,277.56 M503.05,277.56 L504.70,282.05 M501.82,286.06 L504.97,289.86 M501.82,286.06 L504.70,282.05 M504.97,289.86 L509.71,288.27 M504.70,282.05 L509.54,283.30 M509.71,288.27 L514.09,290.60 M514.09,290.60 L518.30,287.97 M518.30,287.97 L518.12,283.00 M518.12,283.00 L513.74,280.67 M513.74,280.67 L509.54,283.30 M509.54,283.30 L509.71,288.27 M514.09,290.60 L515.98,293.73 M513.74,280.67 L515.41,277.41 M518.30,287.97 L521.48,289.63 M518.12,283.00 L521.18,281.12 M504.97,289.86 L503.64,294.45 M503.64,294.45 L499.15,296.10 M495.14,293.22 L491.34,296.37 M495.14,293.22 L499.15,296.10 M491.34,296.37 L492.93,301.11 M499.15,296.10 L497.90,300.94 M492.93,301.11 L490.60,305.49 M490.60,305.49 L493.23,309.70 M493.23,309.70 L498.20,309.52 M498.20,309.52 L500.53,305.14 M500.53,305.14 L497.90,300.94 M497.90,300.94 L492.93,301.11 M490.60,305.49 L487.47,307.38 M500.53,305.14 L503.79,306.81 M493.23,309.70 L491.57,312.88 M498.20,309.52 L500.08,312.58 M491.34,296.37 L486.75,295.04 M486.75,295.04 L485.10,290.55 M487.98,286.54 L484.83,282.74 M487.98,286.54 L485.10,290.55 M484.83,282.74 L480.09,284.33 M485.10,290.55 L480.26,289.30 M480.09,284.33 L475.71,282.00 M475.71,282.00 L471.50,284.63 M471.50,284.63 L471.68,289.60 M471.68,289.60 L476.06,291.93 M476.06,291.93 L480.26,289.30 M480.26,289.30 L480.09,284.33 M475.71,282.00 L473.82,278.87 M476.06,291.93 L474.39,295.19 M471.50,284.63 L468.32,282.97 M471.68,289.60 L468.62,291.48 M484.83,282.74 L486.16,278.15 M486.16,278.15 L490.65,276.50" stroke="#505050" stroke-width="0.72" fill="none"/>
<circle cx="503.05" cy="277.56" r="1.25" fill="#8a94f0"/>
<circle cx="494.66" cy="279.38" r="1.25" fill="#8a94f0"/>
<circle cx="503.64" cy="294.45" r="1.25" fill="#8a94f0"/>
<circle cx="501.82" cy="286.06" r="1.25" fill="#8a94f0"/>
<circle cx="486.75" cy="295.04" r="1.25" fill="#8a94f0"/>
<circle cx="495.14" cy="293.22" r="1.25" fill="#8a94f0"/>
<circle cx="486.16" cy="278.15" r="1.25" fill="#8a94f0"/>
<circle cx="487.98" cy="286.54" r="1.25" fill="#8a94f0"/>
<circle cx="494.9" cy="286.3" r="3.7" fill="url(#cu)"/>
<path d="M510.96,326.58 L514.76,323.43 M510.96,326.58 L506.95,323.70 M514.76,323.43 L513.17,318.69 M506.95,323.70 L508.20,318.86 M513.17,318.69 L515.50,314.31 M515.50,314.31 L512.87,310.10 M512.87,310.10 L507.90,310.28 M507.90,310.28 L505.57,314.66 M505.57,314.66 L508.20,318.86 M508.20,318.86 L513.17,318.69 M515.50,314.31 L518.63,312.42 M505.57,314.66 L502.31,312.99 M512.87,310.10 L514.53,306.92 M507.90,310.28 L506.02,307.22 M514.76,323.43 L519.35,324.76 M519.35,324.76 L521.00,329.25 M518.12,333.26 L521.27,337.06 M518.12,333.26 L521.00,329.25 M521.27,337.06 L526.01,335.47 M521.00,329.25 L525.84,330.50 M526.01,335.47 L530.39,337.80 M530.39,337.80 L534.60,335.17 M534.60,335.17 L534.42,330.20 M534.42,330.20 L530.04,327.87 M530.04,327.87 L525.84,330.50 M525.84,330.50 L526.01,335.47 M530.39,337.80 L532.28,340.93 M530.04,327.87 L531.71,324.61 M534.60,335.17 L537.78,336.83 M534.42,330.20 L537.48,328.32 M521.27,337.06 L519.94,341.65 M519.94,341.65 L515.45,343.30 M511.44,340.42 L507.64,343.57 M511.44,340.42 L515.45,343.30 M507.64,343.57 L509.23,348.31 M515.45,343.30 L514.20,348.14 M509.23,348.31 L506.90,352.69 M506.90,352.69 L509.53,356.90 M509.53,356.90 L514.50,356.72 M514.50,356.72 L516.83,352.34 M516.83,352.34 L514.20,348.14 M514.20,348.14 L509.23,348.31 M506.90,352.69 L503.77,354.58 M516.83,352.34 L520.09,354.01 M509.53,356.90 L507.87,360.08 M514.50,356.72 L516.38,359.78 M507.64,343.57 L503.05,342.24 M503.05,342.24 L501.40,337.75 M504.28,333.74 L501.13,329.94 M504.28,333.74 L501.40,337.75 M501.13,329.94 L496.39,331.53 M501.40,337.75 L496.56,336.50 M496.39,331.53 L492.01,329.20 M492.01,329.20 L487.80,331.83 M487.80,331.83 L487.98,336.80 M487.98,336.80 L492.36,339.13 M492.36,339.13 L496.56,336.50 M496.56,336.50 L496.39,331.53 M492.01,329.20 L490.12,326.07 M492.36,339.13 L490.69,342.39 M487.80,331.83 L484.62,330.17 M487.98,336.80 L484.92,338.68 M501.13,329.94 L502.46,325.35 M502.46,325.35 L506.95,323.70" stroke="#505050" stroke-width="0.72" fill="none"/>
<circle cx="519.35" cy="324.76" r="1.25" fill="#8a94f0"/>
<circle cx="510.96" cy="326.58" r="1.25" fill="#8a94f0"/>
<circle cx="519.94" cy="341.65" r="1.25" fill="#8a94f0"/>
<circle cx="518.12" cy="333.26" r="1.25" fill="#8a94f0"/>
<circle cx="503.05" cy="342.24" r="1.25" fill="#8a94f0"/>
<circle cx="511.44" cy="340.42" r="1.25" fill="#8a94f0"/>
<circle cx="502.46" cy="325.35" r="1.25" fill="#8a94f0"/>
<circle cx="504.28" cy="333.74" r="1.25" fill="#8a94f0"/>
<circle cx="511.2" cy="333.5" r="3.7" fill="url(#cu)"/>
<path d="M464.56,340.28 L468.36,337.13 M464.56,340.28 L460.55,337.40 M468.36,337.13 L466.77,332.39 M460.55,337.40 L461.80,332.56 M466.77,332.39 L469.10,328.01 M469.10,328.01 L466.47,323.80 M466.47,323.80 L461.50,323.98 M461.50,323.98 L459.17,328.36 M459.17,328.36 L461.80,332.56 M461.80,332.56 L466.77,332.39 M469.10,328.01 L472.23,326.12 M459.17,328.36 L455.91,326.69 M466.47,323.80 L468.13,320.62 M461.50,323.98 L459.62,320.92 M468.36,337.13 L472.95,338.46 M472.95,338.46 L474.60,342.95 M471.72,346.96 L474.87,350.76 M471.72,346.96 L474.60,342.95 M474.87,350.76 L479.61,349.17 M474.60,342.95 L479.44,344.20 M479.61,349.17 L483.99,351.50 M483.99,351.50 L488.20,348.87 M488.20,348.87 L488.02,343.90 M488.02,343.90 L483.64,341.57 M483.64,341.57 L479.44,344.20 M479.44,344.20 L479.61,349.17 M483.99,351.50 L485.88,354.63 M483.64,341.57 L485.31,338.31 M488.20,348.87 L491.38,350.53 M488.02,343.90 L491.08,342.02 M474.87,350.76 L473.54,355.35 M473.54,355.35 L469.05,357.00 M465.04,354.12 L461.24,357.27 M465.04,354.12 L469.05,357.00 M461.24,357.27 L462.83,362.01 M469.05,357.00 L467.80,361.84 M462.83,362.01 L460.50,366.39 M460.50,366.39 L463.13,370.60 M463.13,370.60 L468.10,370.42 M468.10,370.42 L470.43,366.04 M470.43,366.04 L467.80,361.84 M467.80,361.84 L462.83,362.01 M460.50,366.39 L457.37,368.28 M470.43,366.04 L473.69,367.71 M463.13,370.60 L461.47,373.78 M468.10,370.42 L469.98,373.48 M461.24,357.27 L456.65,355.94 M456.65,355.94 L455.00,351.45 M457.88,347.44 L454.73,343.64 M457.88,347.44 L455.00,351.45 M454.73,343.64 L449.99,345.23 M455.00,351.45 L450.16,350.20 M449.99,345.23 L445.61,342.90 M445.61,342.90 L441.40,345.53 M441.40,345.53 L441.58,350.50 M441.58,350.50 L445.96,352.83 M445.96,352.83 L450.16,350.20 M450.16,350.20 L449.99,345.23 M445.61,342.90 L443.72,339.77 M445.96,352.83 L444.29,356.09 M441.40,345.53 L438.22,343.87 M441.58,350.50 L438.52,352.38 M454.73,343.64 L456.06,339.05 M456.06,339.05 L460.55,337.40" stroke="#505050" stroke-width="0.72" fill="none"/>
<circle cx="472.95" cy="338.46" r="1.25" fill="#8a94f0"/>
<circle cx="464.56" cy="340.28" r="1.25" fill="#8a94f0"/>
<circle cx="473.54" cy="355.35" r="1.25" fill="#8a94f0"/>
<circle cx="471.72" cy="346.96" r="1.25" fill="#8a94f0"/>
<circle cx="456.65" cy="355.94" r="1.25" fill="#8a94f0"/>
<circle cx="465.04" cy="354.12" r="1.25" fill="#8a94f0"/>
<circle cx="456.06" cy="339.05" r="1.25" fill="#8a94f0"/>
<circle cx="457.88" cy="347.44" r="1.25" fill="#8a94f0"/>
<circle cx="464.8" cy="347.2" r="3.7" fill="url(#cu)"/>
<polygon points="454.4,296.6 497.5,286.8 508.5,329.5 462.4,343.5" fill="#cfcfcf" opacity="0.82"/>
<circle cx="449.5" cy="300.2" r="3.7" fill="url(#cu)"/>
<circle cx="494.9" cy="286.3" r="3.7" fill="url(#cu)"/>
<circle cx="511.2" cy="333.5" r="3.7" fill="url(#cu)"/>
<circle cx="464.8" cy="347.2" r="3.7" fill="url(#cu)"/>
<line x1="436.50" y1="354.80" x2="456.62" y2="271.58" stroke="#111" stroke-width="0.9" />
<polygon points="457.2,269.2 457.7,272.9 455.0,272.3" fill="#111"/>
<line x1="436.50" y1="354.80" x2="536.25" y2="325.29" stroke="#111" stroke-width="0.9" />
<polygon points="538.6,324.6 535.6,326.9 534.8,324.3" fill="#111"/>
<line x1="510.40" y1="303.00" x2="510.40" y2="331.50" stroke="#111" stroke-width="0.8" stroke-dasharray="1.5,1.2"/>
<circle cx="501.8" cy="303.6" r="1" fill="#111"/>
<path d="M533.8,323.8 Q533,306 513.5,305.2" fill="none" stroke="#111" stroke-width="0.9"/><polygon points="511.5,305.2 515.8,303.2 515.5,307.5" fill="#111"/>
<text x="534.5" y="311.8" font-size="8.5" text-anchor="middle" font-weight="normal" fill="#222"  style="">75°</text>
<text x="537.3" y="334.2" font-size="7.2" text-anchor="start" font-weight="normal" fill="#222"  style=""><tspan font-weight="bold">s</tspan><tspan font-size="4.8" dy="1.5" font-weight="bold">1</tspan></text>
<text x="444.7" y="270.3" font-size="7.2" text-anchor="start" font-weight="normal" fill="#222"  style=""><tspan font-weight="bold">s</tspan><tspan font-size="4.8" dy="1.5" font-weight="bold">2</tspan></text>
<text x="460.5" y="318.3" font-size="7.5" text-anchor="start" font-weight="normal" fill="#666"  style="">a<tspan font-size="5" dy="1.5">2</tspan></text>
<text x="492.5" y="348.8" font-size="7.5" text-anchor="start" font-weight="normal" fill="#666"  style="">a<tspan font-size="5" dy="1.5">1</tspan></text>
<path d="M582.21,292.51 L585.20,288.59 M582.21,292.51 L577.66,290.61 M585.20,288.59 L582.59,284.33 M577.66,290.61 L577.79,285.61 M582.59,284.33 L583.88,279.53 M583.88,279.53 L580.36,276.03 M580.36,276.03 L575.56,277.31 M575.56,277.31 L574.27,282.11 M574.27,282.11 L577.79,285.61 M577.79,285.61 L582.59,284.33 M583.88,279.53 L586.50,276.99 M574.27,282.11 L570.73,281.22 M580.36,276.03 L581.27,272.55 M575.56,277.31 L573.04,274.76 M585.20,288.59 L589.97,288.85 M589.97,288.85 L592.59,292.86 M590.69,297.41 L594.61,300.40 M590.69,297.41 L592.59,292.86 M594.61,300.40 L598.87,297.79 M592.59,292.86 L597.59,292.99 M598.87,297.79 L603.67,299.08 M603.67,299.08 L607.17,295.56 M607.17,295.56 L605.89,290.76 M605.89,290.76 L601.09,289.47 M601.09,289.47 L597.59,292.99 M597.59,292.99 L598.87,297.79 M603.67,299.08 L606.21,301.70 M601.09,289.47 L601.98,285.93 M607.17,295.56 L610.65,296.47 M605.89,290.76 L608.44,288.24 M594.61,300.40 L594.35,305.17 M594.35,305.17 L590.34,307.79 M585.79,305.89 L582.80,309.81 M585.79,305.89 L590.34,307.79 M582.80,309.81 L585.41,314.07 M590.34,307.79 L590.21,312.79 M585.41,314.07 L584.12,318.87 M584.12,318.87 L587.64,322.37 M587.64,322.37 L592.44,321.09 M592.44,321.09 L593.73,316.29 M593.73,316.29 L590.21,312.79 M590.21,312.79 L585.41,314.07 M584.12,318.87 L581.50,321.41 M593.73,316.29 L597.27,317.18 M587.64,322.37 L586.73,325.85 M592.44,321.09 L594.96,323.64 M582.80,309.81 L578.03,309.55 M578.03,309.55 L575.41,305.54 M577.31,300.99 L573.39,298.00 M577.31,300.99 L575.41,305.54 M573.39,298.00 L569.13,300.61 M575.41,305.54 L570.41,305.41 M569.13,300.61 L564.33,299.32 M564.33,299.32 L560.83,302.84 M560.83,302.84 L562.11,307.64 M562.11,307.64 L566.91,308.93 M566.91,308.93 L570.41,305.41 M570.41,305.41 L569.13,300.61 M564.33,299.32 L561.79,296.70 M566.91,308.93 L566.02,312.47 M560.83,302.84 L557.35,301.93 M562.11,307.64 L559.56,310.16 M573.39,298.00 L573.65,293.23 M573.65,293.23 L577.66,290.61" stroke="#505050" stroke-width="0.72" fill="none"/>
<circle cx="589.97" cy="288.85" r="1.25" fill="#8a94f0"/>
<circle cx="582.21" cy="292.51" r="1.25" fill="#8a94f0"/>
<circle cx="594.35" cy="305.17" r="1.25" fill="#8a94f0"/>
<circle cx="590.69" cy="297.41" r="1.25" fill="#8a94f0"/>
<circle cx="578.03" cy="309.55" r="1.25" fill="#8a94f0"/>
<circle cx="585.79" cy="305.89" r="1.25" fill="#8a94f0"/>
<circle cx="573.65" cy="293.23" r="1.25" fill="#8a94f0"/>
<circle cx="577.31" cy="300.99" r="1.25" fill="#8a94f0"/>
<circle cx="584" cy="299.2" r="3.7" fill="url(#cu)"/>
<path d="M628.71,278.21 L631.70,274.29 M628.71,278.21 L624.16,276.31 M631.70,274.29 L629.09,270.03 M624.16,276.31 L624.29,271.31 M629.09,270.03 L630.38,265.23 M630.38,265.23 L626.86,261.73 M626.86,261.73 L622.06,263.01 M622.06,263.01 L620.77,267.81 M620.77,267.81 L624.29,271.31 M624.29,271.31 L629.09,270.03 M630.38,265.23 L633.00,262.69 M620.77,267.81 L617.23,266.92 M626.86,261.73 L627.77,258.25 M622.06,263.01 L619.54,260.46 M631.70,274.29 L636.47,274.55 M636.47,274.55 L639.09,278.56 M637.19,283.11 L641.11,286.10 M637.19,283.11 L639.09,278.56 M641.11,286.10 L645.37,283.49 M639.09,278.56 L644.09,278.69 M645.37,283.49 L650.17,284.78 M650.17,284.78 L653.67,281.26 M653.67,281.26 L652.39,276.46 M652.39,276.46 L647.59,275.17 M647.59,275.17 L644.09,278.69 M644.09,278.69 L645.37,283.49 M650.17,284.78 L652.71,287.40 M647.59,275.17 L648.48,271.63 M653.67,281.26 L657.15,282.17 M652.39,276.46 L654.94,273.94 M641.11,286.10 L640.85,290.87 M640.85,290.87 L636.84,293.49 M632.29,291.59 L629.30,295.51 M632.29,291.59 L636.84,293.49 M629.30,295.51 L631.91,299.77 M636.84,293.49 L636.71,298.49 M631.91,299.77 L630.62,304.57 M630.62,304.57 L634.14,308.07 M634.14,308.07 L638.94,306.79 M638.94,306.79 L640.23,301.99 M640.23,301.99 L636.71,298.49 M636.71,298.49 L631.91,299.77 M630.62,304.57 L628.00,307.11 M640.23,301.99 L643.77,302.88 M634.14,308.07 L633.23,311.55 M638.94,306.79 L641.46,309.34 M629.30,295.51 L624.53,295.25 M624.53,295.25 L621.91,291.24 M623.81,286.69 L619.89,283.70 M623.81,286.69 L621.91,291.24 M619.89,283.70 L615.63,286.31 M621.91,291.24 L616.91,291.11 M615.63,286.31 L610.83,285.02 M610.83,285.02 L607.33,288.54 M607.33,288.54 L608.61,293.34 M608.61,293.34 L613.41,294.63 M613.41,294.63 L616.91,291.11 M616.91,291.11 L615.63,286.31 M610.83,285.02 L608.29,282.40 M613.41,294.63 L612.52,298.17 M607.33,288.54 L603.85,287.63 M608.61,293.34 L606.06,295.86 M619.89,283.70 L620.15,278.93 M620.15,278.93 L624.16,276.31" stroke="#505050" stroke-width="0.72" fill="none"/>
<circle cx="636.47" cy="274.55" r="1.25" fill="#8a94f0"/>
<circle cx="628.71" cy="278.21" r="1.25" fill="#8a94f0"/>
<circle cx="640.85" cy="290.87" r="1.25" fill="#8a94f0"/>
<circle cx="637.19" cy="283.11" r="1.25" fill="#8a94f0"/>
<circle cx="624.53" cy="295.25" r="1.25" fill="#8a94f0"/>
<circle cx="632.29" cy="291.59" r="1.25" fill="#8a94f0"/>
<circle cx="620.15" cy="278.93" r="1.25" fill="#8a94f0"/>
<circle cx="623.81" cy="286.69" r="1.25" fill="#8a94f0"/>
<circle cx="630.5" cy="284.9" r="3.7" fill="url(#cu)"/>
<path d="M597.61,338.51 L600.60,334.59 M597.61,338.51 L593.06,336.61 M600.60,334.59 L597.99,330.33 M593.06,336.61 L593.19,331.61 M597.99,330.33 L599.28,325.53 M599.28,325.53 L595.76,322.03 M595.76,322.03 L590.96,323.31 M590.96,323.31 L589.67,328.11 M589.67,328.11 L593.19,331.61 M593.19,331.61 L597.99,330.33 M599.28,325.53 L601.90,322.99 M589.67,328.11 L586.13,327.22 M595.76,322.03 L596.67,318.55 M590.96,323.31 L588.44,320.76 M600.60,334.59 L605.37,334.85 M605.37,334.85 L607.99,338.86 M606.09,343.41 L610.01,346.40 M606.09,343.41 L607.99,338.86 M610.01,346.40 L614.27,343.79 M607.99,338.86 L612.99,338.99 M614.27,343.79 L619.07,345.08 M619.07,345.08 L622.57,341.56 M622.57,341.56 L621.29,336.76 M621.29,336.76 L616.49,335.47 M616.49,335.47 L612.99,338.99 M612.99,338.99 L614.27,343.79 M619.07,345.08 L621.61,347.70 M616.49,335.47 L617.38,331.93 M622.57,341.56 L626.05,342.47 M621.29,336.76 L623.84,334.24 M610.01,346.40 L609.75,351.17 M609.75,351.17 L605.74,353.79 M601.19,351.89 L598.20,355.81 M601.19,351.89 L605.74,353.79 M598.20,355.81 L600.81,360.07 M605.74,353.79 L605.61,358.79 M600.81,360.07 L599.52,364.87 M599.52,364.87 L603.04,368.37 M603.04,368.37 L607.84,367.09 M607.84,367.09 L609.13,362.29 M609.13,362.29 L605.61,358.79 M605.61,358.79 L600.81,360.07 M599.52,364.87 L596.90,367.41 M609.13,362.29 L612.67,363.18 M603.04,368.37 L602.13,371.85 M607.84,367.09 L610.36,369.64 M598.20,355.81 L593.43,355.55 M593.43,355.55 L590.81,351.54 M592.71,346.99 L588.79,344.00 M592.71,346.99 L590.81,351.54 M588.79,344.00 L584.53,346.61 M590.81,351.54 L585.81,351.41 M584.53,346.61 L579.73,345.32 M579.73,345.32 L576.23,348.84 M576.23,348.84 L577.51,353.64 M577.51,353.64 L582.31,354.93 M582.31,354.93 L585.81,351.41 M585.81,351.41 L584.53,346.61 M579.73,345.32 L577.19,342.70 M582.31,354.93 L581.42,358.47 M576.23,348.84 L572.75,347.93 M577.51,353.64 L574.96,356.16 M588.79,344.00 L589.05,339.23 M589.05,339.23 L593.06,336.61" stroke="#505050" stroke-width="0.72" fill="none"/>
<circle cx="605.37" cy="334.85" r="1.25" fill="#8a94f0"/>
<circle cx="597.61" cy="338.51" r="1.25" fill="#8a94f0"/>
<circle cx="609.75" cy="351.17" r="1.25" fill="#8a94f0"/>
<circle cx="606.09" cy="343.41" r="1.25" fill="#8a94f0"/>
<circle cx="593.43" cy="355.55" r="1.25" fill="#8a94f0"/>
<circle cx="601.19" cy="351.89" r="1.25" fill="#8a94f0"/>
<circle cx="589.05" cy="339.23" r="1.25" fill="#8a94f0"/>
<circle cx="592.71" cy="346.99" r="1.25" fill="#8a94f0"/>
<circle cx="599.4" cy="345.2" r="3.7" fill="url(#cu)"/>
<path d="M645.21,326.31 L648.20,322.39 M645.21,326.31 L640.66,324.41 M648.20,322.39 L645.59,318.13 M640.66,324.41 L640.79,319.41 M645.59,318.13 L646.88,313.33 M646.88,313.33 L643.36,309.83 M643.36,309.83 L638.56,311.11 M638.56,311.11 L637.27,315.91 M637.27,315.91 L640.79,319.41 M640.79,319.41 L645.59,318.13 M646.88,313.33 L649.50,310.79 M637.27,315.91 L633.73,315.02 M643.36,309.83 L644.27,306.35 M638.56,311.11 L636.04,308.56 M648.20,322.39 L652.97,322.65 M652.97,322.65 L655.59,326.66 M653.69,331.21 L657.61,334.20 M653.69,331.21 L655.59,326.66 M657.61,334.20 L661.87,331.59 M655.59,326.66 L660.59,326.79 M661.87,331.59 L666.67,332.88 M666.67,332.88 L670.17,329.36 M670.17,329.36 L668.89,324.56 M668.89,324.56 L664.09,323.27 M664.09,323.27 L660.59,326.79 M660.59,326.79 L661.87,331.59 M666.67,332.88 L669.21,335.50 M664.09,323.27 L664.98,319.73 M670.17,329.36 L673.65,330.27 M668.89,324.56 L671.44,322.04 M657.61,334.20 L657.35,338.97 M657.35,338.97 L653.34,341.59 M648.79,339.69 L645.80,343.61 M648.79,339.69 L653.34,341.59 M645.80,343.61 L648.41,347.87 M653.34,341.59 L653.21,346.59 M648.41,347.87 L647.12,352.67 M647.12,352.67 L650.64,356.17 M650.64,356.17 L655.44,354.89 M655.44,354.89 L656.73,350.09 M656.73,350.09 L653.21,346.59 M653.21,346.59 L648.41,347.87 M647.12,352.67 L644.50,355.21 M656.73,350.09 L660.27,350.98 M650.64,356.17 L649.73,359.65 M655.44,354.89 L657.96,357.44 M645.80,343.61 L641.03,343.35 M641.03,343.35 L638.41,339.34 M640.31,334.79 L636.39,331.80 M640.31,334.79 L638.41,339.34 M636.39,331.80 L632.13,334.41 M638.41,339.34 L633.41,339.21 M632.13,334.41 L627.33,333.12 M627.33,333.12 L623.83,336.64 M623.83,336.64 L625.11,341.44 M625.11,341.44 L629.91,342.73 M629.91,342.73 L633.41,339.21 M633.41,339.21 L632.13,334.41 M627.33,333.12 L624.79,330.50 M629.91,342.73 L629.02,346.27 M623.83,336.64 L620.35,335.73 M625.11,341.44 L622.56,343.96 M636.39,331.80 L636.65,327.03 M636.65,327.03 L640.66,324.41" stroke="#505050" stroke-width="0.72" fill="none"/>
<circle cx="652.97" cy="322.65" r="1.25" fill="#8a94f0"/>
<circle cx="645.21" cy="326.31" r="1.25" fill="#8a94f0"/>
<circle cx="657.35" cy="338.97" r="1.25" fill="#8a94f0"/>
<circle cx="653.69" cy="331.21" r="1.25" fill="#8a94f0"/>
<circle cx="641.03" cy="343.35" r="1.25" fill="#8a94f0"/>
<circle cx="648.79" cy="339.69" r="1.25" fill="#8a94f0"/>
<circle cx="636.65" cy="327.03" r="1.25" fill="#8a94f0"/>
<circle cx="640.31" cy="334.79" r="1.25" fill="#8a94f0"/>
<circle cx="647" cy="333" r="3.7" fill="url(#cu)"/>
<line x1="570.60" y1="354.20" x2="591.99" y2="270.57" stroke="#111" stroke-width="0.9" />
<polygon points="592.6,268.2 593.1,271.9 590.4,271.2" fill="#111"/>
<line x1="570.60" y1="354.20" x2="674.05" y2="324.28" stroke="#111" stroke-width="0.9" />
<polygon points="676.4,323.6 673.4,325.9 672.6,323.2" fill="#111"/>
<line x1="584.00" y1="299.20" x2="599.40" y2="345.20" stroke="#999" stroke-width="0.6" />
<line x1="630.50" y1="284.90" x2="667.04" y2="274.85" stroke="#111" stroke-width="0.9" />
<polygon points="669.4,274.2 666.4,276.5 665.7,273.8" fill="#111"/>
<line x1="622.50" y1="308.00" x2="637.60" y2="260.00" stroke="#111" stroke-width="0.8" />
<line x1="624.70" y1="308.60" x2="639.80" y2="260.60" stroke="#111" stroke-width="0.8" />
<polygon points="639.2,256.6 636.6,262 640.8,262.8" fill="#111"/>
<line x1="647.00" y1="333.00" x2="669.75" y2="323.17" stroke="#111" stroke-width="0.9" />
<polygon points="672.0,322.2 669.3,324.9 668.2,322.3" fill="#111"/>
<line x1="637.80" y1="301.40" x2="640.00" y2="323.00" stroke="#333" stroke-width="0.8" stroke-dasharray="1.4,1.1"/>
<line x1="635.50" y1="301.40" x2="637.80" y2="323.00" stroke="#333" stroke-width="0.8" stroke-dasharray="1.4,1.1"/>
<path d="M643.4,267.5 Q655,266 657.5,276.8" fill="none" stroke="#111" stroke-width="0.9"/><polygon points="642,267.6 645.8,265.6 645.8,269.6" fill="#111"/>
<path d="M642.3,306.5 Q666,303 668.2,322.8" fill="none" stroke="#111" stroke-width="0.9"/><polygon points="640.5,306.8 644.5,304.6 644.8,308.8" fill="#111"/>
<path d="M578.8,302.2 L578.4,301.4 L578.2,300.7 L578.0,299.8 L578.0,299.0 L578.1,298.2 L578.3,297.3 L578.6,296.6 L579.0,295.8 L579.5,295.2 L580.1,294.6 L580.8,294.1 L581.6,293.7 L582.3,293.4 L583.2,293.3 L584.0,293.2 L584.8,293.3 L585.7,293.4 L586.4,293.7 L587.2,294.1 L587.9,294.6 L588.5,295.2 L589.0,295.8 L589.4,296.6 L589.7,297.3 L589.9,298.2 L590.0,299.0 L590.0,299.8 L589.8,300.7 L589.6,301.4 L589.2,302.2 L588.7,302.9 L588.2,303.5 L587.5,304.1 L586.8,304.5 L586.1,304.8 L585.2,305.1 L584.4,305.2 L583.6,305.2 L582.8,305.1 L581.9,304.8" fill="none" stroke="#e02828" stroke-width="1.4"/>
<polygon points="579.5,303.9 581.8,306.7 583.0,303.3" fill="#e02828"/>
<path d="M635.7,287.9 L636.1,287.1 L636.3,286.4 L636.5,285.5 L636.5,284.7 L636.4,283.9 L636.2,283.0 L635.9,282.3 L635.5,281.5 L635.0,280.9 L634.4,280.3 L633.7,279.8 L632.9,279.4 L632.2,279.1 L631.3,279.0 L630.5,278.9 L629.7,279.0 L628.8,279.1 L628.1,279.4 L627.3,279.8 L626.6,280.3 L626.0,280.9 L625.5,281.5 L625.1,282.3 L624.8,283.0 L624.6,283.9 L624.5,284.7 L624.5,285.5 L624.7,286.4 L624.9,287.1 L625.3,287.9 L625.8,288.6 L626.3,289.2 L627.0,289.8 L627.7,290.2 L628.4,290.5 L629.3,290.8 L630.1,290.9 L630.9,290.9 L631.7,290.8 L632.6,290.5" fill="none" stroke="#1a28e8" stroke-width="1.4"/>
<polygon points="635.0,289.6 632.7,292.4 631.5,289.0" fill="#1a28e8"/>
<path d="M604.6,348.2 L605.0,347.4 L605.2,346.7 L605.4,345.8 L605.4,345.0 L605.3,344.2 L605.1,343.3 L604.8,342.6 L604.4,341.8 L603.9,341.2 L603.3,340.6 L602.6,340.1 L601.8,339.7 L601.1,339.4 L600.2,339.3 L599.4,339.2 L598.6,339.3 L597.7,339.4 L597.0,339.7 L596.2,340.1 L595.5,340.6 L594.9,341.2 L594.4,341.8 L594.0,342.6 L593.7,343.3 L593.5,344.2 L593.4,345.0 L593.4,345.8 L593.6,346.7 L593.8,347.4 L594.2,348.2 L594.7,348.9 L595.2,349.5 L595.9,350.1 L596.6,350.5 L597.3,350.8 L598.2,351.1 L599.0,351.2 L599.8,351.2 L600.6,351.1 L601.5,350.8" fill="none" stroke="#1a28e8" stroke-width="1.4"/>
<polygon points="603.9,349.9 601.6,352.7 600.4,349.3" fill="#1a28e8"/>
<path d="M641.8,336.0 L641.4,335.2 L641.2,334.5 L641.0,333.6 L641.0,332.8 L641.1,332.0 L641.3,331.1 L641.6,330.4 L642.0,329.6 L642.5,329.0 L643.1,328.4 L643.8,327.9 L644.6,327.5 L645.3,327.2 L646.2,327.1 L647.0,327.0 L647.8,327.1 L648.7,327.2 L649.4,327.5 L650.2,327.9 L650.9,328.4 L651.5,329.0 L652.0,329.6 L652.4,330.4 L652.7,331.1 L652.9,332.0 L653.0,332.8 L653.0,333.6 L652.8,334.5 L652.6,335.2 L652.2,336.0 L651.7,336.7 L651.2,337.3 L650.5,337.9 L649.8,338.3 L649.1,338.6 L648.2,338.9 L647.4,339.0 L646.6,339.0 L645.8,338.9 L644.9,338.6" fill="none" stroke="#e02828" stroke-width="1.4"/>
<polygon points="642.5,337.7 644.8,340.5 646.0,337.1" fill="#e02828"/>
<text x="660.0" y="269.3" font-size="8.5" text-anchor="middle" font-weight="normal" fill="#222"  style="">60°</text>
<text x="668.5" y="311.0" font-size="8.5" text-anchor="middle" font-weight="normal" fill="#222"  style="">90°</text>
<text x="582.5" y="269.8" font-size="7.2" text-anchor="middle" font-weight="normal" fill="#222"  style=""><tspan font-weight="bold">s</tspan><tspan font-size="4.8" dy="1.5" font-weight="bold">2</tspan></text>
<text x="642.6" y="259.5" font-size="7.2" text-anchor="middle" font-weight="normal" fill="#222"  style=""><tspan font-weight="bold">s</tspan><tspan font-size="4.8" dy="1.5" font-weight="bold">2</tspan></text>
<text x="665.8" y="285.8" font-size="7.2" text-anchor="start" font-weight="normal" fill="#222"  style=""><tspan font-weight="bold">s</tspan><tspan font-size="4.8" dy="1.5" font-weight="bold">1</tspan></text>
<text x="675.2" y="331.5" font-size="7.2" text-anchor="start" font-weight="normal" fill="#222"  style=""><tspan font-weight="bold">s</tspan><tspan font-size="4.8" dy="1.5" font-weight="bold">1</tspan></text>
<text x="599.0" y="321.5" font-size="8" text-anchor="start" font-weight="normal" fill="#777"  style="">1/2 a'</text>
<text x="623.0" y="362.0" font-size="8" text-anchor="start" font-weight="normal" fill="#777"  style="">1/2 a'<tspan font-size="5" dy="1.5">1</tspan></text>
<text x="6.3" y="10" font-size="14.5" font-weight="bold" fill="#111">a</text>
<text x="188.2" y="10" font-size="14.5" font-weight="bold" fill="#111">b</text>
<text x="6" y="277.7" font-size="14.5" font-weight="bold" fill="#111">c</text>
<text x="136.9" y="275.7" font-size="14.5" font-weight="bold" fill="#111">d</text>
<text x="388.3" y="10.2" font-size="14.5" font-weight="bold" fill="#111">e</text>
<text x="401" y="274.5" font-size="14.5" font-weight="bold" fill="#111">f</text>
<text x="560.3" y="274.8" font-size="14.5" font-weight="bold" fill="#111">g</text>
</svg></body></html>
